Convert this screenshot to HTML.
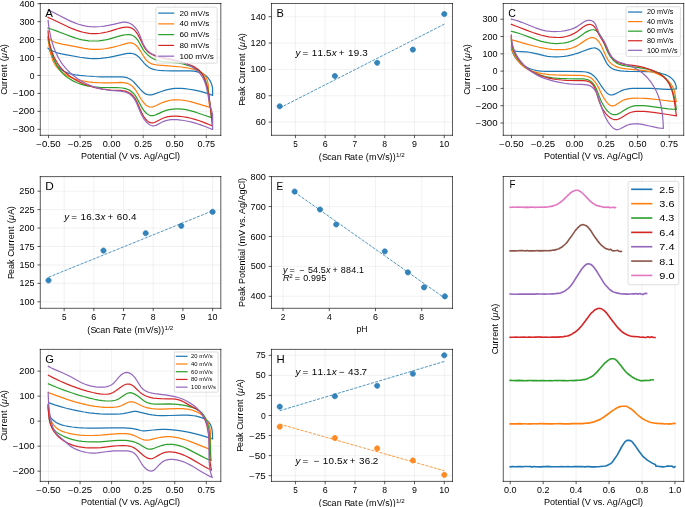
<!DOCTYPE html>
<html><head><meta charset="utf-8"><title>Figure</title>
<style>html,body{margin:0;padding:0;background:#fff;}body{width:685px;height:507px;overflow:hidden;font-family:"Liberation Sans",sans-serif;}svg{display:block;filter:blur(0.35px);}</style>
</head><body>
<svg width="685" height="507" viewBox="0 0 840.49 622.08" version="1.1">
<defs>
<style type="text/css">*{stroke-linejoin: round; stroke-linecap: butt}</style>
</defs>
<g id="figure_1">
<g id="patch_1">
<path d="M 0 622.08 
L 840.49 622.08 
L 840.49 0 
L 0 0 
z
" style="fill: #ffffff"/>
</g>
<g id="axes_1">
<g id="patch_2">
<path d="M 49.44 166.01 
L 270.92 166.01 
L 270.92 4.29 
L 49.44 4.29 
z
" style="fill: #ffffff"/>
</g>
<g id="matplotlib.axis_1">
<g id="xtick_1">
<g id="line2d_1">
<path d="M 59.51 166.01 
L 59.51 4.29 
" clip-path="url(#p12bb316b77)" style="fill: none; stroke: #b0b0b0; stroke-opacity: 0.25; stroke-width: 0.8; stroke-linecap: square"/>
</g>
<g id="line2d_2">
<defs>
<path id="mfdaa00ae71" d="M 0 0 
L 0 3.5 
" style="stroke: #000000; stroke-width: 0.8"/>
</defs>
<g>
<use href="#mfdaa00ae71" x="59.51" y="166.01" style="stroke: #000000; stroke-width: 0.8"/>
</g>
</g>
<g id="text_1">
<text style="font-size: 10px; font-family: 'Liberation Sans', sans-serif; text-anchor: middle" x="59.51" y="180.86" transform="rotate(-0 59.51 180.86)" textLength="29.96" lengthAdjust="spacingAndGlyphs">−0.50</text>
</g>
</g>
<g id="xtick_2">
<g id="line2d_3">
<path d="M 98.23 166.01 
L 98.23 4.29 
" clip-path="url(#p12bb316b77)" style="fill: none; stroke: #b0b0b0; stroke-opacity: 0.25; stroke-width: 0.8; stroke-linecap: square"/>
</g>
<g id="line2d_4">
<g>
<use href="#mfdaa00ae71" x="98.23" y="166.01" style="stroke: #000000; stroke-width: 0.8"/>
</g>
</g>
<g id="text_2">
<text style="font-size: 10px; font-family: 'Liberation Sans', sans-serif; text-anchor: middle" x="98.23" y="180.86" transform="rotate(-0 98.23 180.86)" textLength="29.78" lengthAdjust="spacingAndGlyphs">−0.25</text>
</g>
</g>
<g id="xtick_3">
<g id="line2d_5">
<path d="M 136.95 166.01 
L 136.95 4.29 
" clip-path="url(#p12bb316b77)" style="fill: none; stroke: #b0b0b0; stroke-opacity: 0.25; stroke-width: 0.8; stroke-linecap: square"/>
</g>
<g id="line2d_6">
<g>
<use href="#mfdaa00ae71" x="136.95" y="166.01" style="stroke: #000000; stroke-width: 0.8"/>
</g>
</g>
<g id="text_3">
<text style="font-size: 10px; font-family: 'Liberation Sans', sans-serif; text-anchor: middle" x="136.95" y="180.86" transform="rotate(-0 136.95 180.86)" textLength="21.81" lengthAdjust="spacingAndGlyphs">0.00</text>
</g>
</g>
<g id="xtick_4">
<g id="line2d_7">
<path d="M 175.67 166.01 
L 175.67 4.29 
" clip-path="url(#p12bb316b77)" style="fill: none; stroke: #b0b0b0; stroke-opacity: 0.25; stroke-width: 0.8; stroke-linecap: square"/>
</g>
<g id="line2d_8">
<g>
<use href="#mfdaa00ae71" x="175.67" y="166.01" style="stroke: #000000; stroke-width: 0.8"/>
</g>
</g>
<g id="text_4">
<text style="font-size: 10px; font-family: 'Liberation Sans', sans-serif; text-anchor: middle" x="175.67" y="180.86" transform="rotate(-0 175.67 180.86)" textLength="21.63" lengthAdjust="spacingAndGlyphs">0.25</text>
</g>
</g>
<g id="xtick_5">
<g id="line2d_9">
<path d="M 214.39 166.01 
L 214.39 4.29 
" clip-path="url(#p12bb316b77)" style="fill: none; stroke: #b0b0b0; stroke-opacity: 0.25; stroke-width: 0.8; stroke-linecap: square"/>
</g>
<g id="line2d_10">
<g>
<use href="#mfdaa00ae71" x="214.39" y="166.01" style="stroke: #000000; stroke-width: 0.8"/>
</g>
</g>
<g id="text_5">
<text style="font-size: 10px; font-family: 'Liberation Sans', sans-serif; text-anchor: middle" x="214.39" y="180.86" transform="rotate(-0 214.39 180.86)" textLength="21.81" lengthAdjust="spacingAndGlyphs">0.50</text>
</g>
</g>
<g id="xtick_6">
<g id="line2d_11">
<path d="M 253.10 166.01 
L 253.10 4.29 
" clip-path="url(#p12bb316b77)" style="fill: none; stroke: #b0b0b0; stroke-opacity: 0.25; stroke-width: 0.8; stroke-linecap: square"/>
</g>
<g id="line2d_12">
<g>
<use href="#mfdaa00ae71" x="253.10" y="166.01" style="stroke: #000000; stroke-width: 0.8"/>
</g>
</g>
<g id="text_6">
<text style="font-size: 10px; font-family: 'Liberation Sans', sans-serif; text-anchor: middle" x="253.10" y="180.86" transform="rotate(-0 253.10 180.86)" textLength="21.63" lengthAdjust="spacingAndGlyphs">0.75</text>
</g>
</g>
<g id="text_7">
<text style="font-size: 10px; font-family: 'Liberation Sans', sans-serif; text-anchor: middle" x="160.18" y="194.63" transform="rotate(-0 160.18 194.63)" textLength="121.56" lengthAdjust="spacingAndGlyphs">Potential (V vs. Ag/AgCl)</text>
</g>
</g>
<g id="matplotlib.axis_2">
<g id="ytick_1">
<g id="line2d_13">
<path d="M 49.44 158.63 
L 270.92 158.63 
" clip-path="url(#p12bb316b77)" style="fill: none; stroke: #b0b0b0; stroke-opacity: 0.25; stroke-width: 0.8; stroke-linecap: square"/>
</g>
<g id="line2d_14">
<defs>
<path id="m08813e3456" d="M 0 0 
L -3.5 0 
" style="stroke: #000000; stroke-width: 0.8"/>
</defs>
<g>
<use href="#m08813e3456" x="49.44" y="158.63" style="stroke: #000000; stroke-width: 0.8"/>
</g>
</g>
<g id="text_8">
<text style="font-size: 10px; font-family: 'Liberation Sans', sans-serif; text-anchor: end" x="42.44" y="162.43" transform="rotate(-0 42.44 162.43)" textLength="26.79" lengthAdjust="spacingAndGlyphs">−300</text>
</g>
</g>
<g id="ytick_2">
<g id="line2d_15">
<path d="M 49.44 136.61 
L 270.92 136.61 
" clip-path="url(#p12bb316b77)" style="fill: none; stroke: #b0b0b0; stroke-opacity: 0.25; stroke-width: 0.8; stroke-linecap: square"/>
</g>
<g id="line2d_16">
<g>
<use href="#m08813e3456" x="49.44" y="136.61" style="stroke: #000000; stroke-width: 0.8"/>
</g>
</g>
<g id="text_9">
<text style="font-size: 10px; font-family: 'Liberation Sans', sans-serif; text-anchor: end" x="42.44" y="140.41" transform="rotate(-0 42.44 140.41)" textLength="26.79" lengthAdjust="spacingAndGlyphs">−200</text>
</g>
</g>
<g id="ytick_3">
<g id="line2d_17">
<path d="M 49.44 114.60 
L 270.92 114.60 
" clip-path="url(#p12bb316b77)" style="fill: none; stroke: #b0b0b0; stroke-opacity: 0.25; stroke-width: 0.8; stroke-linecap: square"/>
</g>
<g id="line2d_18">
<g>
<use href="#m08813e3456" x="49.44" y="114.60" style="stroke: #000000; stroke-width: 0.8"/>
</g>
</g>
<g id="text_10">
<text style="font-size: 10px; font-family: 'Liberation Sans', sans-serif; text-anchor: end" x="42.44" y="118.40" transform="rotate(-0 42.44 118.40)" textLength="26.79" lengthAdjust="spacingAndGlyphs">−100</text>
</g>
</g>
<g id="ytick_4">
<g id="line2d_19">
<path d="M 49.44 92.58 
L 270.92 92.58 
" clip-path="url(#p12bb316b77)" style="fill: none; stroke: #b0b0b0; stroke-opacity: 0.25; stroke-width: 0.8; stroke-linecap: square"/>
</g>
<g id="line2d_20">
<g>
<use href="#m08813e3456" x="49.44" y="92.58" style="stroke: #000000; stroke-width: 0.8"/>
</g>
</g>
<g id="text_11">
<text style="font-size: 10px; font-family: 'Liberation Sans', sans-serif; text-anchor: end" x="42.44" y="96.38" transform="rotate(-0 42.44 96.38)" textLength="5.86" lengthAdjust="spacingAndGlyphs">0</text>
</g>
</g>
<g id="ytick_5">
<g id="line2d_21">
<path d="M 49.44 70.56 
L 270.92 70.56 
" clip-path="url(#p12bb316b77)" style="fill: none; stroke: #b0b0b0; stroke-opacity: 0.25; stroke-width: 0.8; stroke-linecap: square"/>
</g>
<g id="line2d_22">
<g>
<use href="#m08813e3456" x="49.44" y="70.56" style="stroke: #000000; stroke-width: 0.8"/>
</g>
</g>
<g id="text_12">
<text style="font-size: 10px; font-family: 'Liberation Sans', sans-serif; text-anchor: end" x="42.44" y="74.36" transform="rotate(-0 42.44 74.36)" textLength="18.60" lengthAdjust="spacingAndGlyphs">100</text>
</g>
</g>
<g id="ytick_6">
<g id="line2d_23">
<path d="M 49.44 48.54 
L 270.92 48.54 
" clip-path="url(#p12bb316b77)" style="fill: none; stroke: #b0b0b0; stroke-opacity: 0.25; stroke-width: 0.8; stroke-linecap: square"/>
</g>
<g id="line2d_24">
<g>
<use href="#m08813e3456" x="49.44" y="48.54" style="stroke: #000000; stroke-width: 0.8"/>
</g>
</g>
<g id="text_13">
<text style="font-size: 10px; font-family: 'Liberation Sans', sans-serif; text-anchor: end" x="42.44" y="52.34" transform="rotate(-0 42.44 52.34)" textLength="18.69" lengthAdjust="spacingAndGlyphs">200</text>
</g>
</g>
<g id="ytick_7">
<g id="line2d_25">
<path d="M 49.44 26.53 
L 270.92 26.53 
" clip-path="url(#p12bb316b77)" style="fill: none; stroke: #b0b0b0; stroke-opacity: 0.25; stroke-width: 0.8; stroke-linecap: square"/>
</g>
<g id="line2d_26">
<g>
<use href="#m08813e3456" x="49.44" y="26.53" style="stroke: #000000; stroke-width: 0.8"/>
</g>
</g>
<g id="text_14">
<text style="font-size: 10px; font-family: 'Liberation Sans', sans-serif; text-anchor: end" x="42.44" y="30.33" transform="rotate(-0 42.44 30.33)" textLength="18.52" lengthAdjust="spacingAndGlyphs">300</text>
</g>
</g>
<g id="ytick_8">
<g id="line2d_27">
<path d="M 49.44 4.51 
L 270.92 4.51 
" clip-path="url(#p12bb316b77)" style="fill: none; stroke: #b0b0b0; stroke-opacity: 0.25; stroke-width: 0.8; stroke-linecap: square"/>
</g>
<g id="line2d_28">
<g>
<use href="#m08813e3456" x="49.44" y="4.51" style="stroke: #000000; stroke-width: 0.8"/>
</g>
</g>
<g id="text_15">
<text style="font-size: 10px; font-family: 'Liberation Sans', sans-serif; text-anchor: end" x="42.44" y="8.31" transform="rotate(-0 42.44 8.31)" textLength="18.62" lengthAdjust="spacingAndGlyphs">400</text>
</g>
</g>
<g id="text_16">
<g transform="translate(8.88 116.25) rotate(-90) scale(1.1 1)">
<text>
<tspan x="0.00" y="-0.40" style="font-size: 10px; font-family: 'Liberation Sans'">C</tspan>
<tspan x="6.34" y="-0.40" style="font-size: 10px; font-family: 'Liberation Sans'">u</tspan>
<tspan x="12.10" y="-0.40" style="font-size: 10px; font-family: 'Liberation Sans'">r</tspan>
<tspan x="15.84" y="-0.40" style="font-size: 10px; font-family: 'Liberation Sans'">r</tspan>
<tspan x="19.58" y="-0.40" style="font-size: 10px; font-family: 'Liberation Sans'">e</tspan>
<tspan x="25.17" y="-0.40" style="font-size: 10px; font-family: 'Liberation Sans'">n</tspan>
<tspan x="30.93" y="-0.40" style="font-size: 10px; font-family: 'Liberation Sans'">t</tspan>
<tspan x="34.50" y="-0.40" style="font-size: 10px; font-family: 'Liberation Sans'"> </tspan>
<tspan x="37.39" y="-0.40" style="font-size: 10px; font-family: 'Liberation Sans'">(</tspan>
<tspan x="46.72" y="-0.40" style="font-size: 10px; font-family: 'Liberation Sans'">A</tspan>
<tspan x="52.94" y="-0.40" style="font-size: 10px; font-family: 'Liberation Sans'">)</tspan>
<tspan x="40.94" y="-0.40" style="font-style: italic; font-size: 10px; font-family: 'Liberation Sans'">μ</tspan>
</text>
</g>
</g>
</g>
<g id="line2d_29">
<path d="M 58.89 59.14 
L 60.97 60.57 
L 63.12 61.82 
L 65.33 62.89 
L 68.36 64.10 
L 71.46 65.08 
L 75.43 66.08 
L 80.28 67.05 
L 98.19 70.23 
L 103.90 71.03 
L 108.80 71.53 
L 113.71 71.80 
L 118.63 71.82 
L 123.55 71.60 
L 128.45 71.12 
L 133.32 70.39 
L 138.17 69.41 
L 154.60 65.80 
L 157.10 65.50 
L 159.55 65.41 
L 161.91 65.61 
L 163.43 65.92 
L 164.88 66.40 
L 166.28 67.03 
L 167.62 67.80 
L 169.51 69.22 
L 171.27 70.91 
L 173.48 73.44 
L 177.34 78.00 
L 179.12 79.77 
L 180.99 81.36 
L 182.98 82.75 
L 185.09 83.89 
L 187.32 84.78 
L 189.68 85.42 
L 192.11 85.87 
L 195.44 86.24 
L 201.29 86.58 
L 210.29 86.86 
L 221.73 86.97 
L 233.56 87.09 
L 237.77 87.39 
L 241.06 87.86 
L 243.45 88.38 
L 245.76 89.08 
L 247.97 89.97 
L 250.07 91.08 
L 252.05 92.44 
L 253.87 94.05 
L 255.53 95.88 
L 256.99 97.90 
L 258.25 100.09 
L 259.27 102.40 
L 260.06 104.82 
L 260.63 107.30 
L 260.85 108.98 
L 260.85 117.17 
L 257.06 115.56 
L 253.19 114.17 
L 249.26 112.97 
L 244.48 111.76 
L 238.81 110.60 
L 232.26 109.51 
L 226.49 108.79 
L 222.38 108.47 
L 218.30 108.37 
L 215.06 108.48 
L 211.84 108.77 
L 208.63 109.25 
L 205.41 109.93 
L 202.16 110.82 
L 198.88 111.92 
L 188.16 115.88 
L 185.80 116.37 
L 184.27 116.52 
L 182.79 116.49 
L 181.36 116.25 
L 179.99 115.81 
L 178.66 115.19 
L 177.37 114.41 
L 175.51 112.97 
L 173.71 111.29 
L 171.38 108.77 
L 164.46 100.90 
L 162.66 99.22 
L 160.77 97.76 
L 158.78 96.56 
L 156.65 95.64 
L 154.38 94.98 
L 152.01 94.55 
L 149.55 94.31 
L 146.17 94.19 
L 140.17 94.28 
L 131.74 94.36 
L 123.51 94.22 
L 115.38 93.87 
L 106.43 93.25 
L 97.35 92.41 
L 92.37 91.75 
L 88.28 90.98 
L 85.08 90.15 
L 81.98 89.08 
L 79.73 88.10 
L 77.56 86.95 
L 75.49 85.62 
L 73.57 84.10 
L 71.81 82.39 
L 70.23 80.51 
L 68.81 78.49 
L 67.12 75.64 
L 65.63 72.66 
L 63.62 68.09 
L 60.96 62.05 
L 59.87 59.87 
L 59.87 59.87 
" clip-path="url(#p12bb316b77)" style="fill: none; stroke: #1f77b4; stroke-width: 1.5; stroke-linecap: square"/>
</g>
<g id="line2d_30">
<path d="M 58.89 46.01 
L 60.74 47.79 
L 62.70 49.29 
L 64.78 50.53 
L 66.94 51.56 
L 69.19 52.39 
L 72.29 53.27 
L 76.30 54.11 
L 92.69 57.10 
L 103.24 59.29 
L 108.10 60.06 
L 112.15 60.50 
L 116.21 60.69 
L 120.27 60.62 
L 124.34 60.33 
L 128.40 59.83 
L 133.28 59.01 
L 138.97 57.79 
L 145.45 56.13 
L 153.51 53.82 
L 156.71 52.94 
L 158.28 52.66 
L 159.82 52.55 
L 161.33 52.70 
L 162.78 53.11 
L 164.18 53.75 
L 165.52 54.58 
L 166.78 55.58 
L 168.52 57.31 
L 170.10 59.24 
L 172.01 62.03 
L 175.10 67.19 
L 177.36 70.76 
L 178.83 72.75 
L 180.44 74.54 
L 182.22 76.10 
L 183.52 76.98 
L 184.94 77.71 
L 186.45 78.31 
L 188.86 78.99 
L 191.40 79.47 
L 195.71 80.00 
L 202.46 80.60 
L 222.67 82.20 
L 227.48 82.86 
L 232.33 83.74 
L 236.43 84.70 
L 239.70 85.65 
L 242.87 86.82 
L 245.13 87.87 
L 247.23 89.09 
L 249.14 90.50 
L 250.28 91.56 
L 251.31 92.72 
L 252.21 93.99 
L 252.99 95.36 
L 253.94 97.59 
L 254.67 99.99 
L 255.21 102.53 
L 255.67 106.09 
L 255.92 109.76 
L 256.06 115.32 
L 256.25 123.24 
L 256.52 126.40 
L 256.86 128.56 
L 257.35 130.50 
L 257.79 131.65 
L 251.46 129.89 
L 234.78 125.06 
L 229.99 123.95 
L 225.98 123.21 
L 221.97 122.69 
L 218.75 122.47 
L 215.53 122.43 
L 212.30 122.60 
L 209.06 123.01 
L 205.82 123.67 
L 202.56 124.61 
L 199.31 125.85 
L 196.04 127.38 
L 191.20 129.71 
L 188.84 130.62 
L 187.31 131.05 
L 185.80 131.28 
L 184.33 131.28 
L 182.90 131.02 
L 181.52 130.48 
L 180.19 129.70 
L 178.92 128.72 
L 177.11 126.94 
L 175.44 124.93 
L 173.44 122.08 
L 171.18 118.40 
L 167.29 111.89 
L 165.41 109.21 
L 163.86 107.36 
L 162.15 105.69 
L 160.28 104.23 
L 158.95 103.42 
L 157.55 102.74 
L 156.07 102.21 
L 153.74 101.65 
L 151.30 101.34 
L 147.93 101.20 
L 143.63 101.32 
L 134.35 101.70 
L 127.86 101.70 
L 120.58 101.44 
L 114.00 101.00 
L 108.21 100.39 
L 103.27 99.65 
L 99.19 98.85 
L 95.18 97.86 
L 91.26 96.65 
L 87.44 95.21 
L 84.48 93.87 
L 81.61 92.36 
L 78.85 90.66 
L 76.21 88.75 
L 73.69 86.64 
L 71.32 84.30 
L 69.65 82.40 
L 68.12 80.39 
L 66.78 78.27 
L 65.65 76.08 
L 64.70 73.81 
L 63.64 70.71 
L 62.32 65.97 
L 61.00 60.36 
L 59.91 54.71 
L 58.89 48.22 
L 58.89 48.22 
" clip-path="url(#p12bb316b77)" style="fill: none; stroke: #ff7f0e; stroke-width: 1.5; stroke-linecap: square"/>
</g>
<g id="line2d_31">
<path d="M 58.89 34.47 
L 63.58 35.93 
L 69.00 37.85 
L 77.45 41.14 
L 86.69 44.68 
L 92.14 46.53 
L 96.87 47.89 
L 100.87 48.81 
L 104.92 49.53 
L 109.00 50.02 
L 113.10 50.29 
L 117.21 50.32 
L 121.32 50.11 
L 125.41 49.64 
L 129.47 48.91 
L 133.49 47.94 
L 139.88 46.11 
L 147.08 44.08 
L 151.11 43.16 
L 154.37 42.62 
L 156.80 42.41 
L 158.40 42.42 
L 159.95 42.61 
L 161.44 43.00 
L 162.86 43.59 
L 164.20 44.37 
L 165.47 45.32 
L 166.65 46.40 
L 168.26 48.24 
L 169.68 50.27 
L 171.39 53.18 
L 175.11 59.92 
L 176.52 62.02 
L 178.05 64.00 
L 179.71 65.85 
L 181.48 67.56 
L 183.35 69.12 
L 185.34 70.52 
L 187.41 71.76 
L 189.58 72.81 
L 191.83 73.68 
L 194.16 74.37 
L 197.37 75.05 
L 201.49 75.62 
L 208.18 76.24 
L 214.83 76.92 
L 219.74 77.61 
L 224.58 78.53 
L 228.54 79.51 
L 232.42 80.74 
L 235.47 81.93 
L 238.46 83.32 
L 241.37 84.93 
L 243.45 86.31 
L 245.37 87.86 
L 247.09 89.61 
L 248.59 91.54 
L 249.87 93.64 
L 250.99 95.86 
L 252.24 98.95 
L 253.53 102.91 
L 254.57 106.92 
L 255.41 110.95 
L 256.21 115.82 
L 257.01 122.36 
L 259.25 142.79 
L 259.50 144.41 
L 252.67 142.05 
L 240.96 137.98 
L 235.38 136.30 
L 230.56 135.10 
L 226.51 134.32 
L 222.46 133.79 
L 219.20 133.58 
L 215.94 133.57 
L 212.68 133.77 
L 209.42 134.20 
L 206.17 134.88 
L 202.92 135.81 
L 199.68 137.00 
L 196.46 138.46 
L 191.70 140.65 
L 189.39 141.46 
L 187.88 141.80 
L 186.41 141.94 
L 184.97 141.83 
L 183.57 141.46 
L 182.21 140.84 
L 180.90 140.00 
L 179.65 138.98 
L 177.87 137.17 
L 176.22 135.12 
L 174.73 132.93 
L 172.95 129.91 
L 170.55 125.32 
L 167.79 120.13 
L 166.05 117.39 
L 164.60 115.49 
L 162.97 113.75 
L 161.17 112.20 
L 159.22 110.88 
L 157.12 109.81 
L 154.90 109.00 
L 152.56 108.40 
L 150.14 107.99 
L 146.82 107.66 
L 142.57 107.50 
L 121.69 107.08 
L 116.00 106.62 
L 111.16 106.01 
L 107.15 105.29 
L 103.16 104.37 
L 99.19 103.20 
L 95.29 101.80 
L 91.47 100.14 
L 88.51 98.64 
L 85.66 96.98 
L 82.93 95.15 
L 80.35 93.15 
L 77.92 90.98 
L 75.69 88.65 
L 73.64 86.14 
L 71.78 83.49 
L 70.09 80.70 
L 68.56 77.79 
L 66.85 74.01 
L 65.34 70.12 
L 63.75 65.34 
L 62.38 60.49 
L 60.79 54.03 
L 58.89 45.39 
L 58.89 45.39 
" clip-path="url(#p12bb316b77)" style="fill: none; stroke: #2ca02c; stroke-width: 1.5; stroke-linecap: square"/>
</g>
<g id="line2d_32">
<path d="M 58.89 21.35 
L 64.79 23.98 
L 73.70 28.27 
L 83.48 32.90 
L 88.81 35.20 
L 93.42 36.97 
L 98.08 38.51 
L 102.00 39.58 
L 105.96 40.41 
L 109.15 40.89 
L 112.37 41.18 
L 115.62 41.27 
L 118.89 41.16 
L 123.00 40.78 
L 127.10 40.14 
L 131.19 39.27 
L 135.25 38.21 
L 140.06 36.71 
L 146.40 34.71 
L 149.59 33.93 
L 152.01 33.51 
L 154.45 33.28 
L 156.88 33.31 
L 158.47 33.51 
L 159.99 33.89 
L 161.43 34.47 
L 162.78 35.24 
L 164.04 36.18 
L 165.22 37.27 
L 166.84 39.12 
L 168.30 41.16 
L 170.04 44.06 
L 171.97 47.86 
L 176.04 56.23 
L 177.73 59.04 
L 179.14 61.00 
L 180.71 62.78 
L 182.49 64.36 
L 184.48 65.72 
L 186.66 66.88 
L 189.74 68.19 
L 193.70 69.56 
L 198.49 70.92 
L 204.10 72.25 
L 214.52 74.38 
L 220.89 75.79 
L 225.62 77.05 
L 229.53 78.29 
L 233.41 79.75 
L 236.47 81.13 
L 239.45 82.71 
L 241.58 84.06 
L 243.55 85.57 
L 245.33 87.25 
L 246.88 89.11 
L 248.22 91.14 
L 249.38 93.30 
L 250.69 96.33 
L 251.81 99.47 
L 253.26 104.24 
L 254.49 109.04 
L 255.69 114.67 
L 256.68 120.32 
L 257.61 126.81 
L 258.55 134.96 
L 260.49 154.60 
L 254.51 151.92 
L 249.17 149.77 
L 243.73 147.83 
L 239.01 146.37 
L 234.22 145.11 
L 229.39 144.06 
L 224.51 143.26 
L 220.41 142.79 
L 216.28 142.52 
L 212.98 142.51 
L 209.69 142.71 
L 206.41 143.19 
L 203.98 143.74 
L 201.56 144.49 
L 199.17 145.45 
L 196.81 146.62 
L 190.72 149.79 
L 189.25 150.34 
L 187.82 150.70 
L 186.41 150.82 
L 185.04 150.66 
L 183.70 150.22 
L 182.41 149.53 
L 181.16 148.61 
L 179.95 147.51 
L 178.25 145.58 
L 176.68 143.39 
L 175.26 141.06 
L 173.60 137.87 
L 171.80 133.84 
L 167.81 124.52 
L 166.29 121.69 
L 165.00 119.69 
L 163.54 117.83 
L 161.90 116.15 
L 160.08 114.67 
L 158.08 113.45 
L 155.92 112.52 
L 153.61 111.85 
L 151.19 111.38 
L 147.84 111.01 
L 143.54 110.79 
L 135.93 110.43 
L 131.03 109.99 
L 126.23 109.35 
L 121.46 108.49 
L 116.68 107.41 
L 111.90 106.10 
L 107.17 104.54 
L 102.51 102.75 
L 98.71 101.07 
L 94.99 99.21 
L 91.39 97.18 
L 87.91 94.97 
L 84.57 92.57 
L 81.40 89.99 
L 78.41 87.22 
L 76.16 84.86 
L 74.05 82.39 
L 72.08 79.78 
L 70.25 77.07 
L 68.17 73.53 
L 66.31 69.86 
L 64.66 66.06 
L 63.23 62.17 
L 62.01 58.20 
L 61.00 54.17 
L 60.20 50.11 
L 59.60 46.03 
L 59.21 41.96 
L 59.01 37.91 
L 59.01 37.91 
" clip-path="url(#p12bb316b77)" style="fill: none; stroke: #d62728; stroke-width: 1.5; stroke-linecap: square"/>
</g>
<g id="line2d_33">
<path d="M 59.26 12.27 
L 65.11 15.09 
L 74.62 20.01 
L 82.73 24.10 
L 87.97 26.51 
L 92.51 28.37 
L 96.35 29.73 
L 100.25 30.88 
L 104.20 31.79 
L 107.42 32.32 
L 111.49 32.74 
L 115.60 32.90 
L 119.73 32.81 
L 123.86 32.51 
L 127.96 32.00 
L 132.82 31.17 
L 139.24 29.80 
L 149.68 27.53 
L 152.09 27.23 
L 153.69 27.21 
L 155.26 27.36 
L 156.80 27.71 
L 158.31 28.22 
L 159.77 28.90 
L 161.87 30.17 
L 163.83 31.72 
L 165.64 33.49 
L 167.25 35.43 
L 168.65 37.50 
L 169.87 39.67 
L 171.25 42.66 
L 173.06 47.28 
L 175.19 52.70 
L 176.60 55.70 
L 177.82 57.86 
L 179.19 59.90 
L 180.75 61.77 
L 182.51 63.45 
L 184.50 64.91 
L 186.66 66.17 
L 188.94 67.24 
L 192.07 68.42 
L 195.19 69.38 
L 199.11 70.33 
L 206.21 71.76 
L 211.84 72.96 
L 216.71 74.21 
L 221.55 75.69 
L 225.52 77.12 
L 229.37 78.76 
L 233.07 80.61 
L 235.90 82.27 
L 238.58 84.08 
L 241.11 86.07 
L 243.45 88.23 
L 245.58 90.59 
L 247.04 92.48 
L 248.36 94.49 
L 249.54 96.62 
L 250.90 99.62 
L 252.04 102.78 
L 253.00 106.06 
L 254.01 110.25 
L 255.16 116.16 
L 257.11 126.54 
L 257.99 130.10 
L 260.82 140.00 
L 260.85 142.93 
L 260.85 158.89 
L 252.48 155.54 
L 246.30 153.28 
L 240.82 151.48 
L 235.28 149.90 
L 230.47 148.75 
L 225.61 147.83 
L 221.52 147.26 
L 217.39 146.88 
L 214.06 146.75 
L 210.74 146.83 
L 207.45 147.17 
L 205.01 147.63 
L 202.61 148.28 
L 200.26 149.16 
L 197.96 150.28 
L 191.35 153.85 
L 189.92 154.30 
L 188.48 154.50 
L 187.04 154.40 
L 185.62 154.02 
L 184.21 153.39 
L 182.84 152.55 
L 181.51 151.53 
L 179.61 149.72 
L 177.86 147.67 
L 176.30 145.49 
L 174.93 143.25 
L 173.34 140.18 
L 171.63 136.28 
L 167.18 125.58 
L 165.65 122.75 
L 164.34 120.73 
L 162.85 118.84 
L 161.19 117.10 
L 159.35 115.59 
L 158.03 114.72 
L 155.91 113.68 
L 153.65 112.89 
L 151.28 112.32 
L 147.98 111.82 
L 143.73 111.45 
L 135.26 110.77 
L 130.33 110.13 
L 125.48 109.26 
L 121.50 108.34 
L 117.55 107.23 
L 113.66 105.92 
L 109.82 104.42 
L 106.06 102.74 
L 102.39 100.87 
L 98.81 98.82 
L 95.34 96.60 
L 91.99 94.21 
L 88.77 91.65 
L 85.70 88.93 
L 82.78 86.05 
L 80.03 83.02 
L 77.46 79.84 
L 75.09 76.52 
L 72.90 73.05 
L 70.91 69.47 
L 69.10 65.77 
L 67.45 61.98 
L 65.70 57.32 
L 64.17 52.58 
L 62.84 47.77 
L 61.54 42.10 
L 60.49 36.42 
L 59.65 30.75 
L 59.01 25.15 
L 59.01 25.15 
" clip-path="url(#p12bb316b77)" style="fill: none; stroke: #9467bd; stroke-width: 1.5; stroke-linecap: square"/>
</g>
<g id="patch_3">
<path d="M 49.44 166.01 
L 49.44 4.29 
" style="fill: none; stroke: #000000; stroke-width: 0.8; stroke-linejoin: miter; stroke-linecap: square"/>
</g>
<g id="patch_4">
<path d="M 270.92 166.01 
L 270.92 4.29 
" style="fill: none; stroke: #000000; stroke-width: 0.8; stroke-linejoin: miter; stroke-linecap: square"/>
</g>
<g id="patch_5">
<path d="M 49.44 166.01 
L 270.92 166.01 
" style="fill: none; stroke: #000000; stroke-width: 0.8; stroke-linejoin: miter; stroke-linecap: square"/>
</g>
<g id="patch_6">
<path d="M 49.44 4.29 
L 270.92 4.29 
" style="fill: none; stroke: #000000; stroke-width: 0.8; stroke-linejoin: miter; stroke-linecap: square"/>
</g>
<g id="text_17">
<text style="font-size: 14px; font-family: 'Liberation Sans', sans-serif; text-anchor: start" x="55.64" y="21.07" transform="rotate(-0 55.64 21.07)" textLength="9.40" lengthAdjust="spacingAndGlyphs">A</text>
</g>
<g id="legend_1">
<g id="patch_7">
<path d="M 193.13 77.54 
L 264.62 77.54 
Q 266.42 77.54 266.42 75.74 
L 266.42 10.59 
Q 266.42 8.79 264.62 8.79 
L 193.13 8.79 
Q 191.33 8.79 191.33 10.59 
L 191.33 75.74 
Q 191.33 77.54 193.13 77.54 
z
" style="fill: #ffffff; opacity: 0.8; stroke: #cccccc; stroke-linejoin: miter"/>
</g>
<g id="line2d_34">
<path d="M 194.93 16.08 
L 203.93 16.08 
L 212.93 16.08 
" style="fill: none; stroke: #1f77b4; stroke-width: 1.5; stroke-linecap: square"/>
</g>
<g id="text_18">
<text style="font-size: 9px; font-family: 'Liberation Sans', sans-serif; text-anchor: start" x="220.13" y="19.23" transform="rotate(-0 220.13 19.23)" textLength="36.71" lengthAdjust="spacingAndGlyphs">20 mV/s</text>
</g>
<g id="line2d_35">
<path d="M 194.93 29.29 
L 203.93 29.29 
L 212.93 29.29 
" style="fill: none; stroke: #ff7f0e; stroke-width: 1.5; stroke-linecap: square"/>
</g>
<g id="text_19">
<text style="font-size: 9px; font-family: 'Liberation Sans', sans-serif; text-anchor: start" x="220.13" y="32.44" transform="rotate(-0 220.13 32.44)" textLength="36.66" lengthAdjust="spacingAndGlyphs">40 mV/s</text>
</g>
<g id="line2d_36">
<path d="M 194.93 42.50 
L 203.93 42.50 
L 212.93 42.50 
" style="fill: none; stroke: #2ca02c; stroke-width: 1.5; stroke-linecap: square"/>
</g>
<g id="text_20">
<text style="font-size: 9px; font-family: 'Liberation Sans', sans-serif; text-anchor: start" x="220.13" y="45.65" transform="rotate(-0 220.13 45.65)" textLength="36.75" lengthAdjust="spacingAndGlyphs">60 mV/s</text>
</g>
<g id="line2d_37">
<path d="M 194.93 55.71 
L 203.93 55.71 
L 212.93 55.71 
" style="fill: none; stroke: #d62728; stroke-width: 1.5; stroke-linecap: square"/>
</g>
<g id="text_21">
<text style="font-size: 9px; font-family: 'Liberation Sans', sans-serif; text-anchor: start" x="220.13" y="58.86" transform="rotate(-0 220.13 58.86)" textLength="36.69" lengthAdjust="spacingAndGlyphs">80 mV/s</text>
</g>
<g id="line2d_38">
<path d="M 194.93 68.92 
L 203.93 68.92 
L 212.93 68.92 
" style="fill: none; stroke: #9467bd; stroke-width: 1.5; stroke-linecap: square"/>
</g>
<g id="text_22">
<text style="font-size: 9px; font-family: 'Liberation Sans', sans-serif; text-anchor: start" x="220.13" y="72.07" transform="rotate(-0 220.13 72.07)" textLength="42.38" lengthAdjust="spacingAndGlyphs">100 mV/s</text>
</g>
</g>
</g>
<g id="axes_2">
<g id="patch_8">
<path d="M 333.12 166.01 
L 555.21 166.01 
L 555.21 4.29 
L 333.12 4.29 
z
" style="fill: #ffffff"/>
</g>
<g id="matplotlib.axis_3">
<g id="xtick_7">
<g id="line2d_39">
<path d="M 362.49 166.01 
L 362.49 4.29 
" clip-path="url(#pfe978ec8fa)" style="fill: none; stroke: #b0b0b0; stroke-opacity: 0.25; stroke-width: 0.8; stroke-linecap: square"/>
</g>
<g id="line2d_40">
<g>
<use href="#mfdaa00ae71" x="362.49" y="166.01" style="stroke: #000000; stroke-width: 0.8"/>
</g>
</g>
<g id="text_23">
<text style="font-size: 10px; font-family: 'Liberation Sans', sans-serif; text-anchor: middle" x="362.49" y="180.86" transform="rotate(-0 362.49 180.86)" textLength="5.53" lengthAdjust="spacingAndGlyphs">5</text>
</g>
</g>
<g id="xtick_8">
<g id="line2d_41">
<path d="M 399.02 166.01 
L 399.02 4.29 
" clip-path="url(#pfe978ec8fa)" style="fill: none; stroke: #b0b0b0; stroke-opacity: 0.25; stroke-width: 0.8; stroke-linecap: square"/>
</g>
<g id="line2d_42">
<g>
<use href="#mfdaa00ae71" x="399.02" y="166.01" style="stroke: #000000; stroke-width: 0.8"/>
</g>
</g>
<g id="text_24">
<text style="font-size: 10px; font-family: 'Liberation Sans', sans-serif; text-anchor: middle" x="399.02" y="180.86" transform="rotate(-0 399.02 180.86)" textLength="6.06" lengthAdjust="spacingAndGlyphs">6</text>
</g>
</g>
<g id="xtick_9">
<g id="line2d_43">
<path d="M 435.55 166.01 
L 435.55 4.29 
" clip-path="url(#pfe978ec8fa)" style="fill: none; stroke: #b0b0b0; stroke-opacity: 0.25; stroke-width: 0.8; stroke-linecap: square"/>
</g>
<g id="line2d_44">
<g>
<use href="#mfdaa00ae71" x="435.55" y="166.01" style="stroke: #000000; stroke-width: 0.8"/>
</g>
</g>
<g id="text_25">
<text style="font-size: 10px; font-family: 'Liberation Sans', sans-serif; text-anchor: middle" x="435.55" y="180.86" transform="rotate(-0 435.55 180.86)" textLength="5.73" lengthAdjust="spacingAndGlyphs">7</text>
</g>
</g>
<g id="xtick_10">
<g id="line2d_45">
<path d="M 472.07 166.01 
L 472.07 4.29 
" clip-path="url(#pfe978ec8fa)" style="fill: none; stroke: #b0b0b0; stroke-opacity: 0.25; stroke-width: 0.8; stroke-linecap: square"/>
</g>
<g id="line2d_46">
<g>
<use href="#mfdaa00ae71" x="472.07" y="166.01" style="stroke: #000000; stroke-width: 0.8"/>
</g>
</g>
<g id="text_26">
<text style="font-size: 10px; font-family: 'Liberation Sans', sans-serif; text-anchor: middle" x="472.07" y="180.86" transform="rotate(-0 472.07 180.86)" textLength="5.91" lengthAdjust="spacingAndGlyphs">8</text>
</g>
</g>
<g id="xtick_11">
<g id="line2d_47">
<path d="M 508.60 166.01 
L 508.60 4.29 
" clip-path="url(#pfe978ec8fa)" style="fill: none; stroke: #b0b0b0; stroke-opacity: 0.25; stroke-width: 0.8; stroke-linecap: square"/>
</g>
<g id="line2d_48">
<g>
<use href="#mfdaa00ae71" x="508.60" y="166.01" style="stroke: #000000; stroke-width: 0.8"/>
</g>
</g>
<g id="text_27">
<text style="font-size: 10px; font-family: 'Liberation Sans', sans-serif; text-anchor: middle" x="508.60" y="180.86" transform="rotate(-0 508.60 180.86)" textLength="6.05" lengthAdjust="spacingAndGlyphs">9</text>
</g>
</g>
<g id="xtick_12">
<g id="line2d_49">
<path d="M 545.13 166.01 
L 545.13 4.29 
" clip-path="url(#pfe978ec8fa)" style="fill: none; stroke: #b0b0b0; stroke-opacity: 0.25; stroke-width: 0.8; stroke-linecap: square"/>
</g>
<g id="line2d_50">
<g>
<use href="#mfdaa00ae71" x="545.13" y="166.01" style="stroke: #000000; stroke-width: 0.8"/>
</g>
</g>
<g id="text_28">
<text style="font-size: 10px; font-family: 'Liberation Sans', sans-serif; text-anchor: middle" x="545.13" y="180.86" transform="rotate(-0 545.13 180.86)" textLength="12.22" lengthAdjust="spacingAndGlyphs">10</text>
</g>
</g>
<g id="text_29">
<g transform="translate(391.17 197.16) scale(1.1 1)">
<text>
<tspan x="0.00" y="-0.97" style="font-size: 10px; font-family: 'Liberation Sans'">(</tspan>
<tspan x="3.54" y="-0.97" style="font-size: 10px; font-family: 'Liberation Sans'">S</tspan>
<tspan x="9.31" y="-0.97" style="font-size: 10px; font-family: 'Liberation Sans'">c</tspan>
<tspan x="14.31" y="-0.97" style="font-size: 10px; font-family: 'Liberation Sans'">a</tspan>
<tspan x="19.88" y="-0.97" style="font-size: 10px; font-family: 'Liberation Sans'">n</tspan>
<tspan x="25.64" y="-0.97" style="font-size: 10px; font-family: 'Liberation Sans'"> </tspan>
<tspan x="28.53" y="-0.97" style="font-size: 10px; font-family: 'Liberation Sans'">R</tspan>
<tspan x="34.85" y="-0.97" style="font-size: 10px; font-family: 'Liberation Sans'">a</tspan>
<tspan x="40.42" y="-0.97" style="font-size: 10px; font-family: 'Liberation Sans'">t</tspan>
<tspan x="43.98" y="-0.97" style="font-size: 10px; font-family: 'Liberation Sans'">e</tspan>
<tspan x="49.58" y="-0.97" style="font-size: 10px; font-family: 'Liberation Sans'"> </tspan>
<tspan x="52.47" y="-0.97" style="font-size: 10px; font-family: 'Liberation Sans'">(</tspan>
<tspan x="56.01" y="-0.97" style="font-size: 10px; font-family: 'Liberation Sans'">m</tspan>
<tspan x="64.87" y="-0.97" style="font-size: 10px; font-family: 'Liberation Sans'">V</tspan>
<tspan x="71.09" y="-0.97" style="font-size: 10px; font-family: 'Liberation Sans'">/</tspan>
<tspan x="74.15" y="-0.97" style="font-size: 10px; font-family: 'Liberation Sans'">s</tspan>
<tspan x="78.89" y="-0.97" style="font-size: 10px; font-family: 'Liberation Sans'">)</tspan>
<tspan x="82.43" y="-0.97" style="font-size: 10px; font-family: 'Liberation Sans'">)</tspan>
<tspan x="86.07" y="-4.80" style="font-size: 7px; font-family: 'Liberation Sans'">1</tspan>
<tspan x="90.12" y="-4.80" style="font-size: 7px; font-family: 'Liberation Sans'">/</tspan>
<tspan x="92.02" y="-4.80" style="font-size: 7px; font-family: 'Liberation Sans'">2</tspan>
</text>
</g>
</g>
</g>
<g id="matplotlib.axis_4">
<g id="ytick_9">
<g id="line2d_51">
<path d="M 333.12 149.84 
L 555.21 149.84 
" clip-path="url(#pfe978ec8fa)" style="fill: none; stroke: #b0b0b0; stroke-opacity: 0.25; stroke-width: 0.8; stroke-linecap: square"/>
</g>
<g id="line2d_52">
<g>
<use href="#m08813e3456" x="333.12" y="149.84" style="stroke: #000000; stroke-width: 0.8"/>
</g>
</g>
<g id="text_30">
<text style="font-size: 10px; font-family: 'Liberation Sans', sans-serif; text-anchor: end" x="326.12" y="153.64" transform="rotate(-0 326.12 153.64)" textLength="12.36" lengthAdjust="spacingAndGlyphs">60</text>
</g>
</g>
<g id="ytick_10">
<g id="line2d_53">
<path d="M 333.12 117.49 
L 555.21 117.49 
" clip-path="url(#pfe978ec8fa)" style="fill: none; stroke: #b0b0b0; stroke-opacity: 0.25; stroke-width: 0.8; stroke-linecap: square"/>
</g>
<g id="line2d_54">
<g>
<use href="#m08813e3456" x="333.12" y="117.49" style="stroke: #000000; stroke-width: 0.8"/>
</g>
</g>
<g id="text_31">
<text style="font-size: 10px; font-family: 'Liberation Sans', sans-serif; text-anchor: end" x="326.12" y="121.29" transform="rotate(-0 326.12 121.29)" textLength="12.28" lengthAdjust="spacingAndGlyphs">80</text>
</g>
</g>
<g id="ytick_11">
<g id="line2d_55">
<path d="M 333.12 85.15 
L 555.21 85.15 
" clip-path="url(#pfe978ec8fa)" style="fill: none; stroke: #b0b0b0; stroke-opacity: 0.25; stroke-width: 0.8; stroke-linecap: square"/>
</g>
<g id="line2d_56">
<g>
<use href="#m08813e3456" x="333.12" y="85.15" style="stroke: #000000; stroke-width: 0.8"/>
</g>
</g>
<g id="text_32">
<text style="font-size: 10px; font-family: 'Liberation Sans', sans-serif; text-anchor: end" x="326.12" y="88.95" transform="rotate(-0 326.12 88.95)" textLength="18.60" lengthAdjust="spacingAndGlyphs">100</text>
</g>
</g>
<g id="ytick_12">
<g id="line2d_57">
<path d="M 333.12 52.80 
L 555.21 52.80 
" clip-path="url(#pfe978ec8fa)" style="fill: none; stroke: #b0b0b0; stroke-opacity: 0.25; stroke-width: 0.8; stroke-linecap: square"/>
</g>
<g id="line2d_58">
<g>
<use href="#m08813e3456" x="333.12" y="52.80" style="stroke: #000000; stroke-width: 0.8"/>
</g>
</g>
<g id="text_33">
<text style="font-size: 10px; font-family: 'Liberation Sans', sans-serif; text-anchor: end" x="326.12" y="56.60" transform="rotate(-0 326.12 56.60)" textLength="18.60" lengthAdjust="spacingAndGlyphs">120</text>
</g>
</g>
<g id="ytick_13">
<g id="line2d_59">
<path d="M 333.12 20.46 
L 555.21 20.46 
" clip-path="url(#pfe978ec8fa)" style="fill: none; stroke: #b0b0b0; stroke-opacity: 0.25; stroke-width: 0.8; stroke-linecap: square"/>
</g>
<g id="line2d_60">
<g>
<use href="#m08813e3456" x="333.12" y="20.46" style="stroke: #000000; stroke-width: 0.8"/>
</g>
</g>
<g id="text_34">
<text style="font-size: 10px; font-family: 'Liberation Sans', sans-serif; text-anchor: end" x="326.12" y="24.26" transform="rotate(-0 326.12 24.26)" textLength="18.60" lengthAdjust="spacingAndGlyphs">140</text>
</g>
</g>
<g id="text_35">
<g transform="translate(300.94 129.90) rotate(-90) scale(1.1 1)">
<text>
<tspan x="0.00" y="-0.40" style="font-size: 10px; font-family: 'Liberation Sans'">P</tspan>
<tspan x="5.48" y="-0.40" style="font-size: 10px; font-family: 'Liberation Sans'">e</tspan>
<tspan x="11.07" y="-0.40" style="font-size: 10px; font-family: 'Liberation Sans'">a</tspan>
<tspan x="16.64" y="-0.40" style="font-size: 10px; font-family: 'Liberation Sans'">k</tspan>
<tspan x="21.91" y="-0.40" style="font-size: 10px; font-family: 'Liberation Sans'"> </tspan>
<tspan x="24.80" y="-0.40" style="font-size: 10px; font-family: 'Liberation Sans'">C</tspan>
<tspan x="31.14" y="-0.40" style="font-size: 10px; font-family: 'Liberation Sans'">u</tspan>
<tspan x="36.90" y="-0.40" style="font-size: 10px; font-family: 'Liberation Sans'">r</tspan>
<tspan x="40.64" y="-0.40" style="font-size: 10px; font-family: 'Liberation Sans'">r</tspan>
<tspan x="44.38" y="-0.40" style="font-size: 10px; font-family: 'Liberation Sans'">e</tspan>
<tspan x="49.97" y="-0.40" style="font-size: 10px; font-family: 'Liberation Sans'">n</tspan>
<tspan x="55.73" y="-0.40" style="font-size: 10px; font-family: 'Liberation Sans'">t</tspan>
<tspan x="59.30" y="-0.40" style="font-size: 10px; font-family: 'Liberation Sans'"> </tspan>
<tspan x="62.19" y="-0.40" style="font-size: 10px; font-family: 'Liberation Sans'">(</tspan>
<tspan x="71.52" y="-0.40" style="font-size: 10px; font-family: 'Liberation Sans'">A</tspan>
<tspan x="77.74" y="-0.40" style="font-size: 10px; font-family: 'Liberation Sans'">)</tspan>
<tspan x="65.74" y="-0.40" style="font-style: italic; font-size: 10px; font-family: 'Liberation Sans'">μ</tspan>
</text>
</g>
</g>
</g>
<g id="line2d_61">
<path d="M 343.21 132.48 
L 410.87 98.03 
L 462.79 71.60 
L 506.57 49.31 
L 545.13 29.68 
" clip-path="url(#pfe978ec8fa)" style="fill: none; stroke-dasharray: 3.72,1.59; stroke-dashoffset: 0; stroke: #1f77b4; stroke-opacity: 0.8; stroke-width: 1.2"/>
</g>
<g id="patch_9">
<path d="M 333.12 166.01 
L 333.12 4.29 
" style="fill: none; stroke: #000000; stroke-width: 0.8; stroke-linejoin: miter; stroke-linecap: square"/>
</g>
<g id="patch_10">
<path d="M 555.21 166.01 
L 555.21 4.29 
" style="fill: none; stroke: #000000; stroke-width: 0.8; stroke-linejoin: miter; stroke-linecap: square"/>
</g>
<g id="patch_11">
<path d="M 333.12 166.01 
L 555.21 166.01 
" style="fill: none; stroke: #000000; stroke-width: 0.8; stroke-linejoin: miter; stroke-linecap: square"/>
</g>
<g id="patch_12">
<path d="M 333.12 4.29 
L 555.21 4.29 
" style="fill: none; stroke: #000000; stroke-width: 0.8; stroke-linejoin: miter; stroke-linecap: square"/>
</g>
<g id="PathCollection_1">
<defs>
<path id="m11e9e04bcd" d="M 0 3.16 
C 0.83 3.16 1.64 2.82 2.23 2.23 
C 2.82 1.64 3.16 0.83 3.16 0 
C 3.16 -0.83 2.82 -1.64 2.23 -2.23 
C 1.64 -2.82 0.83 -3.16 0 -3.16 
C -0.83 -3.16 -1.64 -2.82 -2.23 -2.23 
C -2.82 -1.64 -3.16 -0.83 -3.16 0 
C -3.16 0.83 -2.82 1.64 -2.23 2.23 
C -1.64 2.82 -0.83 3.16 0 3.16 
z
" style="stroke: #1f77b4; stroke-opacity: 0.9"/>
</defs>
<g clip-path="url(#pfe978ec8fa)">
<use href="#m11e9e04bcd" x="343.21" y="130.43" style="fill: #1f77b4; fill-opacity: 0.9; stroke: #1f77b4; stroke-opacity: 0.9"/>
<use href="#m11e9e04bcd" x="410.87" y="93.23" style="fill: #1f77b4; fill-opacity: 0.9; stroke: #1f77b4; stroke-opacity: 0.9"/>
<use href="#m11e9e04bcd" x="462.79" y="77.06" style="fill: #1f77b4; fill-opacity: 0.9; stroke: #1f77b4; stroke-opacity: 0.9"/>
<use href="#m11e9e04bcd" x="506.57" y="60.89" style="fill: #1f77b4; fill-opacity: 0.9; stroke: #1f77b4; stroke-opacity: 0.9"/>
<use href="#m11e9e04bcd" x="545.13" y="17.23" style="fill: #1f77b4; fill-opacity: 0.9; stroke: #1f77b4; stroke-opacity: 0.9"/>
</g>
</g>
<g id="text_36">
<g transform="translate(362.49 68.98) scale(1.1 1)">
<text>
<tspan x="0.00" y="-0.82" style="font-style: italic; font-size: 11px; font-family: 'Liberation Sans'">y</tspan>
<tspan x="40.45" y="-0.82" style="font-style: italic; font-size: 11px; font-family: 'Liberation Sans'">x</tspan>
<tspan x="7.86" y="-0.82" style="font-size: 11px; font-family: 'Liberation Sans'">=</tspan>
<tspan x="18.19" y="-0.82" style="font-size: 11px; font-family: 'Liberation Sans'">1</tspan>
<tspan x="24.55" y="-0.82" style="font-size: 11px; font-family: 'Liberation Sans'">1</tspan>
<tspan x="30.91" y="-0.82" style="font-size: 11px; font-family: 'Liberation Sans'">.</tspan>
<tspan x="34.09" y="-0.82" style="font-size: 11px; font-family: 'Liberation Sans'">5</tspan>
<tspan x="48.32" y="-0.82" style="font-size: 11px; font-family: 'Liberation Sans'">+</tspan>
<tspan x="58.65" y="-0.82" style="font-size: 11px; font-family: 'Liberation Sans'">1</tspan>
<tspan x="65.01" y="-0.82" style="font-size: 11px; font-family: 'Liberation Sans'">9</tspan>
<tspan x="71.37" y="-0.82" style="font-size: 11px; font-family: 'Liberation Sans'">.</tspan>
<tspan x="74.55" y="-0.82" style="font-size: 11px; font-family: 'Liberation Sans'">3</tspan>
</text>
</g>
</g>
<g id="text_37">
<text style="font-size: 14px; font-family: 'Liberation Sans', sans-serif; text-anchor: start" x="339.34" y="21.07" transform="rotate(-0 339.34 21.07)" textLength="9.07" lengthAdjust="spacingAndGlyphs">B</text>
</g>
</g>
<g id="axes_3">
<g id="patch_13">
<path d="M 617.54 166.01 
L 838.89 166.01 
L 838.89 4.29 
L 617.54 4.29 
z
" style="fill: #ffffff"/>
</g>
<g id="matplotlib.axis_5">
<g id="xtick_13">
<g id="line2d_62">
<path d="M 627.60 166.01 
L 627.60 4.29 
" clip-path="url(#pfc17582b46)" style="fill: none; stroke: #b0b0b0; stroke-opacity: 0.25; stroke-width: 0.8; stroke-linecap: square"/>
</g>
<g id="line2d_63">
<g>
<use href="#mfdaa00ae71" x="627.60" y="166.01" style="stroke: #000000; stroke-width: 0.8"/>
</g>
</g>
<g id="text_38">
<text style="font-size: 10px; font-family: 'Liberation Sans', sans-serif; text-anchor: middle" x="627.60" y="180.86" transform="rotate(-0 627.60 180.86)" textLength="29.96" lengthAdjust="spacingAndGlyphs">−0.50</text>
</g>
</g>
<g id="xtick_14">
<g id="line2d_64">
<path d="M 666.30 166.01 
L 666.30 4.29 
" clip-path="url(#pfc17582b46)" style="fill: none; stroke: #b0b0b0; stroke-opacity: 0.25; stroke-width: 0.8; stroke-linecap: square"/>
</g>
<g id="line2d_65">
<g>
<use href="#mfdaa00ae71" x="666.30" y="166.01" style="stroke: #000000; stroke-width: 0.8"/>
</g>
</g>
<g id="text_39">
<text style="font-size: 10px; font-family: 'Liberation Sans', sans-serif; text-anchor: middle" x="666.30" y="180.86" transform="rotate(-0 666.30 180.86)" textLength="29.78" lengthAdjust="spacingAndGlyphs">−0.25</text>
</g>
</g>
<g id="xtick_15">
<g id="line2d_66">
<path d="M 705.00 166.01 
L 705.00 4.29 
" clip-path="url(#pfc17582b46)" style="fill: none; stroke: #b0b0b0; stroke-opacity: 0.25; stroke-width: 0.8; stroke-linecap: square"/>
</g>
<g id="line2d_67">
<g>
<use href="#mfdaa00ae71" x="705.00" y="166.01" style="stroke: #000000; stroke-width: 0.8"/>
</g>
</g>
<g id="text_40">
<text style="font-size: 10px; font-family: 'Liberation Sans', sans-serif; text-anchor: middle" x="705.00" y="180.86" transform="rotate(-0 705.00 180.86)" textLength="21.81" lengthAdjust="spacingAndGlyphs">0.00</text>
</g>
</g>
<g id="xtick_16">
<g id="line2d_68">
<path d="M 743.69 166.01 
L 743.69 4.29 
" clip-path="url(#pfc17582b46)" style="fill: none; stroke: #b0b0b0; stroke-opacity: 0.25; stroke-width: 0.8; stroke-linecap: square"/>
</g>
<g id="line2d_69">
<g>
<use href="#mfdaa00ae71" x="743.69" y="166.01" style="stroke: #000000; stroke-width: 0.8"/>
</g>
</g>
<g id="text_41">
<text style="font-size: 10px; font-family: 'Liberation Sans', sans-serif; text-anchor: middle" x="743.69" y="180.86" transform="rotate(-0 743.69 180.86)" textLength="21.63" lengthAdjust="spacingAndGlyphs">0.25</text>
</g>
</g>
<g id="xtick_17">
<g id="line2d_70">
<path d="M 782.39 166.01 
L 782.39 4.29 
" clip-path="url(#pfc17582b46)" style="fill: none; stroke: #b0b0b0; stroke-opacity: 0.25; stroke-width: 0.8; stroke-linecap: square"/>
</g>
<g id="line2d_71">
<g>
<use href="#mfdaa00ae71" x="782.39" y="166.01" style="stroke: #000000; stroke-width: 0.8"/>
</g>
</g>
<g id="text_42">
<text style="font-size: 10px; font-family: 'Liberation Sans', sans-serif; text-anchor: middle" x="782.39" y="180.86" transform="rotate(-0 782.39 180.86)" textLength="21.81" lengthAdjust="spacingAndGlyphs">0.50</text>
</g>
</g>
<g id="xtick_18">
<g id="line2d_72">
<path d="M 821.09 166.01 
L 821.09 4.29 
" clip-path="url(#pfc17582b46)" style="fill: none; stroke: #b0b0b0; stroke-opacity: 0.25; stroke-width: 0.8; stroke-linecap: square"/>
</g>
<g id="line2d_73">
<g>
<use href="#mfdaa00ae71" x="821.09" y="166.01" style="stroke: #000000; stroke-width: 0.8"/>
</g>
</g>
<g id="text_43">
<text style="font-size: 10px; font-family: 'Liberation Sans', sans-serif; text-anchor: middle" x="821.09" y="180.86" transform="rotate(-0 821.09 180.86)" textLength="21.63" lengthAdjust="spacingAndGlyphs">0.75</text>
</g>
</g>
<g id="text_44">
<text style="font-size: 10px; font-family: 'Liberation Sans', sans-serif; text-anchor: middle" x="728.22" y="194.63" transform="rotate(-0 728.22 194.63)" textLength="121.56" lengthAdjust="spacingAndGlyphs">Potential (V vs. Ag/AgCl)</text>
</g>
</g>
<g id="matplotlib.axis_6">
<g id="ytick_14">
<g id="line2d_74">
<path d="M 617.54 150.92 
L 838.89 150.92 
" clip-path="url(#pfc17582b46)" style="fill: none; stroke: #b0b0b0; stroke-opacity: 0.25; stroke-width: 0.8; stroke-linecap: square"/>
</g>
<g id="line2d_75">
<g>
<use href="#m08813e3456" x="617.54" y="150.92" style="stroke: #000000; stroke-width: 0.8"/>
</g>
</g>
<g id="text_45">
<text style="font-size: 10px; font-family: 'Liberation Sans', sans-serif; text-anchor: end" x="610.54" y="154.72" transform="rotate(-0 610.54 154.72)" textLength="26.79" lengthAdjust="spacingAndGlyphs">−300</text>
</g>
</g>
<g id="ytick_15">
<g id="line2d_76">
<path d="M 617.54 129.69 
L 838.89 129.69 
" clip-path="url(#pfc17582b46)" style="fill: none; stroke: #b0b0b0; stroke-opacity: 0.25; stroke-width: 0.8; stroke-linecap: square"/>
</g>
<g id="line2d_77">
<g>
<use href="#m08813e3456" x="617.54" y="129.69" style="stroke: #000000; stroke-width: 0.8"/>
</g>
</g>
<g id="text_46">
<text style="font-size: 10px; font-family: 'Liberation Sans', sans-serif; text-anchor: end" x="610.54" y="133.49" transform="rotate(-0 610.54 133.49)" textLength="26.79" lengthAdjust="spacingAndGlyphs">−200</text>
</g>
</g>
<g id="ytick_16">
<g id="line2d_78">
<path d="M 617.54 108.46 
L 838.89 108.46 
" clip-path="url(#pfc17582b46)" style="fill: none; stroke: #b0b0b0; stroke-opacity: 0.25; stroke-width: 0.8; stroke-linecap: square"/>
</g>
<g id="line2d_79">
<g>
<use href="#m08813e3456" x="617.54" y="108.46" style="stroke: #000000; stroke-width: 0.8"/>
</g>
</g>
<g id="text_47">
<text style="font-size: 10px; font-family: 'Liberation Sans', sans-serif; text-anchor: end" x="610.54" y="112.26" transform="rotate(-0 610.54 112.26)" textLength="26.79" lengthAdjust="spacingAndGlyphs">−100</text>
</g>
</g>
<g id="ytick_17">
<g id="line2d_80">
<path d="M 617.54 87.24 
L 838.89 87.24 
" clip-path="url(#pfc17582b46)" style="fill: none; stroke: #b0b0b0; stroke-opacity: 0.25; stroke-width: 0.8; stroke-linecap: square"/>
</g>
<g id="line2d_81">
<g>
<use href="#m08813e3456" x="617.54" y="87.24" style="stroke: #000000; stroke-width: 0.8"/>
</g>
</g>
<g id="text_48">
<text style="font-size: 10px; font-family: 'Liberation Sans', sans-serif; text-anchor: end" x="610.54" y="91.04" transform="rotate(-0 610.54 91.04)" textLength="5.86" lengthAdjust="spacingAndGlyphs">0</text>
</g>
</g>
<g id="ytick_18">
<g id="line2d_82">
<path d="M 617.54 66.01 
L 838.89 66.01 
" clip-path="url(#pfc17582b46)" style="fill: none; stroke: #b0b0b0; stroke-opacity: 0.25; stroke-width: 0.8; stroke-linecap: square"/>
</g>
<g id="line2d_83">
<g>
<use href="#m08813e3456" x="617.54" y="66.01" style="stroke: #000000; stroke-width: 0.8"/>
</g>
</g>
<g id="text_49">
<text style="font-size: 10px; font-family: 'Liberation Sans', sans-serif; text-anchor: end" x="610.54" y="69.81" transform="rotate(-0 610.54 69.81)" textLength="18.60" lengthAdjust="spacingAndGlyphs">100</text>
</g>
</g>
<g id="ytick_19">
<g id="line2d_84">
<path d="M 617.54 44.79 
L 838.89 44.79 
" clip-path="url(#pfc17582b46)" style="fill: none; stroke: #b0b0b0; stroke-opacity: 0.25; stroke-width: 0.8; stroke-linecap: square"/>
</g>
<g id="line2d_85">
<g>
<use href="#m08813e3456" x="617.54" y="44.79" style="stroke: #000000; stroke-width: 0.8"/>
</g>
</g>
<g id="text_50">
<text style="font-size: 10px; font-family: 'Liberation Sans', sans-serif; text-anchor: end" x="610.54" y="48.59" transform="rotate(-0 610.54 48.59)" textLength="18.69" lengthAdjust="spacingAndGlyphs">200</text>
</g>
</g>
<g id="ytick_20">
<g id="line2d_86">
<path d="M 617.54 23.56 
L 838.89 23.56 
" clip-path="url(#pfc17582b46)" style="fill: none; stroke: #b0b0b0; stroke-opacity: 0.25; stroke-width: 0.8; stroke-linecap: square"/>
</g>
<g id="line2d_87">
<g>
<use href="#m08813e3456" x="617.54" y="23.56" style="stroke: #000000; stroke-width: 0.8"/>
</g>
</g>
<g id="text_51">
<text style="font-size: 10px; font-family: 'Liberation Sans', sans-serif; text-anchor: end" x="610.54" y="27.36" transform="rotate(-0 610.54 27.36)" textLength="18.52" lengthAdjust="spacingAndGlyphs">300</text>
</g>
</g>
<g id="text_52">
<g transform="translate(576.97 116.25) rotate(-90) scale(1.1 1)">
<text>
<tspan x="0.00" y="-0.40" style="font-size: 10px; font-family: 'Liberation Sans'">C</tspan>
<tspan x="6.34" y="-0.40" style="font-size: 10px; font-family: 'Liberation Sans'">u</tspan>
<tspan x="12.10" y="-0.40" style="font-size: 10px; font-family: 'Liberation Sans'">r</tspan>
<tspan x="15.84" y="-0.40" style="font-size: 10px; font-family: 'Liberation Sans'">r</tspan>
<tspan x="19.58" y="-0.40" style="font-size: 10px; font-family: 'Liberation Sans'">e</tspan>
<tspan x="25.17" y="-0.40" style="font-size: 10px; font-family: 'Liberation Sans'">n</tspan>
<tspan x="30.93" y="-0.40" style="font-size: 10px; font-family: 'Liberation Sans'">t</tspan>
<tspan x="34.50" y="-0.40" style="font-size: 10px; font-family: 'Liberation Sans'"> </tspan>
<tspan x="37.39" y="-0.40" style="font-size: 10px; font-family: 'Liberation Sans'">(</tspan>
<tspan x="46.72" y="-0.40" style="font-size: 10px; font-family: 'Liberation Sans'">A</tspan>
<tspan x="52.94" y="-0.40" style="font-size: 10px; font-family: 'Liberation Sans'">)</tspan>
<tspan x="40.94" y="-0.40" style="font-style: italic; font-size: 10px; font-family: 'Liberation Sans'">μ</tspan>
</text>
</g>
</g>
</g>
<g id="line2d_88">
<path d="M 627.48 60.73 
L 628.97 61.51 
L 630.50 62.11 
L 632.86 62.73 
L 635.27 63.09 
L 638.54 63.31 
L 645.98 63.67 
L 649.24 64.10 
L 653.28 64.87 
L 658.90 66.19 
L 667.70 68.31 
L 671.73 69.06 
L 675.80 69.56 
L 679.88 69.81 
L 683.98 69.82 
L 688.08 69.59 
L 692.18 69.15 
L 696.25 68.50 
L 700.29 67.65 
L 704.29 66.61 
L 709.02 65.12 
L 715.23 62.86 
L 722.25 60.33 
L 725.44 59.36 
L 727.84 58.88 
L 729.40 58.82 
L 730.91 59.05 
L 732.35 59.58 
L 733.71 60.36 
L 734.97 61.35 
L 736.12 62.51 
L 737.15 63.77 
L 738.51 65.85 
L 740.09 68.84 
L 743.86 76.51 
L 745.20 78.61 
L 746.70 80.53 
L 748.39 82.23 
L 749.63 83.21 
L 750.98 84.05 
L 753.16 85.08 
L 755.51 85.85 
L 757.98 86.42 
L 761.36 86.94 
L 765.58 87.36 
L 770.57 87.62 
L 777.11 87.72 
L 794.10 87.76 
L 799.00 88.04 
L 803.12 88.47 
L 807.30 89.13 
L 810.64 89.84 
L 813.92 90.76 
L 817.06 91.92 
L 819.29 92.96 
L 821.38 94.16 
L 823.31 95.53 
L 825.05 97.09 
L 826.57 98.85 
L 827.44 100.14 
L 828.20 101.53 
L 828.83 103.02 
L 829.33 104.61 
L 829.68 106.31 
L 829.89 108.13 
L 829.93 109.08 
L 826.65 109.45 
L 822.55 109.66 
L 818.45 109.64 
L 812.71 109.36 
L 798.76 108.52 
L 792.19 108.44 
L 776.57 108.56 
L 772.48 108.80 
L 769.22 109.25 
L 766.79 109.79 
L 764.37 110.55 
L 761.96 111.56 
L 758.79 113.23 
L 754.93 115.26 
L 752.68 116.13 
L 751.23 116.47 
L 749.81 116.54 
L 748.43 116.31 
L 747.09 115.76 
L 745.80 114.95 
L 744.55 113.92 
L 742.78 112.09 
L 740.62 109.37 
L 738.17 105.86 
L 732.55 97.54 
L 730.46 94.98 
L 728.74 93.21 
L 726.89 91.64 
L 724.88 90.34 
L 723.46 89.64 
L 721.20 88.87 
L 718.81 88.35 
L 716.34 88.05 
L 712.96 87.87 
L 686.60 87.42 
L 669.97 87.60 
L 665.00 87.34 
L 660.91 86.90 
L 657.68 86.35 
L 654.49 85.61 
L 651.36 84.64 
L 648.30 83.44 
L 645.35 82.01 
L 642.52 80.36 
L 639.84 78.48 
L 637.35 76.39 
L 635.61 74.68 
L 634.00 72.86 
L 632.53 70.91 
L 631.21 68.86 
L 630.05 66.68 
L 629.06 64.40 
L 628.25 62.01 
L 627.64 59.50 
L 627.48 58.64 
L 627.48 58.64 
" clip-path="url(#pfc17582b46)" style="fill: none; stroke: #1f77b4; stroke-width: 1.5; stroke-linecap: square"/>
</g>
<g id="line2d_89">
<path d="M 627.48 48.95 
L 633.85 50.55 
L 644.15 53.42 
L 655.25 56.47 
L 661.64 58.01 
L 667.27 59.15 
L 672.15 59.92 
L 677.07 60.47 
L 682.00 60.80 
L 686.91 60.90 
L 690.98 60.78 
L 694.21 60.51 
L 697.43 60.01 
L 700.63 59.25 
L 703.02 58.48 
L 705.41 57.51 
L 707.79 56.32 
L 710.16 54.92 
L 714.08 52.29 
L 718.67 49.21 
L 720.91 47.92 
L 723.10 46.92 
L 724.52 46.47 
L 725.92 46.21 
L 727.28 46.18 
L 728.61 46.41 
L 729.91 46.91 
L 731.15 47.65 
L 732.34 48.59 
L 734.00 50.28 
L 735.48 52.20 
L 736.81 54.30 
L 738.39 57.31 
L 740.18 61.29 
L 743.67 69.28 
L 745.24 72.25 
L 746.54 74.30 
L 748.00 76.17 
L 749.64 77.81 
L 751.46 79.22 
L 753.44 80.43 
L 755.56 81.45 
L 757.80 82.30 
L 760.95 83.21 
L 764.23 83.90 
L 768.45 84.54 
L 774.42 85.16 
L 791.06 86.74 
L 795.87 87.51 
L 799.80 88.37 
L 802.87 89.25 
L 805.90 90.31 
L 808.86 91.59 
L 811.76 93.12 
L 814.57 94.89 
L 817.25 96.91 
L 819.15 98.58 
L 820.92 100.37 
L 822.56 102.27 
L 824.03 104.28 
L 825.33 106.40 
L 826.42 108.62 
L 827.29 110.93 
L 827.92 113.32 
L 828.49 116.60 
L 829.35 122.32 
L 829.93 124.66 
L 822.57 124.00 
L 811.15 122.70 
L 798.91 121.36 
L 791.55 120.78 
L 785.80 120.54 
L 780.04 120.52 
L 775.10 120.73 
L 771.83 121.08 
L 769.39 121.52 
L 766.99 122.16 
L 764.64 123.05 
L 762.33 124.23 
L 760.07 125.67 
L 755.72 128.54 
L 754.32 129.26 
L 752.93 129.75 
L 751.57 129.95 
L 750.23 129.81 
L 748.91 129.31 
L 747.63 128.53 
L 746.39 127.50 
L 744.64 125.65 
L 743.03 123.60 
L 741.15 120.75 
L 739.48 117.82 
L 737.22 113.35 
L 733.87 106.60 
L 732.20 103.65 
L 730.33 100.85 
L 728.77 98.92 
L 727.07 97.21 
L 725.19 95.75 
L 723.84 94.96 
L 722.41 94.30 
L 720.14 93.57 
L 717.73 93.08 
L 715.24 92.79 
L 711.83 92.61 
L 703.34 92.53 
L 688.65 92.30 
L 680.47 92.00 
L 674.73 91.60 
L 669.82 91.07 
L 664.95 90.32 
L 660.91 89.50 
L 656.93 88.48 
L 652.99 87.22 
L 649.89 86.02 
L 646.90 84.62 
L 644.75 83.41 
L 642.72 82.05 
L 640.83 80.53 
L 639.08 78.83 
L 636.93 76.37 
L 634.41 73.10 
L 632.57 70.34 
L 630.93 67.47 
L 629.87 65.24 
L 628.98 62.95 
L 628.27 60.59 
L 627.76 58.18 
L 627.48 55.70 
L 627.48 55.70 
" clip-path="url(#pfc17582b46)" style="fill: none; stroke: #ff7f0e; stroke-width: 1.5; stroke-linecap: square"/>
</g>
<g id="line2d_90">
<path d="M 627.48 38.52 
L 631.53 39.45 
L 636.29 40.81 
L 641.74 42.64 
L 649.42 45.50 
L 657.85 48.60 
L 663.28 50.36 
L 667.23 51.44 
L 671.25 52.31 
L 675.35 52.95 
L 679.50 53.33 
L 682.85 53.43 
L 686.20 53.35 
L 689.53 53.07 
L 692.83 52.59 
L 696.08 51.89 
L 699.26 50.98 
L 702.36 49.83 
L 705.37 48.45 
L 708.25 46.82 
L 711.03 44.96 
L 718.52 39.72 
L 720.64 38.52 
L 722.86 37.52 
L 725.18 36.78 
L 726.76 36.51 
L 728.33 36.51 
L 729.84 36.85 
L 731.27 37.54 
L 732.62 38.52 
L 733.87 39.72 
L 735.57 41.78 
L 737.02 43.95 
L 738.26 46.15 
L 739.65 49.12 
L 741.14 52.87 
L 743.79 59.76 
L 745.53 63.59 
L 747.10 66.56 
L 748.87 69.39 
L 750.32 71.39 
L 751.89 73.25 
L 753.60 74.95 
L 755.44 76.46 
L 757.42 77.77 
L 759.56 78.83 
L 761.83 79.67 
L 764.22 80.31 
L 767.54 80.94 
L 771.79 81.47 
L 781.83 82.59 
L 787.46 83.48 
L 793.04 84.61 
L 797.85 85.80 
L 801.81 87.01 
L 804.91 88.17 
L 807.89 89.52 
L 810.72 91.10 
L 812.72 92.46 
L 814.59 93.98 
L 816.33 95.66 
L 817.93 97.51 
L 819.39 99.50 
L 821.15 102.35 
L 822.70 105.38 
L 824.06 108.55 
L 825.25 111.83 
L 826.50 116.02 
L 827.54 120.21 
L 828.54 125.16 
L 829.54 131.38 
L 829.93 134.23 
L 825.00 134.02 
L 820.09 133.59 
L 813.55 132.78 
L 793.11 130.03 
L 788.17 129.67 
L 784.05 129.56 
L 780.76 129.70 
L 778.31 130.00 
L 775.87 130.51 
L 773.47 131.27 
L 771.10 132.31 
L 768.77 133.59 
L 764.96 135.98 
L 761.25 138.29 
L 759.06 139.43 
L 756.90 140.27 
L 755.48 140.61 
L 754.07 140.74 
L 752.67 140.63 
L 751.29 140.26 
L 749.92 139.66 
L 748.59 138.85 
L 747.30 137.88 
L 745.46 136.17 
L 743.76 134.24 
L 742.22 132.21 
L 740.42 129.37 
L 738.84 126.41 
L 737.10 122.58 
L 734.90 117.03 
L 732.00 109.76 
L 730.51 106.67 
L 729.26 104.51 
L 727.87 102.55 
L 726.29 100.84 
L 725.13 99.86 
L 723.86 99.03 
L 722.50 98.35 
L 721.04 97.81 
L 718.71 97.24 
L 716.25 96.88 
L 712.83 96.67 
L 707.63 96.64 
L 695.12 96.60 
L 688.59 96.38 
L 682.85 95.98 
L 677.93 95.44 
L 673.05 94.67 
L 669.02 93.83 
L 665.06 92.78 
L 661.17 91.50 
L 658.12 90.29 
L 655.14 88.91 
L 652.23 87.35 
L 649.40 85.60 
L 646.68 83.67 
L 644.07 81.58 
L 641.60 79.33 
L 639.27 76.93 
L 637.10 74.39 
L 635.11 71.73 
L 633.32 68.95 
L 631.73 66.06 
L 630.37 63.07 
L 629.24 59.99 
L 628.37 56.83 
L 627.77 53.60 
L 627.50 51.14 
L 627.48 46.97 
L 627.48 46.13 
L 627.48 46.13 
" clip-path="url(#pfc17582b46)" style="fill: none; stroke: #2ca02c; stroke-width: 1.5; stroke-linecap: square"/>
</g>
<g id="line2d_91">
<path d="M 627.48 29.93 
L 633.62 32.16 
L 645.13 36.63 
L 653.62 39.82 
L 659.87 41.91 
L 664.60 43.28 
L 669.37 44.42 
L 673.39 45.17 
L 677.45 45.70 
L 681.52 45.99 
L 684.78 46.01 
L 688.03 45.83 
L 691.26 45.44 
L 694.47 44.81 
L 697.65 43.92 
L 700.78 42.77 
L 703.86 41.32 
L 706.13 40.04 
L 708.36 38.58 
L 712.00 35.84 
L 715.57 33.17 
L 717.69 31.80 
L 719.81 30.75 
L 721.22 30.28 
L 722.63 30.04 
L 724.05 30.04 
L 725.44 30.31 
L 726.76 30.83 
L 727.98 31.60 
L 729.09 32.60 
L 730.10 33.79 
L 731.47 35.87 
L 733.14 38.98 
L 735.99 44.53 
L 738.19 48.12 
L 742.48 54.92 
L 743.97 57.79 
L 748.23 66.71 
L 749.53 68.81 
L 751.02 70.77 
L 752.71 72.57 
L 754.59 74.18 
L 756.63 75.57 
L 758.79 76.72 
L 761.07 77.62 
L 763.43 78.31 
L 766.68 78.95 
L 770.83 79.49 
L 779.07 80.47 
L 783.84 81.34 
L 788.55 82.44 
L 793.26 83.79 
L 798.01 85.37 
L 801.92 86.91 
L 804.98 88.31 
L 807.92 89.87 
L 810.72 91.62 
L 813.33 93.57 
L 815.15 95.17 
L 816.82 96.91 
L 818.34 98.78 
L 819.72 100.77 
L 821.35 103.60 
L 822.75 106.59 
L 823.96 109.72 
L 824.99 112.96 
L 826.06 117.12 
L 827.09 122.19 
L 828.03 128.08 
L 829.93 142.08 
L 819.39 140.49 
L 803.93 138.16 
L 796.57 137.28 
L 789.99 136.74 
L 785.02 136.52 
L 781.72 136.56 
L 779.26 136.76 
L 776.82 137.14 
L 774.42 137.76 
L 772.07 138.65 
L 769.76 139.82 
L 766.75 141.63 
L 761.62 144.79 
L 759.46 145.84 
L 758.02 146.36 
L 756.59 146.70 
L 755.15 146.82 
L 753.72 146.69 
L 752.29 146.33 
L 750.87 145.75 
L 749.48 144.99 
L 747.45 143.55 
L 745.53 141.84 
L 743.75 139.95 
L 742.14 137.96 
L 740.24 135.19 
L 738.59 132.30 
L 737.15 129.30 
L 735.87 126.18 
L 734.45 122.12 
L 732.37 115.32 
L 730.99 111.11 
L 729.70 107.96 
L 728.58 105.80 
L 727.28 103.88 
L 726.30 102.75 
L 725.21 101.76 
L 724.01 100.94 
L 722.69 100.27 
L 721.26 99.76 
L 718.95 99.23 
L 716.48 98.94 
L 713.04 98.80 
L 695.32 98.63 
L 688.84 98.16 
L 683.13 97.53 
L 678.23 96.77 
L 673.36 95.80 
L 669.34 94.79 
L 665.39 93.58 
L 661.53 92.16 
L 657.77 90.51 
L 654.85 89.01 
L 652.02 87.33 
L 649.29 85.49 
L 646.67 83.48 
L 644.17 81.32 
L 641.80 79.02 
L 639.57 76.58 
L 637.50 74.01 
L 635.59 71.32 
L 633.86 68.52 
L 632.30 65.62 
L 630.95 62.62 
L 629.79 59.54 
L 628.86 56.39 
L 628.15 53.17 
L 627.67 49.89 
L 627.48 47.39 
L 627.48 43.18 
L 627.48 43.18 
" clip-path="url(#pfc17582b46)" style="fill: none; stroke: #d62728; stroke-width: 1.5; stroke-linecap: square"/>
</g>
<g id="line2d_92">
<path d="M 627.48 23.55 
L 631.46 24.51 
L 635.38 25.70 
L 640.04 27.36 
L 646.20 29.80 
L 656.96 34.11 
L 661.63 35.73 
L 665.56 36.88 
L 669.54 37.79 
L 672.77 38.30 
L 676.05 38.62 
L 680.17 38.76 
L 684.31 38.65 
L 688.43 38.33 
L 692.50 37.81 
L 696.52 37.07 
L 699.67 36.25 
L 702.77 35.16 
L 705.05 34.16 
L 707.30 32.96 
L 709.51 31.56 
L 716.76 26.68 
L 718.96 25.64 
L 720.46 25.17 
L 721.98 24.92 
L 723.52 24.92 
L 725.03 25.17 
L 726.46 25.67 
L 727.75 26.42 
L 728.86 27.39 
L 729.81 28.57 
L 730.64 29.91 
L 731.71 32.17 
L 732.94 35.47 
L 734.48 39.67 
L 735.57 42.03 
L 736.85 44.20 
L 739.19 47.54 
L 740.99 50.20 
L 742.18 52.31 
L 743.54 55.27 
L 747.77 65.19 
L 749.02 67.34 
L 750.45 69.37 
L 752.07 71.23 
L 753.86 72.89 
L 755.84 74.29 
L 757.97 75.43 
L 760.23 76.37 
L 763.37 77.43 
L 770.52 79.76 
L 774.36 81.30 
L 778.08 83.06 
L 781.66 85.03 
L 784.41 86.79 
L 787.05 88.70 
L 789.58 90.77 
L 791.99 92.99 
L 794.28 95.36 
L 796.95 98.50 
L 799.43 101.81 
L 801.70 105.29 
L 803.75 108.89 
L 805.59 112.61 
L 807.20 116.41 
L 808.58 120.27 
L 809.76 124.19 
L 810.74 128.16 
L 811.70 132.98 
L 812.45 137.84 
L 813.10 143.56 
L 813.61 150.13 
L 813.98 157.54 
L 810.71 157.30 
L 807.46 156.85 
L 803.41 156.08 
L 796.96 154.59 
L 790.50 153.14 
L 786.44 152.42 
L 783.17 152.04 
L 779.88 151.87 
L 777.41 151.93 
L 774.94 152.19 
L 772.50 152.66 
L 770.09 153.39 
L 767.72 154.41 
L 764.64 156.09 
L 761.67 157.73 
L 759.50 158.62 
L 758.09 158.95 
L 756.70 159.00 
L 755.34 158.72 
L 754.01 158.15 
L 752.72 157.32 
L 751.47 156.28 
L 749.69 154.43 
L 748.03 152.34 
L 746.04 149.45 
L 744.30 146.54 
L 742.77 143.61 
L 741.10 139.88 
L 739.62 136.04 
L 738.01 131.24 
L 733.88 118.46 
L 732.53 115.22 
L 731.39 112.95 
L 730.11 110.85 
L 728.69 108.98 
L 727.09 107.35 
L 725.92 106.43 
L 724.66 105.65 
L 723.30 105.02 
L 721.85 104.53 
L 719.54 104.03 
L 717.09 103.74 
L 713.68 103.59 
L 703.40 103.34 
L 698.48 102.90 
L 692.83 102.14 
L 686.41 101.02 
L 680.77 99.82 
L 675.97 98.61 
L 671.23 97.18 
L 667.34 95.81 
L 663.52 94.26 
L 659.81 92.51 
L 656.20 90.55 
L 652.72 88.35 
L 650.04 86.42 
L 647.47 84.35 
L 645.00 82.14 
L 642.66 79.79 
L 640.45 77.32 
L 638.38 74.74 
L 636.46 72.04 
L 634.70 69.25 
L 633.11 66.36 
L 631.69 63.39 
L 630.47 60.33 
L 629.44 57.21 
L 628.62 54.03 
L 628.01 50.79 
L 627.63 47.50 
L 627.48 44.17 
L 627.48 44.17 
" clip-path="url(#pfc17582b46)" style="fill: none; stroke: #9467bd; stroke-width: 1.5; stroke-linecap: square"/>
</g>
<g id="patch_14">
<path d="M 617.54 166.01 
L 617.54 4.29 
" style="fill: none; stroke: #000000; stroke-width: 0.8; stroke-linejoin: miter; stroke-linecap: square"/>
</g>
<g id="patch_15">
<path d="M 838.89 166.01 
L 838.89 4.29 
" style="fill: none; stroke: #000000; stroke-width: 0.8; stroke-linejoin: miter; stroke-linecap: square"/>
</g>
<g id="patch_16">
<path d="M 617.54 166.01 
L 838.89 166.01 
" style="fill: none; stroke: #000000; stroke-width: 0.8; stroke-linejoin: miter; stroke-linecap: square"/>
</g>
<g id="patch_17">
<path d="M 617.54 4.29 
L 838.89 4.29 
" style="fill: none; stroke: #000000; stroke-width: 0.8; stroke-linejoin: miter; stroke-linecap: square"/>
</g>
<g id="text_53">
<text style="font-size: 14px; font-family: 'Liberation Sans', sans-serif; text-anchor: start" x="623.74" y="21.07" transform="rotate(-0 623.74 21.07)" textLength="9.39" lengthAdjust="spacingAndGlyphs">C</text>
</g>
<g id="legend_2">
<g id="patch_18">
<path d="M 769.75 69.40 
L 833.29 69.40 
Q 834.89 69.40 834.89 67.80 
L 834.89 9.89 
Q 834.89 8.29 833.29 8.29 
L 769.75 8.29 
Q 768.15 8.29 768.15 9.89 
L 768.15 67.80 
Q 768.15 69.40 769.75 69.40 
z
" style="fill: #ffffff; opacity: 0.8; stroke: #cccccc; stroke-linejoin: miter"/>
</g>
<g id="line2d_93">
<path d="M 771.35 14.77 
L 779.35 14.77 
L 787.35 14.77 
" style="fill: none; stroke: #1f77b4; stroke-width: 1.5; stroke-linecap: square"/>
</g>
<g id="text_54">
<text style="font-size: 8px; font-family: 'Liberation Sans', sans-serif; text-anchor: start" x="793.75" y="17.57" transform="rotate(-0 793.75 17.57)" textLength="32.63" lengthAdjust="spacingAndGlyphs">20 mV/s</text>
</g>
<g id="line2d_94">
<path d="M 771.35 26.51 
L 779.35 26.51 
L 787.35 26.51 
" style="fill: none; stroke: #ff7f0e; stroke-width: 1.5; stroke-linecap: square"/>
</g>
<g id="text_55">
<text style="font-size: 8px; font-family: 'Liberation Sans', sans-serif; text-anchor: start" x="793.75" y="29.31" transform="rotate(-0 793.75 29.31)" textLength="32.58" lengthAdjust="spacingAndGlyphs">40 mV/s</text>
</g>
<g id="line2d_95">
<path d="M 771.35 38.25 
L 779.35 38.25 
L 787.35 38.25 
" style="fill: none; stroke: #2ca02c; stroke-width: 1.5; stroke-linecap: square"/>
</g>
<g id="text_56">
<text style="font-size: 8px; font-family: 'Liberation Sans', sans-serif; text-anchor: start" x="793.75" y="41.05" transform="rotate(-0 793.75 41.05)" textLength="32.67" lengthAdjust="spacingAndGlyphs">60 mV/s</text>
</g>
<g id="line2d_96">
<path d="M 771.35 50.00 
L 779.35 50.00 
L 787.35 50.00 
" style="fill: none; stroke: #d62728; stroke-width: 1.5; stroke-linecap: square"/>
</g>
<g id="text_57">
<text style="font-size: 8px; font-family: 'Liberation Sans', sans-serif; text-anchor: start" x="793.75" y="52.80" transform="rotate(-0 793.75 52.80)" textLength="32.61" lengthAdjust="spacingAndGlyphs">80 mV/s</text>
</g>
<g id="line2d_97">
<path d="M 771.35 61.74 
L 779.35 61.74 
L 787.35 61.74 
" style="fill: none; stroke: #9467bd; stroke-width: 1.5; stroke-linecap: square"/>
</g>
<g id="text_58">
<text style="font-size: 8px; font-family: 'Liberation Sans', sans-serif; text-anchor: start" x="793.75" y="64.54" transform="rotate(-0 793.75 64.54)" textLength="37.67" lengthAdjust="spacingAndGlyphs">100 mV/s</text>
</g>
</g>
</g>
<g id="axes_4">
<g id="patch_19">
<path d="M 49.44 378.28 
L 270.92 378.28 
L 270.92 216.68 
L 49.44 216.68 
z
" style="fill: #ffffff"/>
</g>
<g id="matplotlib.axis_7">
<g id="xtick_19">
<g id="line2d_98">
<path d="M 78.73 378.28 
L 78.73 216.68 
" clip-path="url(#paf037e5219)" style="fill: none; stroke: #b0b0b0; stroke-opacity: 0.25; stroke-width: 0.8; stroke-linecap: square"/>
</g>
<g id="line2d_99">
<g>
<use href="#mfdaa00ae71" x="78.73" y="378.28" style="stroke: #000000; stroke-width: 0.8"/>
</g>
</g>
<g id="text_59">
<text style="font-size: 10px; font-family: 'Liberation Sans', sans-serif; text-anchor: middle" x="78.73" y="393.13" transform="rotate(-0 78.73 393.13)" textLength="5.53" lengthAdjust="spacingAndGlyphs">5</text>
</g>
</g>
<g id="xtick_20">
<g id="line2d_100">
<path d="M 115.16 378.28 
L 115.16 216.68 
" clip-path="url(#paf037e5219)" style="fill: none; stroke: #b0b0b0; stroke-opacity: 0.25; stroke-width: 0.8; stroke-linecap: square"/>
</g>
<g id="line2d_101">
<g>
<use href="#mfdaa00ae71" x="115.16" y="378.28" style="stroke: #000000; stroke-width: 0.8"/>
</g>
</g>
<g id="text_60">
<text style="font-size: 10px; font-family: 'Liberation Sans', sans-serif; text-anchor: middle" x="115.16" y="393.13" transform="rotate(-0 115.16 393.13)" textLength="6.06" lengthAdjust="spacingAndGlyphs">6</text>
</g>
</g>
<g id="xtick_21">
<g id="line2d_102">
<path d="M 151.58 378.28 
L 151.58 216.68 
" clip-path="url(#paf037e5219)" style="fill: none; stroke: #b0b0b0; stroke-opacity: 0.25; stroke-width: 0.8; stroke-linecap: square"/>
</g>
<g id="line2d_103">
<g>
<use href="#mfdaa00ae71" x="151.58" y="378.28" style="stroke: #000000; stroke-width: 0.8"/>
</g>
</g>
<g id="text_61">
<text style="font-size: 10px; font-family: 'Liberation Sans', sans-serif; text-anchor: middle" x="151.58" y="393.13" transform="rotate(-0 151.58 393.13)" textLength="5.73" lengthAdjust="spacingAndGlyphs">7</text>
</g>
</g>
<g id="xtick_22">
<g id="line2d_104">
<path d="M 188.01 378.28 
L 188.01 216.68 
" clip-path="url(#paf037e5219)" style="fill: none; stroke: #b0b0b0; stroke-opacity: 0.25; stroke-width: 0.8; stroke-linecap: square"/>
</g>
<g id="line2d_105">
<g>
<use href="#mfdaa00ae71" x="188.01" y="378.28" style="stroke: #000000; stroke-width: 0.8"/>
</g>
</g>
<g id="text_62">
<text style="font-size: 10px; font-family: 'Liberation Sans', sans-serif; text-anchor: middle" x="188.01" y="393.13" transform="rotate(-0 188.01 393.13)" textLength="5.91" lengthAdjust="spacingAndGlyphs">8</text>
</g>
</g>
<g id="xtick_23">
<g id="line2d_106">
<path d="M 224.44 378.28 
L 224.44 216.68 
" clip-path="url(#paf037e5219)" style="fill: none; stroke: #b0b0b0; stroke-opacity: 0.25; stroke-width: 0.8; stroke-linecap: square"/>
</g>
<g id="line2d_107">
<g>
<use href="#mfdaa00ae71" x="224.44" y="378.28" style="stroke: #000000; stroke-width: 0.8"/>
</g>
</g>
<g id="text_63">
<text style="font-size: 10px; font-family: 'Liberation Sans', sans-serif; text-anchor: middle" x="224.44" y="393.13" transform="rotate(-0 224.44 393.13)" textLength="6.05" lengthAdjust="spacingAndGlyphs">9</text>
</g>
</g>
<g id="xtick_24">
<g id="line2d_108">
<path d="M 260.86 378.28 
L 260.86 216.68 
" clip-path="url(#paf037e5219)" style="fill: none; stroke: #b0b0b0; stroke-opacity: 0.25; stroke-width: 0.8; stroke-linecap: square"/>
</g>
<g id="line2d_109">
<g>
<use href="#mfdaa00ae71" x="260.86" y="378.28" style="stroke: #000000; stroke-width: 0.8"/>
</g>
</g>
<g id="text_64">
<text style="font-size: 10px; font-family: 'Liberation Sans', sans-serif; text-anchor: middle" x="260.86" y="393.13" transform="rotate(-0 260.86 393.13)" textLength="12.22" lengthAdjust="spacingAndGlyphs">10</text>
</g>
</g>
<g id="text_65">
<g transform="translate(107.18 409.43) scale(1.1 1)">
<text>
<tspan x="0.00" y="-0.97" style="font-size: 10px; font-family: 'Liberation Sans'">(</tspan>
<tspan x="3.54" y="-0.97" style="font-size: 10px; font-family: 'Liberation Sans'">S</tspan>
<tspan x="9.31" y="-0.97" style="font-size: 10px; font-family: 'Liberation Sans'">c</tspan>
<tspan x="14.31" y="-0.97" style="font-size: 10px; font-family: 'Liberation Sans'">a</tspan>
<tspan x="19.88" y="-0.97" style="font-size: 10px; font-family: 'Liberation Sans'">n</tspan>
<tspan x="25.64" y="-0.97" style="font-size: 10px; font-family: 'Liberation Sans'"> </tspan>
<tspan x="28.53" y="-0.97" style="font-size: 10px; font-family: 'Liberation Sans'">R</tspan>
<tspan x="34.85" y="-0.97" style="font-size: 10px; font-family: 'Liberation Sans'">a</tspan>
<tspan x="40.42" y="-0.97" style="font-size: 10px; font-family: 'Liberation Sans'">t</tspan>
<tspan x="43.98" y="-0.97" style="font-size: 10px; font-family: 'Liberation Sans'">e</tspan>
<tspan x="49.58" y="-0.97" style="font-size: 10px; font-family: 'Liberation Sans'"> </tspan>
<tspan x="52.47" y="-0.97" style="font-size: 10px; font-family: 'Liberation Sans'">(</tspan>
<tspan x="56.01" y="-0.97" style="font-size: 10px; font-family: 'Liberation Sans'">m</tspan>
<tspan x="64.87" y="-0.97" style="font-size: 10px; font-family: 'Liberation Sans'">V</tspan>
<tspan x="71.09" y="-0.97" style="font-size: 10px; font-family: 'Liberation Sans'">/</tspan>
<tspan x="74.15" y="-0.97" style="font-size: 10px; font-family: 'Liberation Sans'">s</tspan>
<tspan x="78.89" y="-0.97" style="font-size: 10px; font-family: 'Liberation Sans'">)</tspan>
<tspan x="82.43" y="-0.97" style="font-size: 10px; font-family: 'Liberation Sans'">)</tspan>
<tspan x="86.07" y="-4.80" style="font-size: 7px; font-family: 'Liberation Sans'">1</tspan>
<tspan x="90.12" y="-4.80" style="font-size: 7px; font-family: 'Liberation Sans'">/</tspan>
<tspan x="92.02" y="-4.80" style="font-size: 7px; font-family: 'Liberation Sans'">2</tspan>
</text>
</g>
</g>
</g>
<g id="matplotlib.axis_8">
<g id="ytick_21">
<g id="line2d_110">
<path d="M 49.44 370.32 
L 270.92 370.32 
" clip-path="url(#paf037e5219)" style="fill: none; stroke: #b0b0b0; stroke-opacity: 0.25; stroke-width: 0.8; stroke-linecap: square"/>
</g>
<g id="line2d_111">
<g>
<use href="#m08813e3456" x="49.44" y="370.32" style="stroke: #000000; stroke-width: 0.8"/>
</g>
</g>
<g id="text_66">
<text style="font-size: 10px; font-family: 'Liberation Sans', sans-serif; text-anchor: end" x="42.44" y="374.11" transform="rotate(-0 42.44 374.11)" textLength="18.60" lengthAdjust="spacingAndGlyphs">100</text>
</g>
</g>
<g id="ytick_22">
<g id="line2d_112">
<path d="M 49.44 347.70 
L 270.92 347.70 
" clip-path="url(#paf037e5219)" style="fill: none; stroke: #b0b0b0; stroke-opacity: 0.25; stroke-width: 0.8; stroke-linecap: square"/>
</g>
<g id="line2d_113">
<g>
<use href="#m08813e3456" x="49.44" y="347.70" style="stroke: #000000; stroke-width: 0.8"/>
</g>
</g>
<g id="text_67">
<text style="font-size: 10px; font-family: 'Liberation Sans', sans-serif; text-anchor: end" x="42.44" y="351.50" transform="rotate(-0 42.44 351.50)" textLength="18.41" lengthAdjust="spacingAndGlyphs">125</text>
</g>
</g>
<g id="ytick_23">
<g id="line2d_114">
<path d="M 49.44 325.08 
L 270.92 325.08 
" clip-path="url(#paf037e5219)" style="fill: none; stroke: #b0b0b0; stroke-opacity: 0.25; stroke-width: 0.8; stroke-linecap: square"/>
</g>
<g id="line2d_115">
<g>
<use href="#m08813e3456" x="49.44" y="325.08" style="stroke: #000000; stroke-width: 0.8"/>
</g>
</g>
<g id="text_68">
<text style="font-size: 10px; font-family: 'Liberation Sans', sans-serif; text-anchor: end" x="42.44" y="328.88" transform="rotate(-0 42.44 328.88)" textLength="18.60" lengthAdjust="spacingAndGlyphs">150</text>
</g>
</g>
<g id="ytick_24">
<g id="line2d_116">
<path d="M 49.44 302.46 
L 270.92 302.46 
" clip-path="url(#paf037e5219)" style="fill: none; stroke: #b0b0b0; stroke-opacity: 0.25; stroke-width: 0.8; stroke-linecap: square"/>
</g>
<g id="line2d_117">
<g>
<use href="#m08813e3456" x="49.44" y="302.46" style="stroke: #000000; stroke-width: 0.8"/>
</g>
</g>
<g id="text_69">
<text style="font-size: 10px; font-family: 'Liberation Sans', sans-serif; text-anchor: end" x="42.44" y="306.26" transform="rotate(-0 42.44 306.26)" textLength="18.41" lengthAdjust="spacingAndGlyphs">175</text>
</g>
</g>
<g id="ytick_25">
<g id="line2d_118">
<path d="M 49.44 279.84 
L 270.92 279.84 
" clip-path="url(#paf037e5219)" style="fill: none; stroke: #b0b0b0; stroke-opacity: 0.25; stroke-width: 0.8; stroke-linecap: square"/>
</g>
<g id="line2d_119">
<g>
<use href="#m08813e3456" x="49.44" y="279.84" style="stroke: #000000; stroke-width: 0.8"/>
</g>
</g>
<g id="text_70">
<text style="font-size: 10px; font-family: 'Liberation Sans', sans-serif; text-anchor: end" x="42.44" y="283.64" transform="rotate(-0 42.44 283.64)" textLength="18.69" lengthAdjust="spacingAndGlyphs">200</text>
</g>
</g>
<g id="ytick_26">
<g id="line2d_120">
<path d="M 49.44 257.22 
L 270.92 257.22 
" clip-path="url(#paf037e5219)" style="fill: none; stroke: #b0b0b0; stroke-opacity: 0.25; stroke-width: 0.8; stroke-linecap: square"/>
</g>
<g id="line2d_121">
<g>
<use href="#m08813e3456" x="49.44" y="257.22" style="stroke: #000000; stroke-width: 0.8"/>
</g>
</g>
<g id="text_71">
<text style="font-size: 10px; font-family: 'Liberation Sans', sans-serif; text-anchor: end" x="42.44" y="261.02" transform="rotate(-0 42.44 261.02)" textLength="18.50" lengthAdjust="spacingAndGlyphs">225</text>
</g>
</g>
<g id="ytick_27">
<g id="line2d_122">
<path d="M 49.44 234.60 
L 270.92 234.60 
" clip-path="url(#paf037e5219)" style="fill: none; stroke: #b0b0b0; stroke-opacity: 0.25; stroke-width: 0.8; stroke-linecap: square"/>
</g>
<g id="line2d_123">
<g>
<use href="#m08813e3456" x="49.44" y="234.60" style="stroke: #000000; stroke-width: 0.8"/>
</g>
</g>
<g id="text_72">
<text style="font-size: 10px; font-family: 'Liberation Sans', sans-serif; text-anchor: end" x="42.44" y="238.40" transform="rotate(-0 42.44 238.40)" textLength="18.69" lengthAdjust="spacingAndGlyphs">250</text>
</g>
</g>
<g id="text_73">
<g transform="translate(17.26 342.23) rotate(-90) scale(1.1 1)">
<text>
<tspan x="0.00" y="-0.40" style="font-size: 10px; font-family: 'Liberation Sans'">P</tspan>
<tspan x="5.48" y="-0.40" style="font-size: 10px; font-family: 'Liberation Sans'">e</tspan>
<tspan x="11.07" y="-0.40" style="font-size: 10px; font-family: 'Liberation Sans'">a</tspan>
<tspan x="16.64" y="-0.40" style="font-size: 10px; font-family: 'Liberation Sans'">k</tspan>
<tspan x="21.91" y="-0.40" style="font-size: 10px; font-family: 'Liberation Sans'"> </tspan>
<tspan x="24.80" y="-0.40" style="font-size: 10px; font-family: 'Liberation Sans'">C</tspan>
<tspan x="31.14" y="-0.40" style="font-size: 10px; font-family: 'Liberation Sans'">u</tspan>
<tspan x="36.90" y="-0.40" style="font-size: 10px; font-family: 'Liberation Sans'">r</tspan>
<tspan x="40.64" y="-0.40" style="font-size: 10px; font-family: 'Liberation Sans'">r</tspan>
<tspan x="44.38" y="-0.40" style="font-size: 10px; font-family: 'Liberation Sans'">e</tspan>
<tspan x="49.97" y="-0.40" style="font-size: 10px; font-family: 'Liberation Sans'">n</tspan>
<tspan x="55.73" y="-0.40" style="font-size: 10px; font-family: 'Liberation Sans'">t</tspan>
<tspan x="59.30" y="-0.40" style="font-size: 10px; font-family: 'Liberation Sans'"> </tspan>
<tspan x="62.19" y="-0.40" style="font-size: 10px; font-family: 'Liberation Sans'">(</tspan>
<tspan x="71.52" y="-0.40" style="font-size: 10px; font-family: 'Liberation Sans'">A</tspan>
<tspan x="77.74" y="-0.40" style="font-size: 10px; font-family: 'Liberation Sans'">)</tspan>
<tspan x="65.74" y="-0.40" style="font-style: italic; font-size: 10px; font-family: 'Liberation Sans'">μ</tspan>
</text>
</g>
</g>
</g>
<g id="line2d_124">
<path d="M 59.50 340.19 
L 126.98 312.87 
L 178.76 291.91 
L 222.41 274.23 
L 260.86 258.66 
" clip-path="url(#paf037e5219)" style="fill: none; stroke-dasharray: 3.72,1.59; stroke-dashoffset: 0; stroke: #1f77b4; stroke-opacity: 0.8; stroke-width: 1.2"/>
</g>
<g id="patch_20">
<path d="M 49.44 378.28 
L 49.44 216.68 
" style="fill: none; stroke: #000000; stroke-width: 0.8; stroke-linejoin: miter; stroke-linecap: square"/>
</g>
<g id="patch_21">
<path d="M 270.92 378.28 
L 270.92 216.68 
" style="fill: none; stroke: #000000; stroke-width: 0.8; stroke-linejoin: miter; stroke-linecap: square"/>
</g>
<g id="patch_22">
<path d="M 49.44 378.28 
L 270.92 378.28 
" style="fill: none; stroke: #000000; stroke-width: 0.8; stroke-linejoin: miter; stroke-linecap: square"/>
</g>
<g id="patch_23">
<path d="M 49.44 216.68 
L 270.92 216.68 
" style="fill: none; stroke: #000000; stroke-width: 0.8; stroke-linejoin: miter; stroke-linecap: square"/>
</g>
<g id="PathCollection_2">
<g clip-path="url(#paf037e5219)">
<use href="#m11e9e04bcd" x="59.50" y="344.08" style="fill: #1f77b4; fill-opacity: 0.9; stroke: #1f77b4; stroke-opacity: 0.9"/>
<use href="#m11e9e04bcd" x="126.98" y="307.43" style="fill: #1f77b4; fill-opacity: 0.9; stroke: #1f77b4; stroke-opacity: 0.9"/>
<use href="#m11e9e04bcd" x="178.76" y="286.17" style="fill: #1f77b4; fill-opacity: 0.9; stroke: #1f77b4; stroke-opacity: 0.9"/>
<use href="#m11e9e04bcd" x="222.41" y="277.12" style="fill: #1f77b4; fill-opacity: 0.9; stroke: #1f77b4; stroke-opacity: 0.9"/>
<use href="#m11e9e04bcd" x="260.86" y="259.93" style="fill: #1f77b4; fill-opacity: 0.9; stroke: #1f77b4; stroke-opacity: 0.9"/>
</g>
</g>
<g id="text_74">
<g transform="translate(78.73 270.79) scale(1.1 1)">
<text>
<tspan x="0.00" y="-0.82" style="font-style: italic; font-size: 11px; font-family: 'Liberation Sans'">y</tspan>
<tspan x="40.45" y="-0.82" style="font-style: italic; font-size: 11px; font-family: 'Liberation Sans'">x</tspan>
<tspan x="7.86" y="-0.82" style="font-size: 11px; font-family: 'Liberation Sans'">=</tspan>
<tspan x="18.19" y="-0.82" style="font-size: 11px; font-family: 'Liberation Sans'">1</tspan>
<tspan x="24.55" y="-0.82" style="font-size: 11px; font-family: 'Liberation Sans'">6</tspan>
<tspan x="30.91" y="-0.82" style="font-size: 11px; font-family: 'Liberation Sans'">.</tspan>
<tspan x="34.09" y="-0.82" style="font-size: 11px; font-family: 'Liberation Sans'">3</tspan>
<tspan x="48.32" y="-0.82" style="font-size: 11px; font-family: 'Liberation Sans'">+</tspan>
<tspan x="58.65" y="-0.82" style="font-size: 11px; font-family: 'Liberation Sans'">6</tspan>
<tspan x="65.01" y="-0.82" style="font-size: 11px; font-family: 'Liberation Sans'">0</tspan>
<tspan x="71.37" y="-0.82" style="font-size: 11px; font-family: 'Liberation Sans'">.</tspan>
<tspan x="74.55" y="-0.82" style="font-size: 11px; font-family: 'Liberation Sans'">4</tspan>
</text>
</g>
</g>
<g id="text_75">
<text style="font-size: 14px; font-family: 'Liberation Sans', sans-serif; text-anchor: start" x="55.64" y="233.46" transform="rotate(-0 55.64 233.46)" textLength="10.46" lengthAdjust="spacingAndGlyphs">D</text>
</g>
</g>
<g id="axes_5">
<g id="patch_24">
<path d="M 333.12 378.28 
L 555.21 378.28 
L 555.21 216.68 
L 333.12 216.68 
z
" style="fill: #ffffff"/>
</g>
<g id="matplotlib.axis_9">
<g id="xtick_25">
<g id="line2d_125">
<path d="M 347.31 378.28 
L 347.31 216.68 
" clip-path="url(#p5670c58c8d)" style="fill: none; stroke: #b0b0b0; stroke-opacity: 0.25; stroke-width: 0.8; stroke-linecap: square"/>
</g>
<g id="line2d_126">
<g>
<use href="#mfdaa00ae71" x="347.31" y="378.28" style="stroke: #000000; stroke-width: 0.8"/>
</g>
</g>
<g id="text_76">
<text style="font-size: 10px; font-family: 'Liberation Sans', sans-serif; text-anchor: middle" x="347.31" y="393.13" transform="rotate(-0 347.31 393.13)" textLength="5.64" lengthAdjust="spacingAndGlyphs">2</text>
</g>
</g>
<g id="xtick_26">
<g id="line2d_127">
<path d="M 404.03 378.28 
L 404.03 216.68 
" clip-path="url(#p5670c58c8d)" style="fill: none; stroke: #b0b0b0; stroke-opacity: 0.25; stroke-width: 0.8; stroke-linecap: square"/>
</g>
<g id="line2d_128">
<g>
<use href="#mfdaa00ae71" x="404.03" y="378.28" style="stroke: #000000; stroke-width: 0.8"/>
</g>
</g>
<g id="text_77">
<text style="font-size: 10px; font-family: 'Liberation Sans', sans-serif; text-anchor: middle" x="404.03" y="393.13" transform="rotate(-0 404.03 393.13)" textLength="5.86" lengthAdjust="spacingAndGlyphs">4</text>
</g>
</g>
<g id="xtick_27">
<g id="line2d_129">
<path d="M 460.76 378.28 
L 460.76 216.68 
" clip-path="url(#p5670c58c8d)" style="fill: none; stroke: #b0b0b0; stroke-opacity: 0.25; stroke-width: 0.8; stroke-linecap: square"/>
</g>
<g id="line2d_130">
<g>
<use href="#mfdaa00ae71" x="460.76" y="378.28" style="stroke: #000000; stroke-width: 0.8"/>
</g>
</g>
<g id="text_78">
<text style="font-size: 10px; font-family: 'Liberation Sans', sans-serif; text-anchor: middle" x="460.76" y="393.13" transform="rotate(-0 460.76 393.13)" textLength="6.06" lengthAdjust="spacingAndGlyphs">6</text>
</g>
</g>
<g id="xtick_28">
<g id="line2d_131">
<path d="M 517.49 378.28 
L 517.49 216.68 
" clip-path="url(#p5670c58c8d)" style="fill: none; stroke: #b0b0b0; stroke-opacity: 0.25; stroke-width: 0.8; stroke-linecap: square"/>
</g>
<g id="line2d_132">
<g>
<use href="#mfdaa00ae71" x="517.49" y="378.28" style="stroke: #000000; stroke-width: 0.8"/>
</g>
</g>
<g id="text_79">
<text style="font-size: 10px; font-family: 'Liberation Sans', sans-serif; text-anchor: middle" x="517.49" y="393.13" transform="rotate(-0 517.49 393.13)" textLength="5.91" lengthAdjust="spacingAndGlyphs">8</text>
</g>
</g>
<g id="text_80">
<text style="font-size: 10px; font-family: 'Liberation Sans', sans-serif; text-anchor: middle" x="444.17" y="406.80" transform="rotate(-0 444.17 406.80)" textLength="13.51" lengthAdjust="spacingAndGlyphs">pH</text>
</g>
</g>
<g id="matplotlib.axis_10">
<g id="ytick_28">
<g id="line2d_133">
<path d="M 333.12 363.59 
L 555.21 363.59 
" clip-path="url(#p5670c58c8d)" style="fill: none; stroke: #b0b0b0; stroke-opacity: 0.25; stroke-width: 0.8; stroke-linecap: square"/>
</g>
<g id="line2d_134">
<g>
<use href="#m08813e3456" x="333.12" y="363.59" style="stroke: #000000; stroke-width: 0.8"/>
</g>
</g>
<g id="text_81">
<text style="font-size: 10px; font-family: 'Liberation Sans', sans-serif; text-anchor: end" x="326.12" y="367.39" transform="rotate(-0 326.12 367.39)" textLength="18.62" lengthAdjust="spacingAndGlyphs">400</text>
</g>
</g>
<g id="ytick_29">
<g id="line2d_135">
<path d="M 333.12 326.86 
L 555.21 326.86 
" clip-path="url(#p5670c58c8d)" style="fill: none; stroke: #b0b0b0; stroke-opacity: 0.25; stroke-width: 0.8; stroke-linecap: square"/>
</g>
<g id="line2d_136">
<g>
<use href="#m08813e3456" x="333.12" y="326.86" style="stroke: #000000; stroke-width: 0.8"/>
</g>
</g>
<g id="text_82">
<text style="font-size: 10px; font-family: 'Liberation Sans', sans-serif; text-anchor: end" x="326.12" y="330.66" transform="rotate(-0 326.12 330.66)" textLength="18.53" lengthAdjust="spacingAndGlyphs">500</text>
</g>
</g>
<g id="ytick_30">
<g id="line2d_137">
<path d="M 333.12 290.13 
L 555.21 290.13 
" clip-path="url(#p5670c58c8d)" style="fill: none; stroke: #b0b0b0; stroke-opacity: 0.25; stroke-width: 0.8; stroke-linecap: square"/>
</g>
<g id="line2d_138">
<g>
<use href="#m08813e3456" x="333.12" y="290.13" style="stroke: #000000; stroke-width: 0.8"/>
</g>
</g>
<g id="text_83">
<text style="font-size: 10px; font-family: 'Liberation Sans', sans-serif; text-anchor: end" x="326.12" y="293.93" transform="rotate(-0 326.12 293.93)" textLength="18.73" lengthAdjust="spacingAndGlyphs">600</text>
</g>
</g>
<g id="ytick_31">
<g id="line2d_139">
<path d="M 333.12 253.41 
L 555.21 253.41 
" clip-path="url(#p5670c58c8d)" style="fill: none; stroke: #b0b0b0; stroke-opacity: 0.25; stroke-width: 0.8; stroke-linecap: square"/>
</g>
<g id="line2d_140">
<g>
<use href="#m08813e3456" x="333.12" y="253.41" style="stroke: #000000; stroke-width: 0.8"/>
</g>
</g>
<g id="text_84">
<text style="font-size: 10px; font-family: 'Liberation Sans', sans-serif; text-anchor: end" x="326.12" y="257.21" transform="rotate(-0 326.12 257.21)" textLength="18.60" lengthAdjust="spacingAndGlyphs">700</text>
</g>
</g>
<g id="ytick_32">
<g id="line2d_141">
<path d="M 333.12 216.68 
L 555.21 216.68 
" clip-path="url(#p5670c58c8d)" style="fill: none; stroke: #b0b0b0; stroke-opacity: 0.25; stroke-width: 0.8; stroke-linecap: square"/>
</g>
<g id="line2d_142">
<g>
<use href="#m08813e3456" x="333.12" y="216.68" style="stroke: #000000; stroke-width: 0.8"/>
</g>
</g>
<g id="text_85">
<text style="font-size: 10px; font-family: 'Liberation Sans', sans-serif; text-anchor: end" x="326.12" y="220.48" transform="rotate(-0 326.12 220.48)" textLength="18.66" lengthAdjust="spacingAndGlyphs">800</text>
</g>
</g>
<g id="text_86">
<text style="font-size: 10px; font-family: 'Liberation Sans', sans-serif; text-anchor: middle" x="300.96" y="297.48" transform="rotate(-90 300.96 297.48)" textLength="158.22" lengthAdjust="spacingAndGlyphs">Peak Potential (mV vs. Ag/AgCl)</text>
</g>
</g>
<g id="line2d_143">
<path d="M 361.49 235.83 
L 392.69 257.85 
L 412.54 271.86 
L 472.10 313.90 
L 500.47 333.91 
L 520.32 347.92 
L 545.85 365.94 
" clip-path="url(#p5670c58c8d)" style="fill: none; stroke-dasharray: 3.72,1.59; stroke-dashoffset: 0; stroke: #1f77b4; stroke-opacity: 0.8; stroke-width: 1.2"/>
</g>
<g id="patch_25">
<path d="M 333.12 378.28 
L 333.12 216.68 
" style="fill: none; stroke: #000000; stroke-width: 0.8; stroke-linejoin: miter; stroke-linecap: square"/>
</g>
<g id="patch_26">
<path d="M 555.21 378.28 
L 555.21 216.68 
" style="fill: none; stroke: #000000; stroke-width: 0.8; stroke-linejoin: miter; stroke-linecap: square"/>
</g>
<g id="patch_27">
<path d="M 333.12 378.28 
L 555.21 378.28 
" style="fill: none; stroke: #000000; stroke-width: 0.8; stroke-linejoin: miter; stroke-linecap: square"/>
</g>
<g id="patch_28">
<path d="M 333.12 216.68 
L 555.21 216.68 
" style="fill: none; stroke: #000000; stroke-width: 0.8; stroke-linejoin: miter; stroke-linecap: square"/>
</g>
<g id="PathCollection_3">
<g clip-path="url(#p5670c58c8d)">
<use href="#m11e9e04bcd" x="361.49" y="235.05" style="fill: #1f77b4; fill-opacity: 0.9; stroke: #1f77b4; stroke-opacity: 0.9"/>
<use href="#m11e9e04bcd" x="392.69" y="257.08" style="fill: #1f77b4; fill-opacity: 0.9; stroke: #1f77b4; stroke-opacity: 0.9"/>
<use href="#m11e9e04bcd" x="412.54" y="275.44" style="fill: #1f77b4; fill-opacity: 0.9; stroke: #1f77b4; stroke-opacity: 0.9"/>
<use href="#m11e9e04bcd" x="472.10" y="308.50" style="fill: #1f77b4; fill-opacity: 0.9; stroke: #1f77b4; stroke-opacity: 0.9"/>
<use href="#m11e9e04bcd" x="500.47" y="334.21" style="fill: #1f77b4; fill-opacity: 0.9; stroke: #1f77b4; stroke-opacity: 0.9"/>
<use href="#m11e9e04bcd" x="520.32" y="352.57" style="fill: #1f77b4; fill-opacity: 0.9; stroke: #1f77b4; stroke-opacity: 0.9"/>
<use href="#m11e9e04bcd" x="545.85" y="363.59" style="fill: #1f77b4; fill-opacity: 0.9; stroke: #1f77b4; stroke-opacity: 0.9"/>
</g>
</g>
<g id="text_87">
<g transform="translate(347.31 335.00) scale(1.1 1)">
<text>
<tspan x="0.00" y="-0.57" style="font-style: italic; font-size: 10px; font-family: 'Liberation Sans'">y</tspan>
<tspan x="47.94" y="-0.57" style="font-style: italic; font-size: 10px; font-family: 'Liberation Sans'">x</tspan>
<tspan x="7.15" y="-0.57" style="font-size: 10px; font-family: 'Liberation Sans'">=</tspan>
<tspan x="18.31" y="-0.57" style="font-size: 10px; font-family: 'Liberation Sans'">−</tspan>
<tspan x="27.69" y="-0.57" style="font-size: 10px; font-family: 'Liberation Sans'">5</tspan>
<tspan x="33.48" y="-0.57" style="font-size: 10px; font-family: 'Liberation Sans'">4</tspan>
<tspan x="39.26" y="-0.57" style="font-size: 10px; font-family: 'Liberation Sans'">.</tspan>
<tspan x="42.15" y="-0.57" style="font-size: 10px; font-family: 'Liberation Sans'">5</tspan>
<tspan x="55.09" y="-0.57" style="font-size: 10px; font-family: 'Liberation Sans'">+</tspan>
<tspan x="64.47" y="-0.57" style="font-size: 10px; font-family: 'Liberation Sans'">8</tspan>
<tspan x="70.26" y="-0.57" style="font-size: 10px; font-family: 'Liberation Sans'">8</tspan>
<tspan x="76.04" y="-0.57" style="font-size: 10px; font-family: 'Liberation Sans'">4</tspan>
<tspan x="81.83" y="-0.57" style="font-size: 10px; font-family: 'Liberation Sans'">.</tspan>
<tspan x="84.72" y="-0.57" style="font-size: 10px; font-family: 'Liberation Sans'">1</tspan>
</text>
</g>
<g transform="translate(347.31 346.22) scale(1.1 1)">
<text>
<tspan x="0.00" y="-0.97" style="font-style: italic; font-size: 10px; font-family: 'Liberation Sans'">R</tspan>
<tspan x="6.95" y="-4.80" style="font-size: 7px; font-family: 'Liberation Sans'">2</tspan>
<tspan x="13.02" y="-0.97" style="font-size: 10px; font-family: 'Liberation Sans'">=</tspan>
<tspan x="22.41" y="-0.97" style="font-size: 10px; font-family: 'Liberation Sans'">0</tspan>
<tspan x="28.19" y="-0.97" style="font-size: 10px; font-family: 'Liberation Sans'">.</tspan>
<tspan x="31.08" y="-0.97" style="font-size: 10px; font-family: 'Liberation Sans'">9</tspan>
<tspan x="36.86" y="-0.97" style="font-size: 10px; font-family: 'Liberation Sans'">9</tspan>
<tspan x="42.65" y="-0.97" style="font-size: 10px; font-family: 'Liberation Sans'">5</tspan>
</text>
</g>
</g>
<g id="text_88">
<text style="font-size: 14px; font-family: 'Liberation Sans', sans-serif; text-anchor: start" x="339.34" y="233.46" transform="rotate(-0 339.34 233.46)" textLength="8.09" lengthAdjust="spacingAndGlyphs">E</text>
</g>
</g>
<g id="axes_6">
<g id="patch_29">
<path d="M 617.54 590.67 
L 838.89 590.67 
L 838.89 216.56 
L 617.54 216.56 
z
" style="fill: #ffffff"/>
</g>
<g id="matplotlib.axis_11">
<g id="xtick_29">
<g id="line2d_144">
<path d="M 626.03 590.67 
L 626.03 216.56 
" clip-path="url(#p12f22dbccf)" style="fill: none; stroke: #b0b0b0; stroke-opacity: 0.25; stroke-width: 0.8; stroke-linecap: square"/>
</g>
<g id="line2d_145">
<g>
<use href="#mfdaa00ae71" x="626.03" y="590.67" style="stroke: #000000; stroke-width: 0.8"/>
</g>
</g>
<g id="text_89">
<text style="font-size: 10px; font-family: 'Liberation Sans', sans-serif; text-anchor: middle" x="626.03" y="605.52" transform="rotate(-0 626.03 605.52)" textLength="15.44" lengthAdjust="spacingAndGlyphs">0.0</text>
</g>
</g>
<g id="xtick_30">
<g id="line2d_146">
<path d="M 666.46 590.67 
L 666.46 216.56 
" clip-path="url(#p12f22dbccf)" style="fill: none; stroke: #b0b0b0; stroke-opacity: 0.25; stroke-width: 0.8; stroke-linecap: square"/>
</g>
<g id="line2d_147">
<g>
<use href="#mfdaa00ae71" x="666.46" y="590.67" style="stroke: #000000; stroke-width: 0.8"/>
</g>
</g>
<g id="text_90">
<text style="font-size: 10px; font-family: 'Liberation Sans', sans-serif; text-anchor: middle" x="666.46" y="605.52" transform="rotate(-0 666.46 605.52)" textLength="15.21" lengthAdjust="spacingAndGlyphs">0.2</text>
</g>
</g>
<g id="xtick_31">
<g id="line2d_148">
<path d="M 706.89 590.67 
L 706.89 216.56 
" clip-path="url(#p12f22dbccf)" style="fill: none; stroke: #b0b0b0; stroke-opacity: 0.25; stroke-width: 0.8; stroke-linecap: square"/>
</g>
<g id="line2d_149">
<g>
<use href="#mfdaa00ae71" x="706.89" y="590.67" style="stroke: #000000; stroke-width: 0.8"/>
</g>
</g>
<g id="text_91">
<text style="font-size: 10px; font-family: 'Liberation Sans', sans-serif; text-anchor: middle" x="706.89" y="605.52" transform="rotate(-0 706.89 605.52)" textLength="15.43" lengthAdjust="spacingAndGlyphs">0.4</text>
</g>
</g>
<g id="xtick_32">
<g id="line2d_150">
<path d="M 747.32 590.67 
L 747.32 216.56 
" clip-path="url(#p12f22dbccf)" style="fill: none; stroke: #b0b0b0; stroke-opacity: 0.25; stroke-width: 0.8; stroke-linecap: square"/>
</g>
<g id="line2d_151">
<g>
<use href="#mfdaa00ae71" x="747.32" y="590.67" style="stroke: #000000; stroke-width: 0.8"/>
</g>
</g>
<g id="text_92">
<text style="font-size: 10px; font-family: 'Liberation Sans', sans-serif; text-anchor: middle" x="747.32" y="605.52" transform="rotate(-0 747.32 605.52)" textLength="15.53" lengthAdjust="spacingAndGlyphs">0.6</text>
</g>
</g>
<g id="xtick_33">
<g id="line2d_152">
<path d="M 787.75 590.67 
L 787.75 216.56 
" clip-path="url(#p12f22dbccf)" style="fill: none; stroke: #b0b0b0; stroke-opacity: 0.25; stroke-width: 0.8; stroke-linecap: square"/>
</g>
<g id="line2d_153">
<g>
<use href="#mfdaa00ae71" x="787.75" y="590.67" style="stroke: #000000; stroke-width: 0.8"/>
</g>
</g>
<g id="text_93">
<text style="font-size: 10px; font-family: 'Liberation Sans', sans-serif; text-anchor: middle" x="787.75" y="605.52" transform="rotate(-0 787.75 605.52)" textLength="15.47" lengthAdjust="spacingAndGlyphs">0.8</text>
</g>
</g>
<g id="xtick_34">
<g id="line2d_154">
<path d="M 828.18 590.67 
L 828.18 216.56 
" clip-path="url(#p12f22dbccf)" style="fill: none; stroke: #b0b0b0; stroke-opacity: 0.25; stroke-width: 0.8; stroke-linecap: square"/>
</g>
<g id="line2d_155">
<g>
<use href="#mfdaa00ae71" x="828.18" y="590.67" style="stroke: #000000; stroke-width: 0.8"/>
</g>
</g>
<g id="text_94">
<text style="font-size: 10px; font-family: 'Liberation Sans', sans-serif; text-anchor: middle" x="828.18" y="605.52" transform="rotate(-0 828.18 605.52)" textLength="15.41" lengthAdjust="spacingAndGlyphs">1.0</text>
</g>
</g>
<g id="text_95">
<text style="font-size: 10px; font-family: 'Liberation Sans', sans-serif; text-anchor: middle" x="728.22" y="619.30" transform="rotate(-0 728.22 619.30)" textLength="121.56" lengthAdjust="spacingAndGlyphs">Potential (V vs. Ag/AgCl)</text>
</g>
</g>
<g id="matplotlib.axis_12">
<g id="text_96">
<g transform="translate(611.44 434.71) rotate(-90) scale(1.1 1)">
<text>
<tspan x="0.00" y="-0.40" style="font-size: 10px; font-family: 'Liberation Sans'">C</tspan>
<tspan x="6.34" y="-0.40" style="font-size: 10px; font-family: 'Liberation Sans'">u</tspan>
<tspan x="12.10" y="-0.40" style="font-size: 10px; font-family: 'Liberation Sans'">r</tspan>
<tspan x="15.84" y="-0.40" style="font-size: 10px; font-family: 'Liberation Sans'">r</tspan>
<tspan x="19.58" y="-0.40" style="font-size: 10px; font-family: 'Liberation Sans'">e</tspan>
<tspan x="25.17" y="-0.40" style="font-size: 10px; font-family: 'Liberation Sans'">n</tspan>
<tspan x="30.93" y="-0.40" style="font-size: 10px; font-family: 'Liberation Sans'">t</tspan>
<tspan x="34.50" y="-0.40" style="font-size: 10px; font-family: 'Liberation Sans'"> </tspan>
<tspan x="37.39" y="-0.40" style="font-size: 10px; font-family: 'Liberation Sans'">(</tspan>
<tspan x="46.72" y="-0.40" style="font-size: 10px; font-family: 'Liberation Sans'">A</tspan>
<tspan x="52.94" y="-0.40" style="font-size: 10px; font-family: 'Liberation Sans'">)</tspan>
<tspan x="40.94" y="-0.40" style="font-style: italic; font-size: 10px; font-family: 'Liberation Sans'">μ</tspan>
</text>
</g>
</g>
</g>
<g id="line2d_156">
<path d="M 626.03 572.84 
L 628.56 572.50 
L 631.10 572.62 
L 632.62 572.76 
L 635.66 572.50 
L 638.19 572.60 
L 640.22 572.62 
L 641.74 572.64 
L 643.76 572.32 
L 647.31 572.44 
L 649.34 572.40 
L 650.86 572.59 
L 652.38 572.87 
L 653.39 572.78 
L 654.91 572.49 
L 655.92 572.54 
L 657.44 572.76 
L 662.00 572.79 
L 664.03 572.80 
L 666.56 572.61 
L 669.09 572.59 
L 671.12 572.31 
L 677.71 572.71 
L 680.24 572.63 
L 683.79 572.67 
L 685.81 572.69 
L 688.85 572.54 
L 692.91 572.75 
L 697.47 572.56 
L 698.99 572.71 
L 701.52 572.69 
L 704.05 572.60 
L 712.67 572.57 
L 714.69 572.44 
L 716.21 572.72 
L 717.22 572.80 
L 720.26 572.45 
L 721.78 572.51 
L 723.30 572.54 
L 725.33 572.78 
L 728.88 572.77 
L 730.40 572.80 
L 732.42 572.68 
L 734.45 572.70 
L 736.98 572.42 
L 743.06 571.71 
L 744.58 571.30 
L 746.10 570.48 
L 747.62 569.73 
L 748.64 569.23 
L 749.65 568.51 
L 750.66 567.61 
L 751.68 566.47 
L 753.70 563.60 
L 757.25 558.43 
L 759.28 554.76 
L 762.82 548.16 
L 765.86 543.43 
L 766.87 542.15 
L 767.89 541.25 
L 768.90 540.66 
L 769.91 540.36 
L 770.93 540.22 
L 771.94 540.29 
L 773.46 540.67 
L 774.47 541.12 
L 775.49 541.97 
L 777.51 544.35 
L 779.03 546.25 
L 781.06 549.21 
L 783.59 553.11 
L 789.17 560.35 
L 794.23 564.57 
L 798.79 567.34 
L 799.81 568.03 
L 800.82 568.48 
L 801.83 568.89 
L 804.37 570.34 
L 804.87 571.96 
L 807.41 572.05 
L 808.92 572.42 
L 811.46 572.60 
L 813.48 572.88 
L 815.00 572.69 
L 817.03 572.41 
L 818.55 571.86 
L 820.07 571.74 
L 821.08 571.86 
L 822.10 572.10 
L 823.11 572.05 
L 824.12 571.79 
L 824.63 571.86 
L 825.14 572.20 
L 826.15 573.22 
L 826.66 573.44 
L 827.16 573.29 
L 828.18 572.65 
L 828.18 572.65 
" clip-path="url(#p12f22dbccf)" style="fill: none; stroke: #1f77b4; stroke-width: 2; stroke-linecap: square"/>
</g>
<g id="line2d_157">
<path d="M 626.03 520.14 
L 630.08 520.01 
L 631.10 519.96 
L 633.63 520.15 
L 638.19 519.79 
L 639.71 520.04 
L 640.72 520.14 
L 642.75 519.97 
L 644.27 519.96 
L 646.80 520.25 
L 649.34 520.05 
L 652.38 520.10 
L 654.40 519.95 
L 655.92 519.87 
L 659.47 520.03 
L 660.48 519.98 
L 662.00 519.82 
L 674.67 520.03 
L 677.71 520.01 
L 680.24 519.98 
L 682.27 519.89 
L 684.29 520.01 
L 686.32 519.82 
L 691.89 520.09 
L 694.43 520.08 
L 695.95 520.16 
L 697.97 520.01 
L 699.49 520.06 
L 701.01 519.79 
L 702.03 519.66 
L 713.68 519.82 
L 716.72 519.49 
L 718.74 519.33 
L 719.76 519.22 
L 722.29 519.21 
L 724.32 518.62 
L 726.34 518.31 
L 728.37 517.66 
L 736.48 514.58 
L 740.53 511.94 
L 746.10 507.96 
L 751.17 504.04 
L 753.70 502.58 
L 755.22 501.60 
L 756.74 500.58 
L 758.26 499.85 
L 762.31 498.53 
L 768.39 498.44 
L 769.41 498.87 
L 773.97 501.54 
L 775.49 502.73 
L 779.54 506.30 
L 781.57 508.28 
L 784.61 510.84 
L 788.15 513.51 
L 789.67 514.53 
L 792.21 515.80 
L 796.77 517.83 
L 798.79 518.38 
L 801.83 518.93 
L 803.86 519.39 
L 805.38 519.43 
L 809.43 519.60 
L 810.44 519.83 
L 811.46 519.78 
L 812.98 519.65 
L 813.99 519.91 
L 815.00 520.18 
L 816.02 520.12 
L 817.03 519.90 
L 817.54 519.88 
L 819.56 520.34 
L 821.08 520.03 
L 824.12 520.10 
L 826.15 519.70 
L 827.16 519.54 
L 828.18 519.63 
L 828.18 519.63 
" clip-path="url(#p12f22dbccf)" style="fill: none; stroke: #ff7f0e; stroke-width: 2; stroke-linecap: square"/>
</g>
<g id="line2d_158">
<path d="M 626.03 466.75 
L 629.11 466.92 
L 629.99 466.87 
L 632.19 466.98 
L 636.15 466.75 
L 640.54 467.07 
L 642.30 467.05 
L 644.06 467.18 
L 646.70 466.95 
L 650.22 466.88 
L 651.10 466.87 
L 653.30 467.09 
L 655.06 466.89 
L 657.25 467.00 
L 658.57 466.92 
L 660.77 467.19 
L 662.97 466.95 
L 664.73 467.05 
L 666.93 466.99 
L 670.45 467.14 
L 672.21 467.17 
L 675.28 466.91 
L 677.48 467.20 
L 681.00 466.92 
L 681.88 466.85 
L 684.08 467.08 
L 685.84 466.91 
L 687.16 466.91 
L 689.36 466.96 
L 692.87 467.08 
L 696.39 467.13 
L 699.47 466.80 
L 700.79 466.91 
L 702.55 467.01 
L 707.83 466.67 
L 709.58 466.62 
L 711.78 466.54 
L 713.10 466.45 
L 714.42 466.06 
L 715.30 465.78 
L 716.18 465.74 
L 717.06 465.77 
L 717.94 465.57 
L 719.70 464.99 
L 721.02 464.57 
L 725.42 462.39 
L 728.05 460.70 
L 729.81 459.17 
L 732.89 455.92 
L 735.97 452.54 
L 740.81 446.89 
L 741.69 445.89 
L 744.33 443.59 
L 746.08 442.16 
L 749.60 440.29 
L 750.48 440.11 
L 753.12 440.15 
L 754.00 440.40 
L 755.32 441.27 
L 756.64 442.34 
L 757.96 443.75 
L 761.48 448.04 
L 764.55 452.24 
L 767.19 455.54 
L 770.27 458.61 
L 775.55 462.50 
L 779.51 464.70 
L 780.83 465.15 
L 781.26 465.90 
L 782.58 465.99 
L 785.22 466.76 
L 786.10 467.20 
L 786.54 467.26 
L 788.30 466.84 
L 790.06 467.08 
L 790.94 466.87 
L 791.82 466.56 
L 792.70 466.73 
L 793.58 466.91 
L 794.90 466.93 
L 796.22 466.82 
L 797.10 466.77 
L 798.86 466.00 
L 800.17 466.00 
L 801.49 466.15 
L 801.49 466.15 
" clip-path="url(#p12f22dbccf)" style="fill: none; stroke: #2ca02c; stroke-width: 2; stroke-linecap: square"/>
</g>
<g id="line2d_159">
<path d="M 626.03 413.86 
L 627.81 413.78 
L 629.15 413.77 
L 630.48 413.78 
L 632.71 413.65 
L 636.27 413.78 
L 643.84 413.70 
L 644.73 413.82 
L 647.85 413.71 
L 648.74 413.62 
L 654.09 413.87 
L 656.76 413.56 
L 658.54 413.64 
L 659.88 413.48 
L 660.77 413.36 
L 661.66 413.48 
L 662.55 413.63 
L 664.77 413.48 
L 666.56 413.76 
L 667.89 413.73 
L 669.67 413.47 
L 671.01 413.73 
L 671.90 413.83 
L 674.57 413.85 
L 675.46 413.83 
L 677.24 413.54 
L 684.37 413.58 
L 687.49 413.28 
L 689.71 413.50 
L 691.05 413.20 
L 692.83 412.77 
L 695.95 412.28 
L 696.84 412.11 
L 698.17 411.56 
L 699.96 410.88 
L 700.85 410.51 
L 701.74 409.93 
L 703.07 408.98 
L 705.30 407.73 
L 709.75 404.09 
L 713.76 399.71 
L 720.44 390.92 
L 722.67 387.82 
L 724.45 385.42 
L 725.34 384.25 
L 726.23 383.45 
L 727.57 382.34 
L 729.35 380.67 
L 730.24 380.09 
L 732.91 378.86 
L 733.80 378.58 
L 735.58 378.42 
L 736.47 378.51 
L 737.81 378.93 
L 739.14 379.59 
L 741.37 381.23 
L 742.71 382.37 
L 744.93 385.04 
L 752.50 395.02 
L 753.84 396.71 
L 755.18 398.37 
L 757.40 401.31 
L 762.30 406.25 
L 764.08 407.72 
L 765.86 408.89 
L 769.87 410.96 
L 771.65 411.54 
L 773.43 412.17 
L 774.77 412.58 
L 776.11 412.77 
L 781.90 413.26 
L 782.79 413.11 
L 783.68 413.21 
L 785.46 413.74 
L 786.79 413.76 
L 788.13 413.70 
L 791.69 414.07 
L 792.58 414.04 
L 793.47 413.72 
L 794.81 413.12 
L 795.26 413.16 
L 796.15 413.68 
L 796.59 413.96 
L 797.04 414.10 
L 797.48 414.04 
L 798.82 413.36 
L 799.26 413.34 
L 802.38 414.04 
L 803.72 414.11 
L 803.72 414.11 
" clip-path="url(#p12f22dbccf)" style="fill: none; stroke: #d62728; stroke-width: 2; stroke-linecap: square"/>
</g>
<g id="line2d_160">
<path d="M 626.03 360.68 
L 630.65 360.98 
L 634.00 361.00 
L 634.84 361.05 
L 636.94 360.91 
L 638.20 360.86 
L 639.87 360.70 
L 641.97 360.86 
L 643.23 360.88 
L 644.49 360.96 
L 647.01 360.74 
L 653.30 360.84 
L 656.23 360.87 
L 658.75 360.54 
L 662.11 360.70 
L 664.62 360.80 
L 667.56 360.85 
L 671.76 360.72 
L 673.85 360.73 
L 678.05 360.56 
L 680.98 360.48 
L 683.92 359.98 
L 686.02 359.89 
L 686.86 359.80 
L 687.70 359.50 
L 690.63 358.22 
L 692.31 357.58 
L 693.15 357.02 
L 696.93 354.11 
L 698.60 352.69 
L 701.12 349.73 
L 702.38 347.96 
L 708.67 338.07 
L 710.35 335.38 
L 711.61 333.46 
L 713.29 330.80 
L 716.22 327.20 
L 717.90 325.59 
L 719.16 324.51 
L 720.00 324.10 
L 721.67 323.71 
L 722.51 323.72 
L 724.19 324.20 
L 725.03 324.54 
L 725.87 325.09 
L 727.13 326.21 
L 728.39 327.57 
L 730.06 329.82 
L 732.58 333.52 
L 740.55 346.49 
L 742.65 349.43 
L 746.84 354.06 
L 750.62 357.05 
L 751.88 357.86 
L 753.14 358.39 
L 756.49 359.40 
L 763.20 360.72 
L 764.04 360.70 
L 765.30 360.52 
L 769.08 360.86 
L 770.76 360.83 
L 772.01 360.66 
L 774.95 360.67 
L 775.79 360.48 
L 777.47 360.55 
L 778.31 360.53 
L 779.15 360.61 
L 780.82 360.20 
L 781.66 360.55 
L 782.50 360.90 
L 783.34 360.87 
L 784.18 360.51 
L 785.02 360.07 
L 785.44 360.06 
L 785.86 360.28 
L 786.70 360.94 
L 787.12 361.11 
L 788.79 361.22 
L 789.63 361.00 
L 791.73 359.92 
L 792.57 359.97 
L 793.41 360.17 
L 793.41 360.17 
" clip-path="url(#p12f22dbccf)" style="fill: none; stroke: #9467bd; stroke-width: 2; stroke-linecap: square"/>
</g>
<g id="line2d_161">
<path d="M 626.03 307.88 
L 629.11 307.87 
L 630.82 307.77 
L 631.84 307.66 
L 633.21 307.89 
L 634.58 307.67 
L 635.95 307.68 
L 638.00 307.52 
L 640.39 307.46 
L 641.42 307.45 
L 643.13 307.72 
L 644.50 307.75 
L 646.55 307.46 
L 648.26 307.74 
L 649.29 307.72 
L 650.65 307.88 
L 652.36 307.66 
L 654.07 307.80 
L 658.18 307.73 
L 659.54 307.57 
L 661.94 307.75 
L 663.65 307.55 
L 664.67 307.78 
L 665.36 307.85 
L 667.75 307.54 
L 668.78 307.60 
L 670.15 307.56 
L 671.17 307.63 
L 672.54 307.60 
L 673.57 307.55 
L 674.59 307.49 
L 675.62 307.55 
L 676.30 307.40 
L 677.67 306.98 
L 678.70 306.91 
L 679.72 306.87 
L 682.46 306.31 
L 683.48 305.84 
L 685.19 305.45 
L 688.95 303.45 
L 691.01 301.86 
L 694.08 299.10 
L 695.79 297.32 
L 698.19 293.95 
L 699.56 291.92 
L 701.61 289.14 
L 704.00 285.69 
L 706.05 282.66 
L 708.45 280.01 
L 712.55 276.27 
L 713.24 276.02 
L 715.29 275.64 
L 715.97 275.76 
L 719.39 277.02 
L 720.42 277.70 
L 721.44 278.70 
L 723.15 280.80 
L 725.20 283.46 
L 726.57 285.69 
L 729.65 290.58 
L 733.75 296.14 
L 736.83 299.79 
L 739.23 302.14 
L 740.59 302.92 
L 742.64 304.66 
L 743.67 305.09 
L 746.06 305.80 
L 746.75 306.27 
L 747.43 306.37 
L 748.12 306.11 
L 748.80 305.79 
L 749.14 305.77 
L 749.48 305.91 
L 750.17 306.56 
L 750.85 307.24 
L 751.54 307.62 
L 752.56 307.86 
L 756.67 307.41 
L 757.35 307.13 
L 757.69 307.11 
L 758.03 307.27 
L 759.06 308.08 
L 760.43 308.45 
L 761.45 308.46 
L 762.48 308.49 
L 762.48 308.49 
" clip-path="url(#p12f22dbccf)" style="fill: none; stroke: #8c564b; stroke-width: 2; stroke-linecap: square"/>
</g>
<g id="line2d_162">
<path d="M 626.03 254.34 
L 627.33 254.27 
L 629.27 254.05 
L 630.56 254.27 
L 631.86 254.30 
L 636.71 254.07 
L 638.98 254.26 
L 639.63 254.14 
L 641.57 254.31 
L 643.19 254.41 
L 646.75 254.09 
L 649.02 254.41 
L 649.99 254.28 
L 650.96 254.08 
L 653.23 254.15 
L 654.20 254.24 
L 655.17 254.32 
L 656.14 254.39 
L 660.02 254.23 
L 660.99 254.29 
L 664.23 254.15 
L 665.53 254.23 
L 668.12 253.98 
L 670.38 254.22 
L 671.35 253.88 
L 672.33 253.61 
L 674.27 253.49 
L 675.24 253.20 
L 676.86 253.18 
L 678.80 252.63 
L 680.10 251.98 
L 681.71 251.57 
L 682.69 251.23 
L 685.60 249.53 
L 688.84 247.27 
L 691.43 244.96 
L 692.40 244.02 
L 693.69 242.72 
L 694.66 241.97 
L 695.63 240.81 
L 696.61 239.70 
L 698.55 238.09 
L 699.52 236.97 
L 700.17 236.49 
L 701.14 235.91 
L 702.43 234.98 
L 705.67 233.73 
L 706.64 233.46 
L 708.26 233.42 
L 709.23 233.61 
L 710.53 234.15 
L 711.82 234.88 
L 713.44 235.90 
L 715.71 238.02 
L 724.45 247.05 
L 726.07 248.44 
L 727.04 249.31 
L 727.68 249.56 
L 728.33 249.77 
L 729.30 250.44 
L 730.92 251.50 
L 731.89 252.03 
L 732.86 252.29 
L 734.48 252.61 
L 736.43 253.23 
L 737.07 253.32 
L 738.04 253.34 
L 738.69 253.58 
L 740.31 254.38 
L 741.28 254.34 
L 742.58 254.19 
L 744.84 254.40 
L 746.46 254.03 
L 747.76 254.71 
L 748.40 254.71 
L 749.38 254.60 
L 750.67 254.66 
L 751.32 254.50 
L 752.29 254.39 
L 752.94 254.33 
L 754.23 254.96 
L 755.20 254.59 
L 755.20 254.59 
" clip-path="url(#p12f22dbccf)" style="fill: none; stroke: #e377c2; stroke-width: 2; stroke-linecap: square"/>
</g>
<g id="patch_30">
<path d="M 617.54 590.67 
L 617.54 216.56 
" style="fill: none; stroke: #000000; stroke-width: 0.8; stroke-linejoin: miter; stroke-linecap: square"/>
</g>
<g id="patch_31">
<path d="M 838.89 590.67 
L 838.89 216.56 
" style="fill: none; stroke: #000000; stroke-width: 0.8; stroke-linejoin: miter; stroke-linecap: square"/>
</g>
<g id="patch_32">
<path d="M 617.54 590.67 
L 838.89 590.67 
" style="fill: none; stroke: #000000; stroke-width: 0.8; stroke-linejoin: miter; stroke-linecap: square"/>
</g>
<g id="patch_33">
<path d="M 617.54 216.56 
L 838.89 216.56 
" style="fill: none; stroke: #000000; stroke-width: 0.8; stroke-linejoin: miter; stroke-linecap: square"/>
</g>
<g id="text_97">
<text style="font-size: 14px; font-family: 'Liberation Sans', sans-serif; text-anchor: start" x="625.29" y="230.94" transform="rotate(-0 625.29 230.94)" textLength="7.32" lengthAdjust="spacingAndGlyphs">F</text>
</g>
<g id="legend_3">
<g id="patch_34">
<path d="M 773.01 349.46 
L 830.49 349.46 
Q 832.89 349.46 832.89 347.06 
L 832.89 224.96 
Q 832.89 222.56 830.49 222.56 
L 773.01 222.56 
Q 770.61 222.56 770.61 224.96 
L 770.61 347.06 
Q 770.61 349.46 773.01 349.46 
z
" style="fill: #ffffff; opacity: 0.8; stroke: #cccccc; stroke-linejoin: miter"/>
</g>
<g id="line2d_163">
<path d="M 775.41 232.28 
L 787.41 232.28 
L 799.41 232.28 
" style="fill: none; stroke: #1f77b4; stroke-width: 2; stroke-linecap: square"/>
</g>
<g id="text_98">
<text style="font-size: 12px; font-family: 'Liberation Sans', sans-serif; text-anchor: start" x="809.01" y="236.48" transform="rotate(-0 809.01 236.48)" textLength="18.37" lengthAdjust="spacingAndGlyphs">2.5</text>
</g>
<g id="line2d_164">
<path d="M 775.41 249.89 
L 787.41 249.89 
L 799.41 249.89 
" style="fill: none; stroke: #ff7f0e; stroke-width: 2; stroke-linecap: square"/>
</g>
<g id="text_99">
<text style="font-size: 12px; font-family: 'Liberation Sans', sans-serif; text-anchor: start" x="809.01" y="254.09" transform="rotate(-0 809.01 254.09)" textLength="18.50" lengthAdjust="spacingAndGlyphs">3.6</text>
</g>
<g id="line2d_165">
<path d="M 775.41 267.51 
L 787.41 267.51 
L 799.41 267.51 
" style="fill: none; stroke: #2ca02c; stroke-width: 2; stroke-linecap: square"/>
</g>
<g id="text_100">
<text style="font-size: 12px; font-family: 'Liberation Sans', sans-serif; text-anchor: start" x="809.01" y="271.71" transform="rotate(-0 809.01 271.71)" textLength="18.42" lengthAdjust="spacingAndGlyphs">4.3</text>
</g>
<g id="line2d_166">
<path d="M 775.41 285.12 
L 787.41 285.12 
L 799.41 285.12 
" style="fill: none; stroke: #d62728; stroke-width: 2; stroke-linecap: square"/>
</g>
<g id="text_101">
<text style="font-size: 12px; font-family: 'Liberation Sans', sans-serif; text-anchor: start" x="809.01" y="289.32" transform="rotate(-0 809.01 289.32)" textLength="18.64" lengthAdjust="spacingAndGlyphs">6.4</text>
</g>
<g id="line2d_167">
<path d="M 775.41 302.73 
L 787.41 302.73 
L 799.41 302.73 
" style="fill: none; stroke: #9467bd; stroke-width: 2; stroke-linecap: square"/>
</g>
<g id="text_102">
<text style="font-size: 12px; font-family: 'Liberation Sans', sans-serif; text-anchor: start" x="809.01" y="306.93" transform="rotate(-0 809.01 306.93)" textLength="18.49" lengthAdjust="spacingAndGlyphs">7.4</text>
</g>
<g id="line2d_168">
<path d="M 775.41 320.35 
L 787.41 320.35 
L 799.41 320.35 
" style="fill: none; stroke: #8c564b; stroke-width: 2; stroke-linecap: square"/>
</g>
<g id="text_103">
<text style="font-size: 12px; font-family: 'Liberation Sans', sans-serif; text-anchor: start" x="809.01" y="324.55" transform="rotate(-0 809.01 324.55)" textLength="18.37" lengthAdjust="spacingAndGlyphs">8.1</text>
</g>
<g id="line2d_169">
<path d="M 775.41 337.96 
L 787.41 337.96 
L 799.41 337.96 
" style="fill: none; stroke: #e377c2; stroke-width: 2; stroke-linecap: square"/>
</g>
<g id="text_104">
<text style="font-size: 12px; font-family: 'Liberation Sans', sans-serif; text-anchor: start" x="809.01" y="342.16" transform="rotate(-0 809.01 342.16)" textLength="18.69" lengthAdjust="spacingAndGlyphs">9.0</text>
</g>
</g>
</g>
<g id="axes_7">
<g id="patch_35">
<path d="M 49.44 590.67 
L 270.92 590.67 
L 270.92 428.71 
L 49.44 428.71 
z
" style="fill: #ffffff"/>
</g>
<g id="matplotlib.axis_13">
<g id="xtick_35">
<g id="line2d_170">
<path d="M 59.51 590.67 
L 59.51 428.71 
" clip-path="url(#paa78326756)" style="fill: none; stroke: #b0b0b0; stroke-opacity: 0.25; stroke-width: 0.8; stroke-linecap: square"/>
</g>
<g id="line2d_171">
<g>
<use href="#mfdaa00ae71" x="59.51" y="590.67" style="stroke: #000000; stroke-width: 0.8"/>
</g>
</g>
<g id="text_105">
<text style="font-size: 10px; font-family: 'Liberation Sans', sans-serif; text-anchor: middle" x="59.51" y="605.52" transform="rotate(-0 59.51 605.52)" textLength="29.96" lengthAdjust="spacingAndGlyphs">−0.50</text>
</g>
</g>
<g id="xtick_36">
<g id="line2d_172">
<path d="M 98.23 590.67 
L 98.23 428.71 
" clip-path="url(#paa78326756)" style="fill: none; stroke: #b0b0b0; stroke-opacity: 0.25; stroke-width: 0.8; stroke-linecap: square"/>
</g>
<g id="line2d_173">
<g>
<use href="#mfdaa00ae71" x="98.23" y="590.67" style="stroke: #000000; stroke-width: 0.8"/>
</g>
</g>
<g id="text_106">
<text style="font-size: 10px; font-family: 'Liberation Sans', sans-serif; text-anchor: middle" x="98.23" y="605.52" transform="rotate(-0 98.23 605.52)" textLength="29.78" lengthAdjust="spacingAndGlyphs">−0.25</text>
</g>
</g>
<g id="xtick_37">
<g id="line2d_174">
<path d="M 136.95 590.67 
L 136.95 428.71 
" clip-path="url(#paa78326756)" style="fill: none; stroke: #b0b0b0; stroke-opacity: 0.25; stroke-width: 0.8; stroke-linecap: square"/>
</g>
<g id="line2d_175">
<g>
<use href="#mfdaa00ae71" x="136.95" y="590.67" style="stroke: #000000; stroke-width: 0.8"/>
</g>
</g>
<g id="text_107">
<text style="font-size: 10px; font-family: 'Liberation Sans', sans-serif; text-anchor: middle" x="136.95" y="605.52" transform="rotate(-0 136.95 605.52)" textLength="21.81" lengthAdjust="spacingAndGlyphs">0.00</text>
</g>
</g>
<g id="xtick_38">
<g id="line2d_176">
<path d="M 175.67 590.67 
L 175.67 428.71 
" clip-path="url(#paa78326756)" style="fill: none; stroke: #b0b0b0; stroke-opacity: 0.25; stroke-width: 0.8; stroke-linecap: square"/>
</g>
<g id="line2d_177">
<g>
<use href="#mfdaa00ae71" x="175.67" y="590.67" style="stroke: #000000; stroke-width: 0.8"/>
</g>
</g>
<g id="text_108">
<text style="font-size: 10px; font-family: 'Liberation Sans', sans-serif; text-anchor: middle" x="175.67" y="605.52" transform="rotate(-0 175.67 605.52)" textLength="21.63" lengthAdjust="spacingAndGlyphs">0.25</text>
</g>
</g>
<g id="xtick_39">
<g id="line2d_178">
<path d="M 214.39 590.67 
L 214.39 428.71 
" clip-path="url(#paa78326756)" style="fill: none; stroke: #b0b0b0; stroke-opacity: 0.25; stroke-width: 0.8; stroke-linecap: square"/>
</g>
<g id="line2d_179">
<g>
<use href="#mfdaa00ae71" x="214.39" y="590.67" style="stroke: #000000; stroke-width: 0.8"/>
</g>
</g>
<g id="text_109">
<text style="font-size: 10px; font-family: 'Liberation Sans', sans-serif; text-anchor: middle" x="214.39" y="605.52" transform="rotate(-0 214.39 605.52)" textLength="21.81" lengthAdjust="spacingAndGlyphs">0.50</text>
</g>
</g>
<g id="xtick_40">
<g id="line2d_180">
<path d="M 253.10 590.67 
L 253.10 428.71 
" clip-path="url(#paa78326756)" style="fill: none; stroke: #b0b0b0; stroke-opacity: 0.25; stroke-width: 0.8; stroke-linecap: square"/>
</g>
<g id="line2d_181">
<g>
<use href="#mfdaa00ae71" x="253.10" y="590.67" style="stroke: #000000; stroke-width: 0.8"/>
</g>
</g>
<g id="text_110">
<text style="font-size: 10px; font-family: 'Liberation Sans', sans-serif; text-anchor: middle" x="253.10" y="605.52" transform="rotate(-0 253.10 605.52)" textLength="21.63" lengthAdjust="spacingAndGlyphs">0.75</text>
</g>
</g>
<g id="text_111">
<text style="font-size: 10px; font-family: 'Liberation Sans', sans-serif; text-anchor: middle" x="160.18" y="619.30" transform="rotate(-0 160.18 619.30)" textLength="121.56" lengthAdjust="spacingAndGlyphs">Potential (V vs. Ag/AgCl)</text>
</g>
</g>
<g id="matplotlib.axis_14">
<g id="ytick_33">
<g id="line2d_182">
<path d="M 49.44 578.14 
L 270.92 578.14 
" clip-path="url(#paa78326756)" style="fill: none; stroke: #b0b0b0; stroke-opacity: 0.25; stroke-width: 0.8; stroke-linecap: square"/>
</g>
<g id="line2d_183">
<g>
<use href="#m08813e3456" x="49.44" y="578.14" style="stroke: #000000; stroke-width: 0.8"/>
</g>
</g>
<g id="text_112">
<text style="font-size: 10px; font-family: 'Liberation Sans', sans-serif; text-anchor: end" x="42.44" y="581.94" transform="rotate(-0 42.44 581.94)" textLength="26.79" lengthAdjust="spacingAndGlyphs">−200</text>
</g>
</g>
<g id="ytick_34">
<g id="line2d_184">
<path d="M 49.44 547.44 
L 270.92 547.44 
" clip-path="url(#paa78326756)" style="fill: none; stroke: #b0b0b0; stroke-opacity: 0.25; stroke-width: 0.8; stroke-linecap: square"/>
</g>
<g id="line2d_185">
<g>
<use href="#m08813e3456" x="49.44" y="547.44" style="stroke: #000000; stroke-width: 0.8"/>
</g>
</g>
<g id="text_113">
<text style="font-size: 10px; font-family: 'Liberation Sans', sans-serif; text-anchor: end" x="42.44" y="551.24" transform="rotate(-0 42.44 551.24)" textLength="26.79" lengthAdjust="spacingAndGlyphs">−100</text>
</g>
</g>
<g id="ytick_35">
<g id="line2d_186">
<path d="M 49.44 516.73 
L 270.92 516.73 
" clip-path="url(#paa78326756)" style="fill: none; stroke: #b0b0b0; stroke-opacity: 0.25; stroke-width: 0.8; stroke-linecap: square"/>
</g>
<g id="line2d_187">
<g>
<use href="#m08813e3456" x="49.44" y="516.73" style="stroke: #000000; stroke-width: 0.8"/>
</g>
</g>
<g id="text_114">
<text style="font-size: 10px; font-family: 'Liberation Sans', sans-serif; text-anchor: end" x="42.44" y="520.53" transform="rotate(-0 42.44 520.53)" textLength="5.86" lengthAdjust="spacingAndGlyphs">0</text>
</g>
</g>
<g id="ytick_36">
<g id="line2d_188">
<path d="M 49.44 486.03 
L 270.92 486.03 
" clip-path="url(#paa78326756)" style="fill: none; stroke: #b0b0b0; stroke-opacity: 0.25; stroke-width: 0.8; stroke-linecap: square"/>
</g>
<g id="line2d_189">
<g>
<use href="#m08813e3456" x="49.44" y="486.03" style="stroke: #000000; stroke-width: 0.8"/>
</g>
</g>
<g id="text_115">
<text style="font-size: 10px; font-family: 'Liberation Sans', sans-serif; text-anchor: end" x="42.44" y="489.83" transform="rotate(-0 42.44 489.83)" textLength="18.60" lengthAdjust="spacingAndGlyphs">100</text>
</g>
</g>
<g id="ytick_37">
<g id="line2d_190">
<path d="M 49.44 455.33 
L 270.92 455.33 
" clip-path="url(#paa78326756)" style="fill: none; stroke: #b0b0b0; stroke-opacity: 0.25; stroke-width: 0.8; stroke-linecap: square"/>
</g>
<g id="line2d_191">
<g>
<use href="#m08813e3456" x="49.44" y="455.33" style="stroke: #000000; stroke-width: 0.8"/>
</g>
</g>
<g id="text_116">
<text style="font-size: 10px; font-family: 'Liberation Sans', sans-serif; text-anchor: end" x="42.44" y="459.13" transform="rotate(-0 42.44 459.13)" textLength="18.69" lengthAdjust="spacingAndGlyphs">200</text>
</g>
</g>
<g id="text_117">
<g transform="translate(8.88 540.79) rotate(-90) scale(1.1 1)">
<text>
<tspan x="0.00" y="-0.40" style="font-size: 10px; font-family: 'Liberation Sans'">C</tspan>
<tspan x="6.34" y="-0.40" style="font-size: 10px; font-family: 'Liberation Sans'">u</tspan>
<tspan x="12.10" y="-0.40" style="font-size: 10px; font-family: 'Liberation Sans'">r</tspan>
<tspan x="15.84" y="-0.40" style="font-size: 10px; font-family: 'Liberation Sans'">r</tspan>
<tspan x="19.58" y="-0.40" style="font-size: 10px; font-family: 'Liberation Sans'">e</tspan>
<tspan x="25.17" y="-0.40" style="font-size: 10px; font-family: 'Liberation Sans'">n</tspan>
<tspan x="30.93" y="-0.40" style="font-size: 10px; font-family: 'Liberation Sans'">t</tspan>
<tspan x="34.50" y="-0.40" style="font-size: 10px; font-family: 'Liberation Sans'"> </tspan>
<tspan x="37.39" y="-0.40" style="font-size: 10px; font-family: 'Liberation Sans'">(</tspan>
<tspan x="46.72" y="-0.40" style="font-size: 10px; font-family: 'Liberation Sans'">A</tspan>
<tspan x="52.94" y="-0.40" style="font-size: 10px; font-family: 'Liberation Sans'">)</tspan>
<tspan x="40.94" y="-0.40" style="font-style: italic; font-size: 10px; font-family: 'Liberation Sans'">μ</tspan>
</text>
</g>
</g>
</g>
<g id="line2d_192">
<path d="M 59.38 494.11 
L 67.14 496.74 
L 74.21 498.92 
L 81.34 500.89 
L 88.54 502.66 
L 95.78 504.21 
L 103.07 505.53 
L 109.59 506.49 
L 116.12 507.25 
L 122.67 507.81 
L 129.24 508.14 
L 135.80 508.25 
L 142.37 508.13 
L 147.28 507.83 
L 151.36 507.39 
L 155.42 506.71 
L 158.64 505.97 
L 162.64 505.00 
L 164.24 504.77 
L 165.85 504.73 
L 167.46 504.87 
L 169.88 505.35 
L 182.70 508.47 
L 186.75 509.12 
L 191.65 509.64 
L 196.58 509.92 
L 201.53 509.98 
L 208.13 509.81 
L 224.63 509.24 
L 229.55 509.34 
L 233.63 509.61 
L 237.69 510.11 
L 240.92 510.69 
L 244.14 511.47 
L 247.32 512.46 
L 249.62 513.39 
L 251.80 514.50 
L 253.81 515.82 
L 255.04 516.83 
L 256.15 517.95 
L 257.15 519.20 
L 258.00 520.57 
L 258.71 522.07 
L 259.54 524.51 
L 260.12 527.09 
L 260.50 529.74 
L 260.76 533.22 
L 260.85 537.95 
L 260.85 538.65 
L 253.07 536.08 
L 245.98 533.95 
L 238.81 532.03 
L 232.38 530.53 
L 225.91 529.25 
L 220.22 528.34 
L 214.51 527.64 
L 208.78 527.16 
L 203.04 526.93 
L 198.12 526.94 
L 193.19 527.16 
L 188.27 527.59 
L 177.67 528.74 
L 175.26 528.63 
L 172.87 528.24 
L 168.92 527.25 
L 164.93 526.33 
L 160.90 525.69 
L 156.83 525.27 
L 151.91 525.01 
L 146.14 524.94 
L 136.24 525.12 
L 118.19 525.42 
L 109.19 525.34 
L 101.81 525.06 
L 95.24 524.61 
L 88.64 523.92 
L 83.68 523.22 
L 79.60 522.42 
L 76.40 521.57 
L 73.30 520.48 
L 71.06 519.48 
L 68.91 518.31 
L 66.87 516.94 
L 65.01 515.37 
L 63.37 513.60 
L 62.42 512.31 
L 61.61 510.92 
L 60.94 509.44 
L 60.17 507.09 
L 59.65 504.63 
L 59.34 502.11 
L 59.16 498.76 
L 59.14 496.31 
L 59.14 496.31 
" clip-path="url(#paa78326756)" style="fill: none; stroke: #1f77b4; stroke-width: 1.5; stroke-linecap: square"/>
</g>
<g id="line2d_193">
<path d="M 59.38 481.71 
L 75.52 487.66 
L 84.09 490.60 
L 91.95 493.06 
L 99.09 495.04 
L 105.47 496.58 
L 111.09 497.72 
L 116.75 498.64 
L 122.44 499.33 
L 127.34 499.71 
L 132.27 499.88 
L 137.22 499.82 
L 140.52 499.62 
L 143.79 499.17 
L 146.20 498.62 
L 148.56 497.83 
L 150.85 496.78 
L 156.12 494.15 
L 157.64 493.59 
L 159.18 493.20 
L 160.72 493.01 
L 162.25 493.04 
L 163.78 493.33 
L 165.30 493.82 
L 167.57 494.84 
L 173.66 497.89 
L 176.75 499.10 
L 179.88 500.06 
L 183.03 500.81 
L 186.22 501.36 
L 190.24 501.80 
L 194.31 502.01 
L 199.23 502.03 
L 205.84 501.77 
L 217.48 501.27 
L 222.44 501.30 
L 226.54 501.55 
L 229.79 501.93 
L 233.01 502.53 
L 236.20 503.36 
L 239.32 504.44 
L 242.35 505.78 
L 244.52 506.95 
L 246.59 508.28 
L 248.53 509.75 
L 250.33 511.37 
L 251.97 513.15 
L 253.42 515.07 
L 254.66 517.15 
L 255.70 519.37 
L 256.55 521.72 
L 257.23 524.16 
L 257.89 527.54 
L 258.23 530.13 
L 258.28 532.75 
L 258.28 551.41 
L 252.99 549.50 
L 245.38 546.46 
L 233.78 541.83 
L 228.29 539.87 
L 223.55 538.41 
L 219.57 537.38 
L 215.56 536.58 
L 211.52 536.03 
L 208.27 535.80 
L 205.00 535.78 
L 201.71 535.98 
L 198.42 536.38 
L 194.30 537.12 
L 189.39 538.28 
L 183.75 539.64 
L 181.39 539.97 
L 179.83 540.03 
L 178.28 539.93 
L 176.76 539.67 
L 174.49 539.00 
L 172.24 538.09 
L 168.50 536.28 
L 163.96 534.12 
L 161.64 533.26 
L 159.28 532.64 
L 156.88 532.24 
L 153.63 531.99 
L 150.34 531.98 
L 145.39 532.18 
L 137.96 532.74 
L 123.15 533.95 
L 115.79 534.29 
L 109.25 534.35 
L 103.54 534.18 
L 97.82 533.77 
L 92.90 533.20 
L 87.98 532.41 
L 83.88 531.55 
L 80.64 530.69 
L 77.50 529.62 
L 75.23 528.66 
L 73.06 527.55 
L 71.00 526.25 
L 69.07 524.77 
L 67.30 523.09 
L 65.70 521.24 
L 64.28 519.24 
L 63.07 517.11 
L 62.08 514.85 
L 61.33 512.50 
L 60.80 510.07 
L 60.33 506.76 
L 59.44 499.36 
L 59.14 497.79 
L 59.14 497.79 
" clip-path="url(#paa78326756)" style="fill: none; stroke: #ff7f0e; stroke-width: 1.5; stroke-linecap: square"/>
</g>
<g id="line2d_194">
<path d="M 59.38 471.04 
L 70.06 475.40 
L 79.25 478.91 
L 87.72 481.91 
L 95.51 484.44 
L 102.59 486.52 
L 109.78 488.41 
L 116.25 489.91 
L 121.16 490.86 
L 125.26 491.47 
L 129.35 491.87 
L 133.43 492.01 
L 136.67 491.89 
L 139.07 491.62 
L 141.43 491.13 
L 143.72 490.37 
L 145.20 489.68 
L 147.35 488.39 
L 150.81 485.88 
L 153.54 483.96 
L 155.62 482.80 
L 157.04 482.24 
L 158.49 481.92 
L 159.98 481.86 
L 161.51 482.09 
L 163.07 482.57 
L 164.63 483.24 
L 166.93 484.53 
L 169.13 486.02 
L 172.60 488.66 
L 176.55 491.64 
L 178.54 492.91 
L 180.62 493.96 
L 182.82 494.74 
L 185.13 495.28 
L 187.53 495.62 
L 190.83 495.82 
L 195.06 495.83 
L 206.86 495.66 
L 212.63 495.82 
L 217.52 496.17 
L 222.37 496.74 
L 226.38 497.42 
L 230.37 498.31 
L 234.34 499.43 
L 237.51 500.52 
L 240.60 501.82 
L 242.82 502.96 
L 244.90 504.28 
L 246.81 505.80 
L 248.52 507.53 
L 250.01 509.48 
L 251.31 511.60 
L 252.43 513.84 
L 253.70 516.96 
L 254.73 520.14 
L 255.57 523.34 
L 256.38 527.37 
L 256.97 531.43 
L 257.44 536.33 
L 257.76 542.08 
L 258.66 561.77 
L 259.01 565.03 
L 255.33 563.62 
L 251.65 561.97 
L 246.51 559.39 
L 229.39 550.46 
L 225.57 548.80 
L 221.70 547.38 
L 218.56 546.46 
L 215.37 545.74 
L 212.13 545.27 
L 208.86 545.08 
L 206.38 545.13 
L 203.90 545.37 
L 201.43 545.80 
L 198.96 546.44 
L 196.51 547.28 
L 187.80 550.56 
L 185.52 551.03 
L 184.03 551.13 
L 182.56 551.02 
L 181.12 550.69 
L 179.70 550.16 
L 177.58 549.08 
L 174.04 546.87 
L 171.12 545.10 
L 168.85 543.96 
L 166.53 542.99 
L 163.36 541.94 
L 160.16 541.17 
L 156.94 540.65 
L 153.71 540.33 
L 149.66 540.20 
L 145.59 540.29 
L 139.86 540.67 
L 122.49 542.07 
L 116.68 542.26 
L 110.89 542.22 
L 105.95 541.98 
L 101.04 541.53 
L 96.19 540.83 
L 92.19 540.03 
L 88.23 539.04 
L 84.33 537.83 
L 80.50 536.38 
L 76.73 534.69 
L 73.79 533.13 
L 71.01 531.37 
L 69.05 529.89 
L 67.24 528.27 
L 65.61 526.48 
L 64.17 524.53 
L 62.97 522.40 
L 62.01 520.09 
L 61.26 517.64 
L 60.68 515.10 
L 60.14 511.65 
L 59.71 507.36 
L 59.14 499.63 
L 59.14 499.63 
" clip-path="url(#paa78326756)" style="fill: none; stroke: #2ca02c; stroke-width: 1.5; stroke-linecap: square"/>
</g>
<g id="line2d_195">
<path d="M 59.38 460.49 
L 66.83 464.28 
L 74.24 467.79 
L 80.93 470.72 
L 87.68 473.44 
L 94.53 475.93 
L 100.74 477.98 
L 107.09 479.86 
L 113.61 481.57 
L 118.60 482.69 
L 122.77 483.39 
L 126.07 483.71 
L 129.32 483.75 
L 131.71 483.57 
L 134.04 483.18 
L 136.31 482.56 
L 138.50 481.67 
L 140.60 480.51 
L 142.63 479.10 
L 150.19 473.55 
L 152.46 472.38 
L 154.03 471.79 
L 155.60 471.39 
L 157.14 471.22 
L 158.64 471.31 
L 160.06 471.67 
L 161.43 472.27 
L 162.76 473.07 
L 164.68 474.56 
L 167.17 476.91 
L 171.57 481.15 
L 173.56 482.72 
L 175.62 484.07 
L 177.75 485.22 
L 179.95 486.18 
L 182.21 486.97 
L 185.30 487.80 
L 188.48 488.39 
L 192.54 488.88 
L 197.51 489.18 
L 205.07 489.34 
L 211.76 489.54 
L 215.05 489.82 
L 218.25 490.35 
L 220.58 490.96 
L 222.82 491.81 
L 225.00 492.88 
L 228.54 494.96 
L 232.14 497.06 
L 241.60 502.18 
L 243.55 503.61 
L 245.33 505.25 
L 246.93 507.09 
L 248.35 509.11 
L 249.62 511.25 
L 251.09 514.26 
L 252.33 517.34 
L 253.37 520.48 
L 254.22 523.66 
L 255.06 527.68 
L 255.69 531.75 
L 256.21 536.68 
L 256.58 542.49 
L 256.93 552.47 
L 257.29 560.74 
L 257.76 566.45 
L 258.39 571.28 
L 259.14 575.24 
L 259.50 576.80 
L 255.95 575.18 
L 251.68 572.94 
L 245.98 569.65 
L 233.64 562.40 
L 229.16 560.08 
L 225.37 558.35 
L 221.51 556.87 
L 218.37 555.89 
L 215.18 555.14 
L 211.93 554.63 
L 209.46 554.45 
L 206.99 554.45 
L 204.52 554.68 
L 202.08 555.16 
L 199.68 555.92 
L 197.34 556.99 
L 194.31 558.74 
L 189.92 561.33 
L 187.78 562.28 
L 186.36 562.69 
L 184.95 562.86 
L 183.54 562.77 
L 182.14 562.44 
L 180.74 561.89 
L 179.35 561.15 
L 177.28 559.78 
L 174.55 557.59 
L 167.20 551.28 
L 165.13 549.87 
L 162.98 548.72 
L 160.71 547.87 
L 158.35 547.29 
L 155.93 546.92 
L 152.66 546.70 
L 148.58 546.69 
L 144.52 546.92 
L 138.83 547.48 
L 124.00 549.11 
L 118.15 549.47 
L 113.14 549.59 
L 108.16 549.48 
L 104.04 549.19 
L 99.97 548.70 
L 95.97 547.99 
L 92.04 547.03 
L 88.96 546.08 
L 85.95 544.94 
L 83.01 543.61 
L 80.14 542.08 
L 77.37 540.33 
L 74.68 538.36 
L 72.13 536.18 
L 69.75 533.81 
L 67.57 531.25 
L 66.11 529.24 
L 64.80 527.13 
L 63.67 524.96 
L 62.71 522.72 
L 61.67 519.64 
L 60.87 516.47 
L 60.28 513.24 
L 59.77 509.14 
L 59.41 504.19 
L 59.14 496.80 
L 59.14 496.80 
" clip-path="url(#paa78326756)" style="fill: none; stroke: #d62728; stroke-width: 1.5; stroke-linecap: square"/>
</g>
<g id="line2d_196">
<path d="M 59.38 449.57 
L 63.01 451.49 
L 67.48 453.58 
L 75.06 456.81 
L 81.85 459.78 
L 86.26 461.97 
L 91.27 464.77 
L 97.72 468.38 
L 101.41 470.17 
L 104.46 471.43 
L 107.57 472.52 
L 110.75 473.43 
L 113.98 474.15 
L 117.25 474.67 
L 120.56 474.97 
L 123.90 475.05 
L 127.25 474.89 
L 129.74 474.59 
L 132.17 474.08 
L 134.48 473.32 
L 135.94 472.66 
L 137.32 471.86 
L 138.61 470.91 
L 140.38 469.24 
L 142.58 466.69 
L 145.88 462.69 
L 147.70 460.82 
L 149.70 459.19 
L 151.11 458.30 
L 152.56 457.60 
L 154.03 457.15 
L 155.52 456.97 
L 157.00 457.11 
L 158.47 457.55 
L 159.89 458.24 
L 161.26 459.15 
L 162.57 460.23 
L 164.37 462.05 
L 165.98 464.05 
L 167.92 466.87 
L 172.90 474.61 
L 174.42 476.44 
L 175.55 477.54 
L 176.78 478.52 
L 178.82 479.77 
L 181.02 480.80 
L 183.35 481.63 
L 186.55 482.47 
L 189.82 483.06 
L 194.79 483.69 
L 204.73 484.83 
L 209.60 485.62 
L 214.39 486.63 
L 218.31 487.69 
L 222.17 488.97 
L 225.96 490.51 
L 228.93 491.94 
L 231.83 493.55 
L 234.64 495.33 
L 237.35 497.27 
L 239.94 499.37 
L 242.38 501.61 
L 244.66 504.00 
L 246.76 506.52 
L 248.66 509.17 
L 250.34 511.95 
L 251.79 514.83 
L 253.00 517.83 
L 253.98 520.92 
L 254.77 524.10 
L 255.50 528.17 
L 256.00 532.34 
L 256.35 537.44 
L 256.50 543.49 
L 256.47 553.04 
L 256.49 562.49 
L 256.74 568.34 
L 257.11 572.40 
L 257.70 576.34 
L 258.34 579.40 
L 259.16 582.35 
L 260.19 585.19 
L 260.49 585.88 
L 256.91 584.22 
L 252.65 581.95 
L 247.70 579.02 
L 234.82 571.27 
L 230.39 568.95 
L 226.62 567.24 
L 223.53 566.05 
L 220.39 565.07 
L 217.17 564.32 
L 213.87 563.82 
L 211.36 563.64 
L 208.85 563.68 
L 206.37 563.96 
L 203.94 564.53 
L 202.38 565.08 
L 200.86 565.79 
L 199.41 566.67 
L 198.02 567.72 
L 196.05 569.56 
L 192.98 572.90 
L 190.58 575.36 
L 189.37 576.38 
L 188.14 577.19 
L 186.87 577.74 
L 185.54 577.98 
L 184.16 577.88 
L 182.76 577.47 
L 181.35 576.81 
L 179.96 575.92 
L 178.62 574.85 
L 176.76 572.99 
L 175.12 570.94 
L 173.65 568.76 
L 171.42 565.01 
L 168.81 560.69 
L 167.40 558.76 
L 165.83 557.06 
L 164.68 556.09 
L 163.42 555.27 
L 162.04 554.61 
L 160.56 554.11 
L 158.18 553.59 
L 155.66 553.30 
L 152.20 553.14 
L 145.37 553.13 
L 139.59 553.34 
L 134.73 553.71 
L 129.90 554.30 
L 119.40 555.78 
L 116.12 555.96 
L 112.83 555.92 
L 109.54 555.65 
L 106.25 555.19 
L 103.00 554.52 
L 99.79 553.67 
L 96.64 552.63 
L 93.58 551.40 
L 90.62 549.97 
L 87.81 548.31 
L 85.81 546.92 
L 83.28 544.85 
L 70.99 533.88 
L 69.36 532.09 
L 67.93 530.16 
L 66.68 528.10 
L 65.60 525.92 
L 64.40 522.88 
L 63.42 519.71 
L 62.44 515.64 
L 61.53 510.71 
L 60.69 505.00 
L 59.98 498.54 
L 59.49 492.06 
L 59.22 485.51 
L 59.14 481.34 
L 59.14 481.34 
" clip-path="url(#paa78326756)" style="fill: none; stroke: #9467bd; stroke-width: 1.5; stroke-linecap: square"/>
</g>
<g id="patch_36">
<path d="M 49.44 590.67 
L 49.44 428.71 
" style="fill: none; stroke: #000000; stroke-width: 0.8; stroke-linejoin: miter; stroke-linecap: square"/>
</g>
<g id="patch_37">
<path d="M 270.92 590.67 
L 270.92 428.71 
" style="fill: none; stroke: #000000; stroke-width: 0.8; stroke-linejoin: miter; stroke-linecap: square"/>
</g>
<g id="patch_38">
<path d="M 49.44 590.67 
L 270.92 590.67 
" style="fill: none; stroke: #000000; stroke-width: 0.8; stroke-linejoin: miter; stroke-linecap: square"/>
</g>
<g id="patch_39">
<path d="M 49.44 428.71 
L 270.92 428.71 
" style="fill: none; stroke: #000000; stroke-width: 0.8; stroke-linejoin: miter; stroke-linecap: square"/>
</g>
<g id="text_118">
<text style="font-size: 14px; font-family: 'Liberation Sans', sans-serif; text-anchor: start" x="55.64" y="445.50" transform="rotate(-0 55.64 445.50)" textLength="10.62" lengthAdjust="spacingAndGlyphs">G</text>
</g>
<g id="legend_4">
<g id="patch_40">
<path d="M 215.17 481.20 
L 266.40 481.20 
Q 267.69 481.20 267.69 479.91 
L 267.69 433.22 
Q 267.69 431.93 266.40 431.93 
L 215.17 431.93 
Q 213.88 431.93 213.88 433.22 
L 213.88 479.91 
Q 213.88 481.20 215.17 481.20 
z
" style="fill: #ffffff; opacity: 0.8; stroke: #cccccc; stroke-linejoin: miter"/>
</g>
<g id="line2d_197">
<path d="M 216.46 437.16 
L 222.91 437.16 
L 229.36 437.16 
" style="fill: none; stroke: #1f77b4; stroke-width: 1.5; stroke-linecap: square"/>
</g>
<g id="text_119">
<text style="font-size: 6.45px; font-family: 'Liberation Sans', sans-serif; text-anchor: start" x="234.52" y="439.41" transform="rotate(-0 234.52 439.41)" textLength="26.31" lengthAdjust="spacingAndGlyphs">20 mV/s</text>
</g>
<g id="line2d_198">
<path d="M 216.46 446.62 
L 222.91 446.62 
L 229.36 446.62 
" style="fill: none; stroke: #ff7f0e; stroke-width: 1.5; stroke-linecap: square"/>
</g>
<g id="text_120">
<text style="font-size: 6.45px; font-family: 'Liberation Sans', sans-serif; text-anchor: start" x="234.52" y="448.88" transform="rotate(-0 234.52 448.88)" textLength="26.27" lengthAdjust="spacingAndGlyphs">40 mV/s</text>
</g>
<g id="line2d_199">
<path d="M 216.46 456.09 
L 222.91 456.09 
L 229.36 456.09 
" style="fill: none; stroke: #2ca02c; stroke-width: 1.5; stroke-linecap: square"/>
</g>
<g id="text_121">
<text style="font-size: 6.45px; font-family: 'Liberation Sans', sans-serif; text-anchor: start" x="234.52" y="458.35" transform="rotate(-0 234.52 458.35)" textLength="26.34" lengthAdjust="spacingAndGlyphs">60 mV/s</text>
</g>
<g id="line2d_200">
<path d="M 216.46 465.56 
L 222.91 465.56 
L 229.36 465.56 
" style="fill: none; stroke: #d62728; stroke-width: 1.5; stroke-linecap: square"/>
</g>
<g id="text_122">
<text style="font-size: 6.45px; font-family: 'Liberation Sans', sans-serif; text-anchor: start" x="234.52" y="467.82" transform="rotate(-0 234.52 467.82)" textLength="26.29" lengthAdjust="spacingAndGlyphs">80 mV/s</text>
</g>
<g id="line2d_201">
<path d="M 216.46 475.02 
L 222.91 475.02 
L 229.36 475.02 
" style="fill: none; stroke: #9467bd; stroke-width: 1.5; stroke-linecap: square"/>
</g>
<g id="text_123">
<text style="font-size: 6.45px; font-family: 'Liberation Sans', sans-serif; text-anchor: start" x="234.52" y="477.28" transform="rotate(-0 234.52 477.28)" textLength="30.37" lengthAdjust="spacingAndGlyphs">100 mV/s</text>
</g>
</g>
</g>
<g id="axes_8">
<g id="patch_41">
<path d="M 333.12 590.67 
L 555.21 590.67 
L 555.21 428.71 
L 333.12 428.71 
z
" style="fill: #ffffff"/>
</g>
<g id="matplotlib.axis_15">
<g id="xtick_41">
<g id="line2d_202">
<path d="M 362.49 590.67 
L 362.49 428.71 
" clip-path="url(#peec166a543)" style="fill: none; stroke: #b0b0b0; stroke-opacity: 0.25; stroke-width: 0.8; stroke-linecap: square"/>
</g>
<g id="line2d_203">
<g>
<use href="#mfdaa00ae71" x="362.49" y="590.67" style="stroke: #000000; stroke-width: 0.8"/>
</g>
</g>
<g id="text_124">
<text style="font-size: 10px; font-family: 'Liberation Sans', sans-serif; text-anchor: middle" x="362.49" y="605.52" transform="rotate(-0 362.49 605.52)" textLength="5.53" lengthAdjust="spacingAndGlyphs">5</text>
</g>
</g>
<g id="xtick_42">
<g id="line2d_204">
<path d="M 399.02 590.67 
L 399.02 428.71 
" clip-path="url(#peec166a543)" style="fill: none; stroke: #b0b0b0; stroke-opacity: 0.25; stroke-width: 0.8; stroke-linecap: square"/>
</g>
<g id="line2d_205">
<g>
<use href="#mfdaa00ae71" x="399.02" y="590.67" style="stroke: #000000; stroke-width: 0.8"/>
</g>
</g>
<g id="text_125">
<text style="font-size: 10px; font-family: 'Liberation Sans', sans-serif; text-anchor: middle" x="399.02" y="605.52" transform="rotate(-0 399.02 605.52)" textLength="6.06" lengthAdjust="spacingAndGlyphs">6</text>
</g>
</g>
<g id="xtick_43">
<g id="line2d_206">
<path d="M 435.55 590.67 
L 435.55 428.71 
" clip-path="url(#peec166a543)" style="fill: none; stroke: #b0b0b0; stroke-opacity: 0.25; stroke-width: 0.8; stroke-linecap: square"/>
</g>
<g id="line2d_207">
<g>
<use href="#mfdaa00ae71" x="435.55" y="590.67" style="stroke: #000000; stroke-width: 0.8"/>
</g>
</g>
<g id="text_126">
<text style="font-size: 10px; font-family: 'Liberation Sans', sans-serif; text-anchor: middle" x="435.55" y="605.52" transform="rotate(-0 435.55 605.52)" textLength="5.73" lengthAdjust="spacingAndGlyphs">7</text>
</g>
</g>
<g id="xtick_44">
<g id="line2d_208">
<path d="M 472.07 590.67 
L 472.07 428.71 
" clip-path="url(#peec166a543)" style="fill: none; stroke: #b0b0b0; stroke-opacity: 0.25; stroke-width: 0.8; stroke-linecap: square"/>
</g>
<g id="line2d_209">
<g>
<use href="#mfdaa00ae71" x="472.07" y="590.67" style="stroke: #000000; stroke-width: 0.8"/>
</g>
</g>
<g id="text_127">
<text style="font-size: 10px; font-family: 'Liberation Sans', sans-serif; text-anchor: middle" x="472.07" y="605.52" transform="rotate(-0 472.07 605.52)" textLength="5.91" lengthAdjust="spacingAndGlyphs">8</text>
</g>
</g>
<g id="xtick_45">
<g id="line2d_210">
<path d="M 508.60 590.67 
L 508.60 428.71 
" clip-path="url(#peec166a543)" style="fill: none; stroke: #b0b0b0; stroke-opacity: 0.25; stroke-width: 0.8; stroke-linecap: square"/>
</g>
<g id="line2d_211">
<g>
<use href="#mfdaa00ae71" x="508.60" y="590.67" style="stroke: #000000; stroke-width: 0.8"/>
</g>
</g>
<g id="text_128">
<text style="font-size: 10px; font-family: 'Liberation Sans', sans-serif; text-anchor: middle" x="508.60" y="605.52" transform="rotate(-0 508.60 605.52)" textLength="6.05" lengthAdjust="spacingAndGlyphs">9</text>
</g>
</g>
<g id="xtick_46">
<g id="line2d_212">
<path d="M 545.13 590.67 
L 545.13 428.71 
" clip-path="url(#peec166a543)" style="fill: none; stroke: #b0b0b0; stroke-opacity: 0.25; stroke-width: 0.8; stroke-linecap: square"/>
</g>
<g id="line2d_213">
<g>
<use href="#mfdaa00ae71" x="545.13" y="590.67" style="stroke: #000000; stroke-width: 0.8"/>
</g>
</g>
<g id="text_129">
<text style="font-size: 10px; font-family: 'Liberation Sans', sans-serif; text-anchor: middle" x="545.13" y="605.52" transform="rotate(-0 545.13 605.52)" textLength="12.22" lengthAdjust="spacingAndGlyphs">10</text>
</g>
</g>
<g id="text_130">
<g transform="translate(391.17 621.82) scale(1.1 1)">
<text>
<tspan x="0.00" y="-0.97" style="font-size: 10px; font-family: 'Liberation Sans'">(</tspan>
<tspan x="3.54" y="-0.97" style="font-size: 10px; font-family: 'Liberation Sans'">S</tspan>
<tspan x="9.31" y="-0.97" style="font-size: 10px; font-family: 'Liberation Sans'">c</tspan>
<tspan x="14.31" y="-0.97" style="font-size: 10px; font-family: 'Liberation Sans'">a</tspan>
<tspan x="19.88" y="-0.97" style="font-size: 10px; font-family: 'Liberation Sans'">n</tspan>
<tspan x="25.64" y="-0.97" style="font-size: 10px; font-family: 'Liberation Sans'"> </tspan>
<tspan x="28.53" y="-0.97" style="font-size: 10px; font-family: 'Liberation Sans'">R</tspan>
<tspan x="34.85" y="-0.97" style="font-size: 10px; font-family: 'Liberation Sans'">a</tspan>
<tspan x="40.42" y="-0.97" style="font-size: 10px; font-family: 'Liberation Sans'">t</tspan>
<tspan x="43.98" y="-0.97" style="font-size: 10px; font-family: 'Liberation Sans'">e</tspan>
<tspan x="49.58" y="-0.97" style="font-size: 10px; font-family: 'Liberation Sans'"> </tspan>
<tspan x="52.47" y="-0.97" style="font-size: 10px; font-family: 'Liberation Sans'">(</tspan>
<tspan x="56.01" y="-0.97" style="font-size: 10px; font-family: 'Liberation Sans'">m</tspan>
<tspan x="64.87" y="-0.97" style="font-size: 10px; font-family: 'Liberation Sans'">V</tspan>
<tspan x="71.09" y="-0.97" style="font-size: 10px; font-family: 'Liberation Sans'">/</tspan>
<tspan x="74.15" y="-0.97" style="font-size: 10px; font-family: 'Liberation Sans'">s</tspan>
<tspan x="78.89" y="-0.97" style="font-size: 10px; font-family: 'Liberation Sans'">)</tspan>
<tspan x="82.43" y="-0.97" style="font-size: 10px; font-family: 'Liberation Sans'">)</tspan>
<tspan x="86.07" y="-4.80" style="font-size: 7px; font-family: 'Liberation Sans'">1</tspan>
<tspan x="90.12" y="-4.80" style="font-size: 7px; font-family: 'Liberation Sans'">/</tspan>
<tspan x="92.02" y="-4.80" style="font-size: 7px; font-family: 'Liberation Sans'">2</tspan>
</text>
</g>
</g>
</g>
<g id="matplotlib.axis_16">
<g id="ytick_38">
<g id="line2d_214">
<path d="M 333.12 583.68 
L 555.21 583.68 
" clip-path="url(#peec166a543)" style="fill: none; stroke: #b0b0b0; stroke-opacity: 0.25; stroke-width: 0.8; stroke-linecap: square"/>
</g>
<g id="line2d_215">
<g>
<use href="#m08813e3456" x="333.12" y="583.68" style="stroke: #000000; stroke-width: 0.8"/>
</g>
</g>
<g id="text_131">
<text style="font-size: 10px; font-family: 'Liberation Sans', sans-serif; text-anchor: end" x="326.12" y="587.48" transform="rotate(-0 326.12 587.48)" textLength="20.26" lengthAdjust="spacingAndGlyphs">−75</text>
</g>
</g>
<g id="ytick_39">
<g id="line2d_216">
<path d="M 333.12 559.06 
L 555.21 559.06 
" clip-path="url(#peec166a543)" style="fill: none; stroke: #b0b0b0; stroke-opacity: 0.25; stroke-width: 0.8; stroke-linecap: square"/>
</g>
<g id="line2d_217">
<g>
<use href="#m08813e3456" x="333.12" y="559.06" style="stroke: #000000; stroke-width: 0.8"/>
</g>
</g>
<g id="text_132">
<text style="font-size: 10px; font-family: 'Liberation Sans', sans-serif; text-anchor: end" x="326.12" y="562.85" transform="rotate(-0 326.12 562.85)" textLength="20.44" lengthAdjust="spacingAndGlyphs">−50</text>
</g>
</g>
<g id="ytick_40">
<g id="line2d_218">
<path d="M 333.12 534.43 
L 555.21 534.43 
" clip-path="url(#peec166a543)" style="fill: none; stroke: #b0b0b0; stroke-opacity: 0.25; stroke-width: 0.8; stroke-linecap: square"/>
</g>
<g id="line2d_219">
<g>
<use href="#m08813e3456" x="333.12" y="534.43" style="stroke: #000000; stroke-width: 0.8"/>
</g>
</g>
<g id="text_133">
<text style="font-size: 10px; font-family: 'Liberation Sans', sans-serif; text-anchor: end" x="326.12" y="538.23" transform="rotate(-0 326.12 538.23)" textLength="20.26" lengthAdjust="spacingAndGlyphs">−25</text>
</g>
</g>
<g id="ytick_41">
<g id="line2d_220">
<path d="M 333.12 509.81 
L 555.21 509.81 
" clip-path="url(#peec166a543)" style="fill: none; stroke: #b0b0b0; stroke-opacity: 0.25; stroke-width: 0.8; stroke-linecap: square"/>
</g>
<g id="line2d_221">
<g>
<use href="#m08813e3456" x="333.12" y="509.81" style="stroke: #000000; stroke-width: 0.8"/>
</g>
</g>
<g id="text_134">
<text style="font-size: 10px; font-family: 'Liberation Sans', sans-serif; text-anchor: end" x="326.12" y="513.61" transform="rotate(-0 326.12 513.61)" textLength="5.86" lengthAdjust="spacingAndGlyphs">0</text>
</g>
</g>
<g id="ytick_42">
<g id="line2d_222">
<path d="M 333.12 485.19 
L 555.21 485.19 
" clip-path="url(#peec166a543)" style="fill: none; stroke: #b0b0b0; stroke-opacity: 0.25; stroke-width: 0.8; stroke-linecap: square"/>
</g>
<g id="line2d_223">
<g>
<use href="#m08813e3456" x="333.12" y="485.19" style="stroke: #000000; stroke-width: 0.8"/>
</g>
</g>
<g id="text_135">
<text style="font-size: 10px; font-family: 'Liberation Sans', sans-serif; text-anchor: end" x="326.12" y="488.99" transform="rotate(-0 326.12 488.99)" textLength="12.12" lengthAdjust="spacingAndGlyphs">25</text>
</g>
</g>
<g id="ytick_43">
<g id="line2d_224">
<path d="M 333.12 460.57 
L 555.21 460.57 
" clip-path="url(#peec166a543)" style="fill: none; stroke: #b0b0b0; stroke-opacity: 0.25; stroke-width: 0.8; stroke-linecap: square"/>
</g>
<g id="line2d_225">
<g>
<use href="#m08813e3456" x="333.12" y="460.57" style="stroke: #000000; stroke-width: 0.8"/>
</g>
</g>
<g id="text_136">
<text style="font-size: 10px; font-family: 'Liberation Sans', sans-serif; text-anchor: end" x="326.12" y="464.37" transform="rotate(-0 326.12 464.37)" textLength="12.15" lengthAdjust="spacingAndGlyphs">50</text>
</g>
</g>
<g id="ytick_44">
<g id="line2d_226">
<path d="M 333.12 435.95 
L 555.21 435.95 
" clip-path="url(#peec166a543)" style="fill: none; stroke: #b0b0b0; stroke-opacity: 0.25; stroke-width: 0.8; stroke-linecap: square"/>
</g>
<g id="line2d_227">
<g>
<use href="#m08813e3456" x="333.12" y="435.95" style="stroke: #000000; stroke-width: 0.8"/>
</g>
</g>
<g id="text_137">
<text style="font-size: 10px; font-family: 'Liberation Sans', sans-serif; text-anchor: end" x="326.12" y="439.75" transform="rotate(-0 326.12 439.75)" textLength="12.04" lengthAdjust="spacingAndGlyphs">75</text>
</g>
</g>
<g id="text_138">
<g transform="translate(298.92 554.44) rotate(-90) scale(1.1 1)">
<text>
<tspan x="0.00" y="-0.40" style="font-size: 10px; font-family: 'Liberation Sans'">P</tspan>
<tspan x="5.48" y="-0.40" style="font-size: 10px; font-family: 'Liberation Sans'">e</tspan>
<tspan x="11.07" y="-0.40" style="font-size: 10px; font-family: 'Liberation Sans'">a</tspan>
<tspan x="16.64" y="-0.40" style="font-size: 10px; font-family: 'Liberation Sans'">k</tspan>
<tspan x="21.91" y="-0.40" style="font-size: 10px; font-family: 'Liberation Sans'"> </tspan>
<tspan x="24.80" y="-0.40" style="font-size: 10px; font-family: 'Liberation Sans'">C</tspan>
<tspan x="31.14" y="-0.40" style="font-size: 10px; font-family: 'Liberation Sans'">u</tspan>
<tspan x="36.90" y="-0.40" style="font-size: 10px; font-family: 'Liberation Sans'">r</tspan>
<tspan x="40.64" y="-0.40" style="font-size: 10px; font-family: 'Liberation Sans'">r</tspan>
<tspan x="44.38" y="-0.40" style="font-size: 10px; font-family: 'Liberation Sans'">e</tspan>
<tspan x="49.97" y="-0.40" style="font-size: 10px; font-family: 'Liberation Sans'">n</tspan>
<tspan x="55.73" y="-0.40" style="font-size: 10px; font-family: 'Liberation Sans'">t</tspan>
<tspan x="59.30" y="-0.40" style="font-size: 10px; font-family: 'Liberation Sans'"> </tspan>
<tspan x="62.19" y="-0.40" style="font-size: 10px; font-family: 'Liberation Sans'">(</tspan>
<tspan x="71.52" y="-0.40" style="font-size: 10px; font-family: 'Liberation Sans'">A</tspan>
<tspan x="77.74" y="-0.40" style="font-size: 10px; font-family: 'Liberation Sans'">)</tspan>
<tspan x="65.74" y="-0.40" style="font-style: italic; font-size: 10px; font-family: 'Liberation Sans'">μ</tspan>
</text>
</g>
</g>
</g>
<g id="line2d_228">
<path d="M 343.21 503.96 
L 410.87 483.71 
L 462.79 468.17 
L 506.57 455.07 
L 545.13 443.53 
" clip-path="url(#peec166a543)" style="fill: none; stroke-dasharray: 3.72,1.59; stroke-dashoffset: 0; stroke: #1f77b4; stroke-opacity: 0.8; stroke-width: 1.2"/>
</g>
<g id="line2d_229">
<path d="M 343.21 520.41 
L 410.87 539.56 
L 462.79 554.26 
L 506.57 566.65 
L 545.13 577.57 
" clip-path="url(#peec166a543)" style="fill: none; stroke-dasharray: 3.72,1.59; stroke-dashoffset: 0; stroke: #ff7f0e; stroke-opacity: 0.8; stroke-width: 1.2"/>
</g>
<g id="patch_42">
<path d="M 333.12 590.67 
L 333.12 428.71 
" style="fill: none; stroke: #000000; stroke-width: 0.8; stroke-linejoin: miter; stroke-linecap: square"/>
</g>
<g id="patch_43">
<path d="M 555.21 590.67 
L 555.21 428.71 
" style="fill: none; stroke: #000000; stroke-width: 0.8; stroke-linejoin: miter; stroke-linecap: square"/>
</g>
<g id="patch_44">
<path d="M 333.12 590.67 
L 555.21 590.67 
" style="fill: none; stroke: #000000; stroke-width: 0.8; stroke-linejoin: miter; stroke-linecap: square"/>
</g>
<g id="patch_45">
<path d="M 333.12 428.71 
L 555.21 428.71 
" style="fill: none; stroke: #000000; stroke-width: 0.8; stroke-linejoin: miter; stroke-linecap: square"/>
</g>
<g id="PathCollection_4">
<g clip-path="url(#peec166a543)">
<use href="#m11e9e04bcd" x="343.21" y="498.98" style="fill: #1f77b4; fill-opacity: 0.9; stroke: #1f77b4; stroke-opacity: 0.9"/>
<use href="#m11e9e04bcd" x="410.87" y="486.17" style="fill: #1f77b4; fill-opacity: 0.9; stroke: #1f77b4; stroke-opacity: 0.9"/>
<use href="#m11e9e04bcd" x="462.79" y="473.37" style="fill: #1f77b4; fill-opacity: 0.9; stroke: #1f77b4; stroke-opacity: 0.9"/>
<use href="#m11e9e04bcd" x="506.57" y="458.60" style="fill: #1f77b4; fill-opacity: 0.9; stroke: #1f77b4; stroke-opacity: 0.9"/>
<use href="#m11e9e04bcd" x="545.13" y="435.95" style="fill: #1f77b4; fill-opacity: 0.9; stroke: #1f77b4; stroke-opacity: 0.9"/>
</g>
</g>
<g id="PathCollection_5">
<defs>
<path id="mab28287d52" d="M 0 3.16 
C 0.83 3.16 1.64 2.82 2.23 2.23 
C 2.82 1.64 3.16 0.83 3.16 0 
C 3.16 -0.83 2.82 -1.64 2.23 -2.23 
C 1.64 -2.82 0.83 -3.16 0 -3.16 
C -0.83 -3.16 -1.64 -2.82 -2.23 -2.23 
C -2.82 -1.64 -3.16 -0.83 -3.16 0 
C -3.16 0.83 -2.82 1.64 -2.23 2.23 
C -1.64 2.82 -0.83 3.16 0 3.16 
z
" style="stroke: #ff7f0e; stroke-opacity: 0.9"/>
</defs>
<g clip-path="url(#peec166a543)">
<use href="#mab28287d52" x="343.21" y="523.60" style="fill: #ff7f0e; fill-opacity: 0.9; stroke: #ff7f0e; stroke-opacity: 0.9"/>
<use href="#mab28287d52" x="410.87" y="537.39" style="fill: #ff7f0e; fill-opacity: 0.9; stroke: #ff7f0e; stroke-opacity: 0.9"/>
<use href="#mab28287d52" x="462.79" y="550.19" style="fill: #ff7f0e; fill-opacity: 0.9; stroke: #ff7f0e; stroke-opacity: 0.9"/>
<use href="#mab28287d52" x="506.57" y="564.96" style="fill: #ff7f0e; fill-opacity: 0.9; stroke: #ff7f0e; stroke-opacity: 0.9"/>
<use href="#mab28287d52" x="545.13" y="582.69" style="fill: #ff7f0e; fill-opacity: 0.9; stroke: #ff7f0e; stroke-opacity: 0.9"/>
</g>
</g>
<g id="text_139">
<g transform="translate(362.49 460.57) scale(1.1 1)">
<text>
<tspan x="0.00" y="-0.82" style="font-style: italic; font-size: 11px; font-family: 'Liberation Sans'">y</tspan>
<tspan x="40.45" y="-0.82" style="font-style: italic; font-size: 11px; font-family: 'Liberation Sans'">x</tspan>
<tspan x="7.86" y="-0.82" style="font-size: 11px; font-family: 'Liberation Sans'">=</tspan>
<tspan x="18.19" y="-0.82" style="font-size: 11px; font-family: 'Liberation Sans'">1</tspan>
<tspan x="24.55" y="-0.82" style="font-size: 11px; font-family: 'Liberation Sans'">1</tspan>
<tspan x="30.91" y="-0.82" style="font-size: 11px; font-family: 'Liberation Sans'">.</tspan>
<tspan x="34.09" y="-0.82" style="font-size: 11px; font-family: 'Liberation Sans'">1</tspan>
<tspan x="48.32" y="-0.82" style="font-size: 11px; font-family: 'Liberation Sans'">−</tspan>
<tspan x="58.65" y="-0.82" style="font-size: 11px; font-family: 'Liberation Sans'">4</tspan>
<tspan x="65.01" y="-0.82" style="font-size: 11px; font-family: 'Liberation Sans'">3</tspan>
<tspan x="71.37" y="-0.82" style="font-size: 11px; font-family: 'Liberation Sans'">.</tspan>
<tspan x="73.76" y="-0.82" style="font-size: 11px; font-family: 'Liberation Sans'">7</tspan>
</text>
</g>
</g>
<g id="text_140">
<g transform="translate(362.49 570.48) scale(1.1 1)">
<text>
<tspan x="0.00" y="-0.82" style="font-style: italic; font-size: 11px; font-family: 'Liberation Sans'">y</tspan>
<tspan x="52.73" y="-0.82" style="font-style: italic; font-size: 11px; font-family: 'Liberation Sans'">x</tspan>
<tspan x="7.86" y="-0.82" style="font-size: 11px; font-family: 'Liberation Sans'">=</tspan>
<tspan x="20.14" y="-0.82" style="font-size: 11px; font-family: 'Liberation Sans'">−</tspan>
<tspan x="30.46" y="-0.82" style="font-size: 11px; font-family: 'Liberation Sans'">1</tspan>
<tspan x="36.83" y="-0.82" style="font-size: 11px; font-family: 'Liberation Sans'">0</tspan>
<tspan x="43.19" y="-0.82" style="font-size: 11px; font-family: 'Liberation Sans'">.</tspan>
<tspan x="46.37" y="-0.82" style="font-size: 11px; font-family: 'Liberation Sans'">5</tspan>
<tspan x="60.60" y="-0.82" style="font-size: 11px; font-family: 'Liberation Sans'">+</tspan>
<tspan x="70.92" y="-0.82" style="font-size: 11px; font-family: 'Liberation Sans'">3</tspan>
<tspan x="77.29" y="-0.82" style="font-size: 11px; font-family: 'Liberation Sans'">6</tspan>
<tspan x="83.65" y="-0.82" style="font-size: 11px; font-family: 'Liberation Sans'">.</tspan>
<tspan x="86.26" y="-0.82" style="font-size: 11px; font-family: 'Liberation Sans'">2</tspan>
</text>
</g>
</g>
<g id="text_141">
<text style="font-size: 14px; font-family: 'Liberation Sans', sans-serif; text-anchor: start" x="339.34" y="445.50" transform="rotate(-0 339.34 445.50)" textLength="10.05" lengthAdjust="spacingAndGlyphs">H</text>
</g>
</g>
</g>
<defs>
<clipPath id="p12bb316b77">
<rect x="49.44" y="4.29" width="221.47" height="161.71"/>
</clipPath>
<clipPath id="pfe978ec8fa">
<rect x="333.12" y="4.29" width="222.08" height="161.71"/>
</clipPath>
<clipPath id="pfc17582b46">
<rect x="617.54" y="4.29" width="221.34" height="161.71"/>
</clipPath>
<clipPath id="paf037e5219">
<rect x="49.44" y="216.68" width="221.47" height="161.59"/>
</clipPath>
<clipPath id="p5670c58c8d">
<rect x="333.12" y="216.68" width="222.08" height="161.59"/>
</clipPath>
<clipPath id="p12f22dbccf">
<rect x="617.54" y="216.56" width="221.34" height="374.11"/>
</clipPath>
<clipPath id="paa78326756">
<rect x="49.44" y="428.71" width="221.47" height="161.96"/>
</clipPath>
<clipPath id="peec166a543">
<rect x="333.12" y="428.71" width="222.08" height="161.96"/>
</clipPath>
</defs>
</svg>

</body></html>
